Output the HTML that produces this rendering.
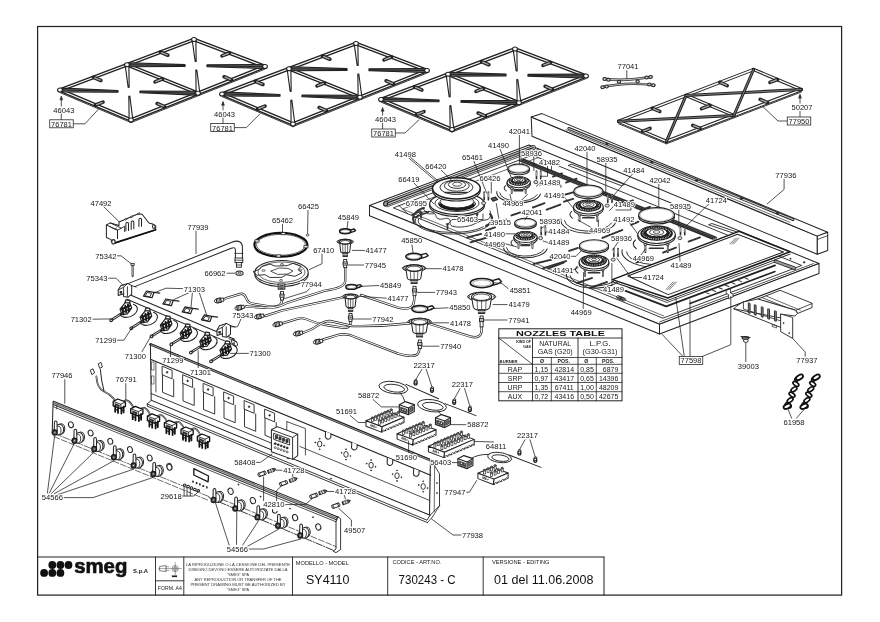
<!DOCTYPE html>
<html><head><meta charset="utf-8"><title>SY4110 exploded view</title>
<style>
html,body{margin:0;padding:0;background:#fff;}
body{width:880px;height:622px;overflow:hidden;}
svg{display:block;font-family:"Liberation Sans",sans-serif;will-change:transform;}
svg polyline,svg polygon,svg path,svg line{stroke-linejoin:round;stroke-linecap:round;}
</style></head><body>
<svg width="880" height="622" viewBox="0 0 880 622">
<rect x="0" y="0" width="880" height="622" fill="#fff"/>
<line x1="60" y1="90" x2="194" y2="39.5" stroke="#222" stroke-width="3.9"/>
<line x1="60" y1="90" x2="194" y2="39.5" stroke="#fff" stroke-width="1.12"/>
<line x1="194" y1="39.5" x2="265" y2="66.5" stroke="#222" stroke-width="3.9"/>
<line x1="194" y1="39.5" x2="265" y2="66.5" stroke="#fff" stroke-width="1.12"/>
<line x1="265" y1="66.5" x2="131" y2="120" stroke="#222" stroke-width="3.9"/>
<line x1="265" y1="66.5" x2="131" y2="120" stroke="#fff" stroke-width="1.12"/>
<line x1="131" y1="120" x2="60" y2="90" stroke="#222" stroke-width="3.9"/>
<line x1="131" y1="120" x2="60" y2="90" stroke="#fff" stroke-width="1.12"/>
<line x1="127" y1="64.75" x2="198" y2="93.25" stroke="#222" stroke-width="3.9"/>
<line x1="127" y1="64.75" x2="198" y2="93.25" stroke="#fff" stroke-width="1.12"/>
<polygon points="62.71,92.06 117.94,92.26 117.98,90.47 62.81,88.07" fill="#666" stroke="#222" stroke-width="1.12"/>
<line x1="62.76" y1="90.06" x2="117.96" y2="91.36" stroke="#222" stroke-width="1.01"/>
<polygon points="125.28,65.96 128.18,87.36 129.18,87.29 128.88,65.69" fill="#fff" stroke="#222" stroke-width="1.12"/>
<polygon points="195.29,91.19 140.06,90.99 140.02,92.78 195.19,95.18" fill="#666" stroke="#222" stroke-width="1.12"/>
<line x1="195.24" y1="93.19" x2="140.04" y2="91.89" stroke="#222" stroke-width="1.01"/>
<polygon points="132.72,118.74 129.82,96.13 128.82,96.2 129.12,118.99" fill="#fff" stroke="#222" stroke-width="1.12"/>
<polygon points="129.73,66.78 184.95,66.38 184.97,64.59 129.79,62.79" fill="#666" stroke="#222" stroke-width="1.12"/>
<line x1="129.76" y1="64.78" x2="184.96" y2="65.48" stroke="#222" stroke-width="1.01"/>
<polygon points="192.29,40.68 195.18,61.48 196.18,61.41 195.87,40.41" fill="#fff" stroke="#222" stroke-width="1.12"/>
<polygon points="262.27,64.47 207.05,64.87 207.03,66.66 262.21,68.46" fill="#666" stroke="#222" stroke-width="1.12"/>
<line x1="262.24" y1="66.47" x2="207.04" y2="65.77" stroke="#222" stroke-width="1.01"/>
<polygon points="199.72,92.02 196.82,70.01 195.82,70.08 196.12,92.27" fill="#fff" stroke="#222" stroke-width="1.12"/>
<line x1="60" y1="92.6" x2="131" y2="122.6" stroke="#222" stroke-width="0.9"/>
<line x1="131" y1="122.6" x2="265" y2="69.1" stroke="#222" stroke-width="0.9"/>
<line x1="93.5" y1="77.38" x2="100.87" y2="80.49" stroke="#222" stroke-width="3.6"/>
<line x1="94.61" y1="77.84" x2="100.13" y2="80.18" stroke="#aaa" stroke-width="1.34"/>
<line x1="164.5" y1="106.62" x2="157.13" y2="103.51" stroke="#222" stroke-width="3.6"/>
<line x1="163.39" y1="106.16" x2="157.87" y2="103.82" stroke="#aaa" stroke-width="1.34"/>
<line x1="160.5" y1="52.12" x2="167.87" y2="55.24" stroke="#222" stroke-width="3.6"/>
<line x1="161.61" y1="52.59" x2="167.13" y2="54.93" stroke="#aaa" stroke-width="1.34"/>
<line x1="231.5" y1="79.88" x2="224.13" y2="76.76" stroke="#222" stroke-width="3.6"/>
<line x1="230.39" y1="79.41" x2="224.87" y2="77.07" stroke="#aaa" stroke-width="1.34"/>
<line x1="95.5" y1="105" x2="102.99" y2="102.18" stroke="#222" stroke-width="3.6"/>
<line x1="96.62" y1="104.58" x2="102.24" y2="102.46" stroke="#aaa" stroke-width="1.34"/>
<line x1="229.5" y1="53" x2="222.01" y2="55.82" stroke="#222" stroke-width="3.6"/>
<line x1="228.38" y1="53.42" x2="222.76" y2="55.54" stroke="#aaa" stroke-width="1.34"/>
<line x1="162.5" y1="79" x2="155.01" y2="81.82" stroke="#222" stroke-width="3.6"/>
<line x1="161.38" y1="79.42" x2="155.76" y2="81.54" stroke="#aaa" stroke-width="1.34"/>
<ellipse cx="60" cy="90" rx="2.4" ry="2" fill="#fff" stroke="#222" stroke-width="1.12"/>
<ellipse cx="194" cy="39.5" rx="2.4" ry="2" fill="#fff" stroke="#222" stroke-width="1.12"/>
<ellipse cx="265" cy="66.5" rx="2.4" ry="2" fill="#fff" stroke="#222" stroke-width="1.12"/>
<ellipse cx="131" cy="120" rx="2.4" ry="2" fill="#fff" stroke="#222" stroke-width="1.12"/>
<ellipse cx="127" cy="64.75" rx="2.4" ry="2" fill="#fff" stroke="#222" stroke-width="1.12"/>
<ellipse cx="198" cy="93.25" rx="2.4" ry="2" fill="#fff" stroke="#222" stroke-width="1.12"/>
<line x1="222" y1="94" x2="356" y2="43.5" stroke="#222" stroke-width="3.9"/>
<line x1="222" y1="94" x2="356" y2="43.5" stroke="#fff" stroke-width="1.12"/>
<line x1="356" y1="43.5" x2="427" y2="70.5" stroke="#222" stroke-width="3.9"/>
<line x1="356" y1="43.5" x2="427" y2="70.5" stroke="#fff" stroke-width="1.12"/>
<line x1="427" y1="70.5" x2="293" y2="124" stroke="#222" stroke-width="3.9"/>
<line x1="427" y1="70.5" x2="293" y2="124" stroke="#fff" stroke-width="1.12"/>
<line x1="293" y1="124" x2="222" y2="94" stroke="#222" stroke-width="3.9"/>
<line x1="293" y1="124" x2="222" y2="94" stroke="#fff" stroke-width="1.12"/>
<line x1="289" y1="68.75" x2="360" y2="97.25" stroke="#222" stroke-width="3.9"/>
<line x1="289" y1="68.75" x2="360" y2="97.25" stroke="#fff" stroke-width="1.12"/>
<polygon points="224.71,96.06 279.94,96.26 279.98,94.47 224.81,92.07" fill="#666" stroke="#222" stroke-width="1.12"/>
<line x1="224.76" y1="94.06" x2="279.96" y2="95.36" stroke="#222" stroke-width="1.01"/>
<polygon points="287.28,69.96 290.18,91.36 291.18,91.29 290.88,69.69" fill="#fff" stroke="#222" stroke-width="1.12"/>
<polygon points="357.29,95.19 302.06,94.99 302.02,96.78 357.19,99.18" fill="#666" stroke="#222" stroke-width="1.12"/>
<line x1="357.24" y1="97.19" x2="302.04" y2="95.89" stroke="#222" stroke-width="1.01"/>
<polygon points="294.72,122.74 291.82,100.13 290.82,100.2 291.12,122.99" fill="#fff" stroke="#222" stroke-width="1.12"/>
<polygon points="291.73,70.78 346.95,70.38 346.97,68.59 291.79,66.79" fill="#666" stroke="#222" stroke-width="1.12"/>
<line x1="291.76" y1="68.78" x2="346.96" y2="69.48" stroke="#222" stroke-width="1.01"/>
<polygon points="354.29,44.68 357.18,65.48 358.18,65.41 357.87,44.41" fill="#fff" stroke="#222" stroke-width="1.12"/>
<polygon points="424.27,68.47 369.05,68.87 369.03,70.66 424.21,72.46" fill="#666" stroke="#222" stroke-width="1.12"/>
<line x1="424.24" y1="70.47" x2="369.04" y2="69.77" stroke="#222" stroke-width="1.01"/>
<polygon points="361.72,96.02 358.82,74.01 357.82,74.08 358.12,96.27" fill="#fff" stroke="#222" stroke-width="1.12"/>
<line x1="222" y1="96.6" x2="293" y2="126.6" stroke="#222" stroke-width="0.9"/>
<line x1="293" y1="126.6" x2="427" y2="73.1" stroke="#222" stroke-width="0.9"/>
<line x1="255.5" y1="81.38" x2="262.87" y2="84.49" stroke="#222" stroke-width="3.6"/>
<line x1="256.61" y1="81.84" x2="262.13" y2="84.18" stroke="#aaa" stroke-width="1.34"/>
<line x1="326.5" y1="110.62" x2="319.13" y2="107.51" stroke="#222" stroke-width="3.6"/>
<line x1="325.39" y1="110.16" x2="319.87" y2="107.82" stroke="#aaa" stroke-width="1.34"/>
<line x1="322.5" y1="56.12" x2="329.87" y2="59.24" stroke="#222" stroke-width="3.6"/>
<line x1="323.61" y1="56.59" x2="329.13" y2="58.93" stroke="#aaa" stroke-width="1.34"/>
<line x1="393.5" y1="83.88" x2="386.13" y2="80.76" stroke="#222" stroke-width="3.6"/>
<line x1="392.39" y1="83.41" x2="386.87" y2="81.07" stroke="#aaa" stroke-width="1.34"/>
<line x1="257.5" y1="109" x2="264.99" y2="106.18" stroke="#222" stroke-width="3.6"/>
<line x1="258.62" y1="108.58" x2="264.24" y2="106.46" stroke="#aaa" stroke-width="1.34"/>
<line x1="391.5" y1="57" x2="384.01" y2="59.82" stroke="#222" stroke-width="3.6"/>
<line x1="390.38" y1="57.42" x2="384.76" y2="59.54" stroke="#aaa" stroke-width="1.34"/>
<line x1="324.5" y1="83" x2="317.01" y2="85.82" stroke="#222" stroke-width="3.6"/>
<line x1="323.38" y1="83.42" x2="317.76" y2="85.54" stroke="#aaa" stroke-width="1.34"/>
<ellipse cx="222" cy="94" rx="2.4" ry="2" fill="#fff" stroke="#222" stroke-width="1.12"/>
<ellipse cx="356" cy="43.5" rx="2.4" ry="2" fill="#fff" stroke="#222" stroke-width="1.12"/>
<ellipse cx="427" cy="70.5" rx="2.4" ry="2" fill="#fff" stroke="#222" stroke-width="1.12"/>
<ellipse cx="293" cy="124" rx="2.4" ry="2" fill="#fff" stroke="#222" stroke-width="1.12"/>
<ellipse cx="289" cy="68.75" rx="2.4" ry="2" fill="#fff" stroke="#222" stroke-width="1.12"/>
<ellipse cx="360" cy="97.25" rx="2.4" ry="2" fill="#fff" stroke="#222" stroke-width="1.12"/>
<line x1="381" y1="99.5" x2="515" y2="49" stroke="#222" stroke-width="3.9"/>
<line x1="381" y1="99.5" x2="515" y2="49" stroke="#fff" stroke-width="1.12"/>
<line x1="515" y1="49" x2="586" y2="76" stroke="#222" stroke-width="3.9"/>
<line x1="515" y1="49" x2="586" y2="76" stroke="#fff" stroke-width="1.12"/>
<line x1="586" y1="76" x2="452" y2="129.5" stroke="#222" stroke-width="3.9"/>
<line x1="586" y1="76" x2="452" y2="129.5" stroke="#fff" stroke-width="1.12"/>
<line x1="452" y1="129.5" x2="381" y2="99.5" stroke="#222" stroke-width="3.9"/>
<line x1="452" y1="129.5" x2="381" y2="99.5" stroke="#fff" stroke-width="1.12"/>
<line x1="448" y1="74.25" x2="519" y2="102.75" stroke="#222" stroke-width="3.9"/>
<line x1="448" y1="74.25" x2="519" y2="102.75" stroke="#fff" stroke-width="1.12"/>
<polygon points="383.71,101.56 438.94,101.76 438.98,99.97 383.81,97.57" fill="#666" stroke="#222" stroke-width="1.12"/>
<line x1="383.76" y1="99.56" x2="438.96" y2="100.86" stroke="#222" stroke-width="1.01"/>
<polygon points="446.28,75.46 449.18,96.86 450.18,96.79 449.88,75.19" fill="#fff" stroke="#222" stroke-width="1.12"/>
<polygon points="516.29,100.69 461.06,100.49 461.02,102.28 516.19,104.68" fill="#666" stroke="#222" stroke-width="1.12"/>
<line x1="516.24" y1="102.69" x2="461.04" y2="101.39" stroke="#222" stroke-width="1.01"/>
<polygon points="453.72,128.24 450.82,105.63 449.82,105.7 450.12,128.49" fill="#fff" stroke="#222" stroke-width="1.12"/>
<polygon points="450.73,76.28 505.95,75.88 505.97,74.09 450.79,72.29" fill="#666" stroke="#222" stroke-width="1.12"/>
<line x1="450.76" y1="74.28" x2="505.96" y2="74.98" stroke="#222" stroke-width="1.01"/>
<polygon points="513.29,50.18 516.18,70.98 517.18,70.91 516.87,49.91" fill="#fff" stroke="#222" stroke-width="1.12"/>
<polygon points="583.27,73.97 528.05,74.37 528.03,76.16 583.21,77.96" fill="#666" stroke="#222" stroke-width="1.12"/>
<line x1="583.24" y1="75.97" x2="528.04" y2="75.27" stroke="#222" stroke-width="1.01"/>
<polygon points="520.72,101.52 517.82,79.51 516.82,79.58 517.12,101.77" fill="#fff" stroke="#222" stroke-width="1.12"/>
<line x1="381" y1="102.1" x2="452" y2="132.1" stroke="#222" stroke-width="0.9"/>
<line x1="452" y1="132.1" x2="586" y2="78.6" stroke="#222" stroke-width="0.9"/>
<line x1="414.5" y1="86.88" x2="421.87" y2="89.99" stroke="#222" stroke-width="3.6"/>
<line x1="415.61" y1="87.34" x2="421.13" y2="89.68" stroke="#aaa" stroke-width="1.34"/>
<line x1="485.5" y1="116.12" x2="478.13" y2="113.01" stroke="#222" stroke-width="3.6"/>
<line x1="484.39" y1="115.66" x2="478.87" y2="113.32" stroke="#aaa" stroke-width="1.34"/>
<line x1="481.5" y1="61.62" x2="488.87" y2="64.74" stroke="#222" stroke-width="3.6"/>
<line x1="482.61" y1="62.09" x2="488.13" y2="64.43" stroke="#aaa" stroke-width="1.34"/>
<line x1="552.5" y1="89.38" x2="545.13" y2="86.26" stroke="#222" stroke-width="3.6"/>
<line x1="551.39" y1="88.91" x2="545.87" y2="86.57" stroke="#aaa" stroke-width="1.34"/>
<line x1="416.5" y1="114.5" x2="423.99" y2="111.68" stroke="#222" stroke-width="3.6"/>
<line x1="417.62" y1="114.08" x2="423.24" y2="111.96" stroke="#aaa" stroke-width="1.34"/>
<line x1="550.5" y1="62.5" x2="543.01" y2="65.32" stroke="#222" stroke-width="3.6"/>
<line x1="549.38" y1="62.92" x2="543.76" y2="65.04" stroke="#aaa" stroke-width="1.34"/>
<line x1="483.5" y1="88.5" x2="476.01" y2="91.32" stroke="#222" stroke-width="3.6"/>
<line x1="482.38" y1="88.92" x2="476.76" y2="91.04" stroke="#aaa" stroke-width="1.34"/>
<ellipse cx="381" cy="99.5" rx="2.4" ry="2" fill="#fff" stroke="#222" stroke-width="1.12"/>
<ellipse cx="515" cy="49" rx="2.4" ry="2" fill="#fff" stroke="#222" stroke-width="1.12"/>
<ellipse cx="586" cy="76" rx="2.4" ry="2" fill="#fff" stroke="#222" stroke-width="1.12"/>
<ellipse cx="452" cy="129.5" rx="2.4" ry="2" fill="#fff" stroke="#222" stroke-width="1.12"/>
<ellipse cx="448" cy="74.25" rx="2.4" ry="2" fill="#fff" stroke="#222" stroke-width="1.12"/>
<ellipse cx="519" cy="102.75" rx="2.4" ry="2" fill="#fff" stroke="#222" stroke-width="1.12"/>
<line x1="618.6" y1="121.3" x2="753.6" y2="69.5" stroke="#222" stroke-width="3.4"/>
<line x1="618.6" y1="121.3" x2="753.6" y2="69.5" stroke="#fff" stroke-width="1.34"/>
<line x1="753.6" y1="69.5" x2="801.3" y2="89.6" stroke="#222" stroke-width="3.4"/>
<line x1="753.6" y1="69.5" x2="801.3" y2="89.6" stroke="#fff" stroke-width="1.34"/>
<line x1="801.3" y1="89.6" x2="666.4" y2="141.4" stroke="#222" stroke-width="3.4"/>
<line x1="801.3" y1="89.6" x2="666.4" y2="141.4" stroke="#fff" stroke-width="1.34"/>
<line x1="666.4" y1="141.4" x2="618.6" y2="121.3" stroke="#222" stroke-width="3.4"/>
<line x1="666.4" y1="141.4" x2="618.6" y2="121.3" stroke="#fff" stroke-width="1.34"/>
<line x1="686.1" y1="95.4" x2="733.85" y2="115.5" stroke="#222" stroke-width="3.4"/>
<line x1="686.1" y1="95.4" x2="733.85" y2="115.5" stroke="#fff" stroke-width="1.34"/>
<line x1="618.6" y1="123.7" x2="666.4" y2="143.8" stroke="#222" stroke-width="0.9"/>
<line x1="666.4" y1="143.8" x2="801.3" y2="92" stroke="#222" stroke-width="0.9"/>
<line x1="618.6" y1="121.3" x2="733.85" y2="115.5" stroke="#222" stroke-width="3"/>
<line x1="618.6" y1="121.3" x2="733.85" y2="115.5" stroke="#999" stroke-width="0.78"/>
<line x1="686.1" y1="95.4" x2="666.4" y2="141.4" stroke="#222" stroke-width="3"/>
<line x1="686.1" y1="95.4" x2="666.4" y2="141.4" stroke="#999" stroke-width="0.78"/>
<line x1="686.1" y1="95.4" x2="801.3" y2="89.6" stroke="#222" stroke-width="3"/>
<line x1="686.1" y1="95.4" x2="801.3" y2="89.6" stroke="#999" stroke-width="0.78"/>
<line x1="753.6" y1="69.5" x2="733.85" y2="115.5" stroke="#222" stroke-width="3"/>
<line x1="753.6" y1="69.5" x2="733.85" y2="115.5" stroke="#999" stroke-width="0.78"/>
<line x1="652.35" y1="108.35" x2="659.72" y2="111.45" stroke="#222" stroke-width="3.6"/>
<line x1="653.46" y1="108.82" x2="658.99" y2="111.14" stroke="#aaa" stroke-width="1.34"/>
<line x1="700.12" y1="128.45" x2="692.75" y2="125.35" stroke="#222" stroke-width="3.6"/>
<line x1="699.02" y1="127.98" x2="693.49" y2="125.66" stroke="#aaa" stroke-width="1.34"/>
<line x1="719.85" y1="82.45" x2="727.22" y2="85.55" stroke="#222" stroke-width="3.6"/>
<line x1="720.96" y1="82.92" x2="726.49" y2="85.24" stroke="#aaa" stroke-width="1.34"/>
<line x1="767.57" y1="102.55" x2="760.2" y2="99.45" stroke="#222" stroke-width="3.6"/>
<line x1="766.47" y1="102.08" x2="760.94" y2="99.76" stroke="#aaa" stroke-width="1.34"/>
<line x1="709.97" y1="105.45" x2="701.57" y2="108.67" stroke="#222" stroke-width="3.6"/>
<line x1="708.85" y1="105.88" x2="702.32" y2="108.39" stroke="#aaa" stroke-width="1.34"/>
<line x1="642.5" y1="131.35" x2="649.97" y2="128.48" stroke="#222" stroke-width="3.6"/>
<line x1="643.62" y1="130.92" x2="649.22" y2="128.77" stroke="#aaa" stroke-width="1.34"/>
<line x1="777.45" y1="79.55" x2="769.98" y2="82.42" stroke="#222" stroke-width="3.6"/>
<line x1="776.33" y1="79.98" x2="770.73" y2="82.13" stroke="#aaa" stroke-width="1.34"/>
<path d="M604,78.9 Q626,81.6 651.4,76.8" fill="none" stroke="#333" stroke-width="2.6"/>
<path d="M604,78.9 Q626,81.6 651.4,76.8" fill="none" stroke="#bbb" stroke-width="1.12"/>
<path d="M601.8,87.3 Q626,81.4 654.2,85.2" fill="none" stroke="#333" stroke-width="2.6"/>
<path d="M601.8,87.3 Q626,81.4 654.2,85.2" fill="none" stroke="#bbb" stroke-width="1.12"/>
<ellipse cx="604.6" cy="79" rx="1.7" ry="1.5" fill="#ccc" stroke="#222" stroke-width="1.01"/>
<ellipse cx="608.4" cy="79.8" rx="1.7" ry="1.5" fill="#ccc" stroke="#222" stroke-width="1.01"/>
<ellipse cx="650.6" cy="76.9" rx="1.7" ry="1.5" fill="#ccc" stroke="#222" stroke-width="1.01"/>
<ellipse cx="646.6" cy="77.6" rx="1.7" ry="1.5" fill="#ccc" stroke="#222" stroke-width="1.01"/>
<ellipse cx="602.6" cy="87.2" rx="1.7" ry="1.5" fill="#ccc" stroke="#222" stroke-width="1.01"/>
<ellipse cx="606.6" cy="86.4" rx="1.7" ry="1.5" fill="#ccc" stroke="#222" stroke-width="1.01"/>
<ellipse cx="653.4" cy="85.2" rx="1.7" ry="1.5" fill="#ccc" stroke="#222" stroke-width="1.01"/>
<ellipse cx="649.4" cy="84.6" rx="1.7" ry="1.5" fill="#ccc" stroke="#222" stroke-width="1.01"/>
<ellipse cx="619" cy="81.8" rx="1.7" ry="1.5" fill="#ccc" stroke="#222" stroke-width="1.01"/>
<ellipse cx="637.6" cy="81.6" rx="1.7" ry="1.5" fill="#ccc" stroke="#222" stroke-width="1.01"/>
<polygon points="369.5,205.5 659.5,324.2 819,263.5 529,145" fill="#fff" stroke="#222" stroke-width="1.01"/>
<polygon points="369.5,205.5 369.5,215.8 659.5,334 659.5,324.2" fill="#fff" stroke="#222" stroke-width="1.01"/>
<polygon points="659.5,324.2 659.5,334 819,273.5 819,263.5" fill="#fff" stroke="#222" stroke-width="1.01"/>
<polygon points="393.66,208.01 662.83,318.19 801.76,265.49 532.59,155.32" fill="none" stroke="#222" stroke-width="0.9"/>
<polyline points="663.79,316 402.48,209.05 538.14,157.59" fill="none" stroke="#222" stroke-width="0.67"/>
<line x1="398.6" y1="205.2" x2="407.7" y2="213.7" stroke="#222" stroke-width="0.78"/>
<line x1="412" y1="214.6" x2="421" y2="211.2" stroke="#333" stroke-width="1.46"/>
<line x1="414.6" y1="217.4" x2="428.6" y2="212" stroke="#333" stroke-width="1.46"/>
<line x1="385.71" y1="203.58" x2="533.43" y2="147.55" stroke="#222" stroke-width="5"/>
<line x1="385.71" y1="203.58" x2="533.43" y2="147.55" stroke="#bbb" stroke-width="3.4"/>
<line x1="385.71" y1="203.58" x2="533.43" y2="147.55" stroke="#222" stroke-width="1.01"/>
<ellipse cx="385.71" cy="203.58" rx="1.9" ry="2.6" fill="#999" stroke="#222" stroke-width="1.01" transform="rotate(20 385.71 203.58)"/>
<line x1="387.16" y1="206.83" x2="538.25" y2="149.52" stroke="#222" stroke-width="0.78"/>
<line x1="659.53" y1="322" x2="813.42" y2="263.63" stroke="#222" stroke-width="0.78"/>
<line x1="521" y1="159.8" x2="714.5" y2="238.2" stroke="#999" stroke-width="4.8" stroke-dasharray="0.8 0.8" stroke-linecap="butt"/>
<line x1="519.13" y1="160.51" x2="712.63" y2="238.91" stroke="#222" stroke-width="1.23"/>
<line x1="521" y1="159.8" x2="714.5" y2="238.2" stroke="#222" stroke-width="1.23"/>
<line x1="522.87" y1="159.09" x2="716.37" y2="237.49" stroke="#222" stroke-width="1.23"/>
<polygon points="568.5,165.3 571.4,164.2 624.5,184.4 621.6,185.5" fill="#fff" stroke="#222" stroke-width="0.9"/>
<polygon points="709,224.6 711.8,223.5 740.6,233.2 737.7,234.3" fill="#fff" stroke="#222" stroke-width="0.9"/>
<line x1="532.9" y1="207.5" x2="544.5" y2="203.2" stroke="#333" stroke-width="1.9" stroke-dasharray="1.1 0.6" stroke-linecap="butt"/>
<line x1="546.6" y1="209.7" x2="560.4" y2="204.6" stroke="#333" stroke-width="1.9" stroke-dasharray="1.1 0.6" stroke-linecap="butt"/>
<line x1="565.5" y1="194.5" x2="573.4" y2="192.3" stroke="#333" stroke-width="1.9" stroke-dasharray="1.1 0.6" stroke-linecap="butt"/>
<line x1="564" y1="201.7" x2="573.4" y2="198.8" stroke="#333" stroke-width="1.9" stroke-dasharray="1.1 0.6" stroke-linecap="butt"/>
<line x1="602.4" y1="237.9" x2="622.6" y2="229.9" stroke="#333" stroke-width="1.9" stroke-dasharray="1.1 0.6" stroke-linecap="butt"/>
<line x1="631.3" y1="224.9" x2="638.6" y2="221.6" stroke="#333" stroke-width="1.9" stroke-dasharray="1.1 0.6" stroke-linecap="butt"/>
<line x1="569.1" y1="250.9" x2="577.8" y2="248" stroke="#333" stroke-width="1.9" stroke-dasharray="1.1 0.6" stroke-linecap="butt"/>
<line x1="533.6" y1="264" x2="551.7" y2="259.6" stroke="#333" stroke-width="1.9" stroke-dasharray="1.1 0.6" stroke-linecap="butt"/>
<line x1="543" y1="268.3" x2="566.2" y2="261.1" stroke="#333" stroke-width="1.9" stroke-dasharray="1.1 0.6" stroke-linecap="butt"/>
<line x1="467" y1="237.6" x2="481.5" y2="233.8" stroke="#333" stroke-width="1.9" stroke-dasharray="1.1 0.6" stroke-linecap="butt"/>
<line x1="511.4" y1="215.4" x2="520.1" y2="212.5" stroke="#333" stroke-width="1.9" stroke-dasharray="1.1 0.6" stroke-linecap="butt"/>
<line x1="548.1" y1="268.5" x2="563.6" y2="262.7" stroke="#333" stroke-width="1.9" stroke-dasharray="1.1 0.6" stroke-linecap="butt"/>
<line x1="470.5" y1="242.4" x2="487" y2="237.6" stroke="#333" stroke-width="1.9" stroke-dasharray="1.1 0.6" stroke-linecap="butt"/>
<line x1="497" y1="222.6" x2="506" y2="219.6" stroke="#333" stroke-width="1.9" stroke-dasharray="1.1 0.6" stroke-linecap="butt"/>
<line x1="486" y1="230.4" x2="495.6" y2="227.2" stroke="#333" stroke-width="1.9" stroke-dasharray="1.1 0.6" stroke-linecap="butt"/>
<line x1="577" y1="283" x2="592" y2="278" stroke="#333" stroke-width="1.9" stroke-dasharray="1.1 0.6" stroke-linecap="butt"/>
<line x1="590" y1="288" x2="607" y2="282" stroke="#333" stroke-width="1.9" stroke-dasharray="1.1 0.6" stroke-linecap="butt"/>
<line x1="600.6" y1="247.4" x2="607.4" y2="245" stroke="#333" stroke-width="1.9" stroke-dasharray="1.1 0.6" stroke-linecap="butt"/>
<line x1="663" y1="252.6" x2="676" y2="247.6" stroke="#333" stroke-width="1.9" stroke-dasharray="1.1 0.6" stroke-linecap="butt"/>
<line x1="636.5" y1="262.4" x2="650" y2="257.4" stroke="#333" stroke-width="1.9" stroke-dasharray="1.1 0.6" stroke-linecap="butt"/>
<line x1="688.6" y1="241.6" x2="700" y2="237.4" stroke="#333" stroke-width="1.9" stroke-dasharray="1.1 0.6" stroke-linecap="butt"/>
<line x1="553" y1="176.6" x2="562" y2="173.4" stroke="#333" stroke-width="1.9" stroke-dasharray="1.1 0.6" stroke-linecap="butt"/>
<line x1="566" y1="182.6" x2="577" y2="178.6" stroke="#333" stroke-width="1.9" stroke-dasharray="1.1 0.6" stroke-linecap="butt"/>
<line x1="624" y1="203.6" x2="633" y2="200.4" stroke="#333" stroke-width="1.9" stroke-dasharray="1.1 0.6" stroke-linecap="butt"/>
<line x1="642" y1="209.8" x2="650" y2="206.8" stroke="#333" stroke-width="1.9" stroke-dasharray="1.1 0.6" stroke-linecap="butt"/>
<path d="M417,216 c4,-5 12,-6 17,-3 c3,2 1,5 5,6 c4,1 7,-2 10,0 c3,2 -1,5 3,7 c5,2 14,1 20,-1 c5,-2 9,-5 13,-5 c5,0 7,-5 5,-9" fill="none" stroke="#222" stroke-width="0.9"/>
<path d="M488.71,225.45 A38,13 0 0 1 417.29,216.55" fill="none" stroke="#222" stroke-width="0.9"/>
<path d="M483.31,226.75 A35,11.5 0 0 1 418.53,219" fill="none" stroke="#222" stroke-width="0.9"/>
<path d="M414,222 c-3,-6 2,-12 10,-14" fill="none" stroke="#333" stroke-width="2.02"/>
<path d="M486,226 c6,-3 8,-8 4,-12" fill="none" stroke="#333" stroke-width="2.02"/>
<ellipse cx="457" cy="205.7" rx="27.4" ry="10.7" fill="#fff" stroke="#222" stroke-width="1.12"/>
<ellipse cx="457" cy="203.7" rx="27.4" ry="10.7" fill="#fff" stroke="#222" stroke-width="1.23"/>
<ellipse cx="457" cy="203.2" rx="22" ry="8.3" fill="#fff" stroke="#222" stroke-width="0.9"/>
<path d="M474.33,203.65 A17.5,6.8 0 0 1 439.67,203.65" fill="none" stroke="#1a1a1a" stroke-width="3.2"/>
<path d="M474.3,203.7 A17.5,6.8 0 0 0 439.7,203.7" fill="none" stroke="#ddd" stroke-width="1.34" stroke-dasharray="0.8 1.1"/>
<ellipse cx="457" cy="201.7" rx="17" ry="6.2" fill="none" stroke="#222" stroke-width="0.9"/>
<ellipse cx="456.4" cy="190.4" rx="23.9" ry="10.6" fill="#fff" stroke="#222" stroke-width="1.12"/>
<ellipse cx="456.4" cy="188.3" rx="23.9" ry="10.6" fill="#fff" stroke="#1a1a1a" stroke-width="1.46"/>
<ellipse cx="456.4" cy="187.3" rx="16.5" ry="7.2" fill="#fff" stroke="#222" stroke-width="0.9"/>
<ellipse cx="456.8" cy="185.8" rx="12.5" ry="5.4" fill="#fff" stroke="#222" stroke-width="0.9"/>
<ellipse cx="457" cy="184.6" rx="8.6" ry="3.8" fill="#fff" stroke="#222" stroke-width="0.9"/>
<ellipse cx="457.2" cy="184.2" rx="4.6" ry="2" fill="#fff" stroke="#222" stroke-width="0.78"/>
<line x1="445" y1="192.5" x2="467" y2="192.5" stroke="#333" stroke-width="1.34" stroke-dasharray="1.5 0.8"/>
<line x1="421" y1="213" x2="421" y2="218" stroke="#333" stroke-width="1.68"/>
<line x1="419.7" y1="213" x2="422.3" y2="213" stroke="#222" stroke-width="1.01"/>
<line x1="447.5" y1="224" x2="447.5" y2="229" stroke="#333" stroke-width="1.68"/>
<line x1="446.2" y1="224" x2="448.8" y2="224" stroke="#222" stroke-width="1.01"/>
<line x1="477" y1="214" x2="477" y2="219" stroke="#333" stroke-width="1.68"/>
<line x1="475.7" y1="214" x2="478.3" y2="214" stroke="#222" stroke-width="1.01"/>
<path d="M540.37,194.07 A21.88,10.28 0 0 1 496.94,191.57" fill="none" stroke="#222" stroke-width="1.01"/>
<path d="M537.12,194.73 A18.98,8.66 0 0 1 499.73,192.94" fill="none" stroke="#222" stroke-width="0.9"/>
<path d="M506.14,190.9 A14.5,5.8 0 0 1 505.56,185.55" fill="none" stroke="#222" stroke-width="1.01"/>
<ellipse cx="518.7" cy="184.2" rx="11.6" ry="5.45" fill="#fff" stroke="#222" stroke-width="1.01"/>
<rect x="507.1" y="182.2" width="23.2" height="2" fill="#fff" stroke="none" stroke-width="0"/>
<line x1="507.1" y1="182.2" x2="507.1" y2="184.2" stroke="#222" stroke-width="1.01"/>
<line x1="530.3" y1="182.2" x2="530.3" y2="184.2" stroke="#222" stroke-width="1.01"/>
<ellipse cx="518.7" cy="182.2" rx="11.6" ry="5.45" fill="#fff" stroke="#222" stroke-width="1.01"/>
<ellipse cx="518.7" cy="181" rx="9.74" ry="4.25" fill="#222" stroke="#111" stroke-width="1.01"/>
<ellipse cx="518.7" cy="180.8" rx="8.58" ry="3.6" fill="#222" stroke="#ddd" stroke-width="1.34" stroke-dasharray="0.7 1.0"/>
<ellipse cx="518.7" cy="180" rx="6.5" ry="2.73" fill="#fff" stroke="#111" stroke-width="0.9"/>
<ellipse cx="518.7" cy="179.8" rx="4.41" ry="1.85" fill="#fff" stroke="#222" stroke-width="0.9"/>
<ellipse cx="518.7" cy="179.6" rx="2.09" ry="0.87" fill="#fff" stroke="#222" stroke-width="0.78"/>
<line x1="511.74" y1="189.27" x2="511.74" y2="193.1" stroke="#222" stroke-width="1.79"/>
<line x1="511.74" y1="189.67" x2="511.74" y2="192.83" stroke="#fff" stroke-width="0.56"/>
<ellipse cx="511.74" cy="188.47" rx="1.4" ry="0.9" fill="#fff" stroke="#222" stroke-width="0.9"/>
<line x1="525.66" y1="189.27" x2="525.66" y2="193.1" stroke="#222" stroke-width="1.79"/>
<line x1="525.66" y1="189.67" x2="525.66" y2="192.83" stroke="#fff" stroke-width="0.56"/>
<ellipse cx="525.66" cy="188.47" rx="1.4" ry="0.9" fill="#fff" stroke="#222" stroke-width="0.9"/>
<line x1="514.29" y1="190.65" x2="523.11" y2="190.65" stroke="#333" stroke-width="1.68" stroke-dasharray="1.2 0.6"/>
<ellipse cx="518.7" cy="170.3" rx="10.8" ry="4.43" fill="#fff" stroke="#222" stroke-width="1.12"/>
<rect x="508.3" y="168.6" width="20.8" height="1.7" fill="#fff" stroke="none" stroke-width="0"/>
<ellipse cx="518.7" cy="168.6" rx="10.8" ry="4.43" fill="#fff" stroke="#222" stroke-width="1.12"/>
<ellipse cx="518.7" cy="168.6" rx="9.5" ry="3.63" fill="none" stroke="#888" stroke-width="0.56"/>
<path d="M547.17,248.87 A21.88,10.28 0 0 1 503.74,246.37" fill="none" stroke="#222" stroke-width="1.01"/>
<path d="M543.92,249.53 A18.98,8.66 0 0 1 506.53,247.74" fill="none" stroke="#222" stroke-width="0.9"/>
<path d="M512.94,245.7 A14.5,5.8 0 0 1 512.36,240.35" fill="none" stroke="#222" stroke-width="1.01"/>
<ellipse cx="525.5" cy="239" rx="11.6" ry="5.45" fill="#fff" stroke="#222" stroke-width="1.01"/>
<rect x="513.9" y="237" width="23.2" height="2" fill="#fff" stroke="none" stroke-width="0"/>
<line x1="513.9" y1="237" x2="513.9" y2="239" stroke="#222" stroke-width="1.01"/>
<line x1="537.1" y1="237" x2="537.1" y2="239" stroke="#222" stroke-width="1.01"/>
<ellipse cx="525.5" cy="237" rx="11.6" ry="5.45" fill="#fff" stroke="#222" stroke-width="1.01"/>
<ellipse cx="525.5" cy="235.8" rx="9.74" ry="4.25" fill="#222" stroke="#111" stroke-width="1.01"/>
<ellipse cx="525.5" cy="235.6" rx="8.58" ry="3.6" fill="#222" stroke="#ddd" stroke-width="1.34" stroke-dasharray="0.7 1.0"/>
<ellipse cx="525.5" cy="234.8" rx="6.5" ry="2.73" fill="#fff" stroke="#111" stroke-width="0.9"/>
<ellipse cx="525.5" cy="234.6" rx="4.41" ry="1.85" fill="#fff" stroke="#222" stroke-width="0.9"/>
<ellipse cx="525.5" cy="234.4" rx="2.09" ry="0.87" fill="#fff" stroke="#222" stroke-width="0.78"/>
<line x1="518.54" y1="244.07" x2="518.54" y2="247.9" stroke="#222" stroke-width="1.79"/>
<line x1="518.54" y1="244.47" x2="518.54" y2="247.63" stroke="#fff" stroke-width="0.56"/>
<ellipse cx="518.54" cy="243.27" rx="1.4" ry="0.9" fill="#fff" stroke="#222" stroke-width="0.9"/>
<line x1="532.46" y1="244.07" x2="532.46" y2="247.9" stroke="#222" stroke-width="1.79"/>
<line x1="532.46" y1="244.47" x2="532.46" y2="247.63" stroke="#fff" stroke-width="0.56"/>
<ellipse cx="532.46" cy="243.27" rx="1.4" ry="0.9" fill="#fff" stroke="#222" stroke-width="0.9"/>
<line x1="521.09" y1="245.45" x2="529.91" y2="245.45" stroke="#333" stroke-width="1.68" stroke-dasharray="1.2 0.6"/>
<ellipse cx="525.5" cy="224.5" rx="10.8" ry="4.43" fill="#fff" stroke="#222" stroke-width="1.12"/>
<rect x="515.1" y="222.8" width="20.8" height="1.7" fill="#fff" stroke="none" stroke-width="0"/>
<ellipse cx="525.5" cy="222.8" rx="10.8" ry="4.43" fill="#fff" stroke="#222" stroke-width="1.12"/>
<ellipse cx="525.5" cy="222.8" rx="9.5" ry="3.63" fill="none" stroke="#888" stroke-width="0.56"/>
<path d="M615.77,222.11 A27.64,12.84 0 0 1 560.91,218.98" fill="none" stroke="#222" stroke-width="1.01"/>
<path d="M611.63,222.93 A23.94,10.77 0 0 1 564.47,220.7" fill="none" stroke="#222" stroke-width="0.9"/>
<path d="M572.38,218.1 A18.5,7.4 0 0 1 571.63,211.27" fill="none" stroke="#222" stroke-width="1.01"/>
<ellipse cx="588.4" cy="209" rx="14.8" ry="6.96" fill="#fff" stroke="#222" stroke-width="1.01"/>
<rect x="573.6" y="207" width="29.6" height="2" fill="#fff" stroke="none" stroke-width="0"/>
<line x1="573.6" y1="207" x2="573.6" y2="209" stroke="#222" stroke-width="1.01"/>
<line x1="603.2" y1="207" x2="603.2" y2="209" stroke="#222" stroke-width="1.01"/>
<ellipse cx="588.4" cy="207" rx="14.8" ry="6.96" fill="#fff" stroke="#222" stroke-width="1.01"/>
<ellipse cx="588.4" cy="205.8" rx="12.43" ry="5.43" fill="#222" stroke="#111" stroke-width="1.01"/>
<ellipse cx="588.4" cy="205.6" rx="10.95" ry="4.59" fill="#222" stroke="#ddd" stroke-width="1.34" stroke-dasharray="0.7 1.0"/>
<ellipse cx="588.4" cy="204.8" rx="8.29" ry="3.48" fill="#fff" stroke="#111" stroke-width="0.9"/>
<ellipse cx="588.4" cy="204.6" rx="5.62" ry="2.37" fill="#fff" stroke="#222" stroke-width="0.9"/>
<ellipse cx="588.4" cy="204.4" rx="2.66" ry="1.11" fill="#fff" stroke="#222" stroke-width="0.78"/>
<line x1="579.52" y1="215.8" x2="579.52" y2="220.91" stroke="#222" stroke-width="1.79"/>
<line x1="579.52" y1="216.2" x2="579.52" y2="220.56" stroke="#fff" stroke-width="0.56"/>
<ellipse cx="579.52" cy="215" rx="1.4" ry="0.9" fill="#fff" stroke="#222" stroke-width="0.9"/>
<line x1="597.28" y1="215.8" x2="597.28" y2="220.91" stroke="#222" stroke-width="1.79"/>
<line x1="597.28" y1="216.2" x2="597.28" y2="220.56" stroke="#fff" stroke-width="0.56"/>
<ellipse cx="597.28" cy="215" rx="1.4" ry="0.9" fill="#fff" stroke="#222" stroke-width="0.9"/>
<line x1="582.78" y1="217.78" x2="594.02" y2="217.78" stroke="#333" stroke-width="1.68" stroke-dasharray="1.2 0.6"/>
<ellipse cx="588.4" cy="192.8" rx="14.6" ry="5.99" fill="#fff" stroke="#222" stroke-width="1.12"/>
<rect x="574.2" y="191.1" width="28.4" height="1.7" fill="#fff" stroke="none" stroke-width="0"/>
<ellipse cx="588.4" cy="191.1" rx="14.6" ry="5.99" fill="#fff" stroke="#222" stroke-width="1.12"/>
<ellipse cx="588.4" cy="191.1" rx="13.3" ry="5.19" fill="none" stroke="#888" stroke-width="0.56"/>
<path d="M621.37,277.11 A27.64,12.84 0 0 1 566.51,273.98" fill="none" stroke="#222" stroke-width="1.01"/>
<path d="M617.23,277.93 A23.94,10.77 0 0 1 570.07,275.7" fill="none" stroke="#222" stroke-width="0.9"/>
<path d="M577.98,273.1 A18.5,7.4 0 0 1 577.23,266.27" fill="none" stroke="#222" stroke-width="1.01"/>
<ellipse cx="594" cy="264" rx="14.8" ry="6.96" fill="#fff" stroke="#222" stroke-width="1.01"/>
<rect x="579.2" y="262" width="29.6" height="2" fill="#fff" stroke="none" stroke-width="0"/>
<line x1="579.2" y1="262" x2="579.2" y2="264" stroke="#222" stroke-width="1.01"/>
<line x1="608.8" y1="262" x2="608.8" y2="264" stroke="#222" stroke-width="1.01"/>
<ellipse cx="594" cy="262" rx="14.8" ry="6.96" fill="#fff" stroke="#222" stroke-width="1.01"/>
<ellipse cx="594" cy="260.8" rx="12.43" ry="5.43" fill="#222" stroke="#111" stroke-width="1.01"/>
<ellipse cx="594" cy="260.6" rx="10.95" ry="4.59" fill="#222" stroke="#ddd" stroke-width="1.34" stroke-dasharray="0.7 1.0"/>
<ellipse cx="594" cy="259.8" rx="8.29" ry="3.48" fill="#fff" stroke="#111" stroke-width="0.9"/>
<ellipse cx="594" cy="259.6" rx="5.62" ry="2.37" fill="#fff" stroke="#222" stroke-width="0.9"/>
<ellipse cx="594" cy="259.4" rx="2.66" ry="1.11" fill="#fff" stroke="#222" stroke-width="0.78"/>
<line x1="585.12" y1="270.8" x2="585.12" y2="275.91" stroke="#222" stroke-width="1.79"/>
<line x1="585.12" y1="271.2" x2="585.12" y2="275.56" stroke="#fff" stroke-width="0.56"/>
<ellipse cx="585.12" cy="270" rx="1.4" ry="0.9" fill="#fff" stroke="#222" stroke-width="0.9"/>
<line x1="602.88" y1="270.8" x2="602.88" y2="275.91" stroke="#222" stroke-width="1.79"/>
<line x1="602.88" y1="271.2" x2="602.88" y2="275.56" stroke="#fff" stroke-width="0.56"/>
<ellipse cx="602.88" cy="270" rx="1.4" ry="0.9" fill="#fff" stroke="#222" stroke-width="0.9"/>
<line x1="588.38" y1="272.78" x2="599.62" y2="272.78" stroke="#333" stroke-width="1.68" stroke-dasharray="1.2 0.6"/>
<ellipse cx="594" cy="247.4" rx="14.6" ry="5.99" fill="#fff" stroke="#222" stroke-width="1.12"/>
<rect x="579.8" y="245.7" width="28.4" height="1.7" fill="#fff" stroke="none" stroke-width="0"/>
<ellipse cx="594" cy="245.7" rx="14.6" ry="5.99" fill="#fff" stroke="#222" stroke-width="1.12"/>
<ellipse cx="594" cy="245.7" rx="13.3" ry="5.19" fill="none" stroke="#888" stroke-width="0.56"/>
<path d="M690.92,253.65 A34.66,15.96 0 0 1 622.13,249.76" fill="none" stroke="#222" stroke-width="1.01"/>
<path d="M685.69,254.66 A29.98,13.34 0 0 1 626.63,251.9" fill="none" stroke="#222" stroke-width="0.9"/>
<path d="M636.36,248.62 A23.38,9.35 0 0 1 635.42,240" fill="none" stroke="#222" stroke-width="1.01"/>
<ellipse cx="656.6" cy="236.6" rx="18.7" ry="8.79" fill="#fff" stroke="#222" stroke-width="1.01"/>
<rect x="637.9" y="234.6" width="37.4" height="2" fill="#fff" stroke="none" stroke-width="0"/>
<line x1="637.9" y1="234.6" x2="637.9" y2="236.6" stroke="#222" stroke-width="1.01"/>
<line x1="675.3" y1="234.6" x2="675.3" y2="236.6" stroke="#222" stroke-width="1.01"/>
<ellipse cx="656.6" cy="234.6" rx="18.7" ry="8.79" fill="#fff" stroke="#222" stroke-width="1.01"/>
<ellipse cx="656.6" cy="233.4" rx="15.71" ry="6.86" fill="#222" stroke="#111" stroke-width="1.01"/>
<ellipse cx="656.6" cy="233.2" rx="13.84" ry="5.8" fill="#222" stroke="#ddd" stroke-width="1.34" stroke-dasharray="0.7 1.0"/>
<ellipse cx="656.6" cy="232.4" rx="10.47" ry="4.39" fill="#fff" stroke="#111" stroke-width="0.9"/>
<ellipse cx="656.6" cy="232.2" rx="7.11" ry="2.99" fill="#fff" stroke="#222" stroke-width="0.9"/>
<ellipse cx="656.6" cy="232" rx="3.37" ry="1.41" fill="#fff" stroke="#222" stroke-width="0.78"/>
<line x1="645.38" y1="245.51" x2="645.38" y2="252.18" stroke="#222" stroke-width="1.79"/>
<line x1="645.38" y1="245.91" x2="645.38" y2="251.74" stroke="#fff" stroke-width="0.56"/>
<ellipse cx="645.38" cy="244.71" rx="1.4" ry="0.9" fill="#fff" stroke="#222" stroke-width="0.9"/>
<line x1="667.82" y1="245.51" x2="667.82" y2="252.18" stroke="#222" stroke-width="1.79"/>
<line x1="667.82" y1="245.91" x2="667.82" y2="251.74" stroke="#fff" stroke-width="0.56"/>
<ellipse cx="667.82" cy="244.71" rx="1.4" ry="0.9" fill="#fff" stroke="#222" stroke-width="0.9"/>
<line x1="649.49" y1="248.22" x2="663.71" y2="248.22" stroke="#333" stroke-width="1.68" stroke-dasharray="1.2 0.6"/>
<ellipse cx="656.6" cy="216.7" rx="17.9" ry="7.34" fill="#fff" stroke="#222" stroke-width="1.12"/>
<rect x="639.1" y="215" width="35" height="1.7" fill="#fff" stroke="none" stroke-width="0"/>
<ellipse cx="656.6" cy="215" rx="17.9" ry="7.34" fill="#fff" stroke="#222" stroke-width="1.12"/>
<ellipse cx="656.6" cy="215" rx="16.6" ry="6.54" fill="none" stroke="#888" stroke-width="0.56"/>
<line x1="484.2" y1="192" x2="484.2" y2="199.7" stroke="#333" stroke-width="1.68"/>
<line x1="484.2" y1="193" x2="484.2" y2="196.5" stroke="#fff" stroke-width="0.56"/>
<line x1="488.4" y1="192" x2="488.4" y2="199.7" stroke="#333" stroke-width="1.68"/>
<line x1="488.4" y1="193" x2="488.4" y2="196.5" stroke="#fff" stroke-width="0.56"/>
<ellipse cx="483.6" cy="203.1" rx="2" ry="1.6" fill="#ddd" stroke="#222" stroke-width="0.78"/>
<line x1="536.5" y1="171" x2="536.5" y2="178.7" stroke="#333" stroke-width="1.68"/>
<line x1="536.5" y1="172" x2="536.5" y2="175.5" stroke="#fff" stroke-width="0.56"/>
<line x1="540.7" y1="171" x2="540.7" y2="178.7" stroke="#333" stroke-width="1.68"/>
<line x1="540.7" y1="172" x2="540.7" y2="175.5" stroke="#fff" stroke-width="0.56"/>
<ellipse cx="535.9" cy="182.1" rx="2" ry="1.6" fill="#ddd" stroke="#222" stroke-width="0.78"/>
<line x1="541.2" y1="227" x2="541.2" y2="234.7" stroke="#333" stroke-width="1.68"/>
<line x1="541.2" y1="228" x2="541.2" y2="231.5" stroke="#fff" stroke-width="0.56"/>
<line x1="545.4" y1="227" x2="545.4" y2="234.7" stroke="#333" stroke-width="1.68"/>
<line x1="545.4" y1="228" x2="545.4" y2="231.5" stroke="#fff" stroke-width="0.56"/>
<ellipse cx="540.6" cy="238.1" rx="2" ry="1.6" fill="#ddd" stroke="#222" stroke-width="0.78"/>
<line x1="607.8" y1="194.5" x2="607.8" y2="202.2" stroke="#333" stroke-width="1.68"/>
<line x1="607.8" y1="195.5" x2="607.8" y2="199" stroke="#fff" stroke-width="0.56"/>
<line x1="612" y1="194.5" x2="612" y2="202.2" stroke="#333" stroke-width="1.68"/>
<line x1="612" y1="195.5" x2="612" y2="199" stroke="#fff" stroke-width="0.56"/>
<ellipse cx="607.2" cy="205.6" rx="2" ry="1.6" fill="#ddd" stroke="#222" stroke-width="0.78"/>
<line x1="613.8" y1="248.5" x2="613.8" y2="256.2" stroke="#333" stroke-width="1.68"/>
<line x1="613.8" y1="249.5" x2="613.8" y2="253" stroke="#fff" stroke-width="0.56"/>
<line x1="618" y1="248.5" x2="618" y2="256.2" stroke="#333" stroke-width="1.68"/>
<line x1="618" y1="249.5" x2="618" y2="253" stroke="#fff" stroke-width="0.56"/>
<ellipse cx="613.2" cy="259.6" rx="2" ry="1.6" fill="#ddd" stroke="#222" stroke-width="0.78"/>
<line x1="680.5" y1="227" x2="680.5" y2="234.7" stroke="#333" stroke-width="1.68"/>
<line x1="680.5" y1="228" x2="680.5" y2="231.5" stroke="#fff" stroke-width="0.56"/>
<line x1="684.7" y1="227" x2="684.7" y2="234.7" stroke="#333" stroke-width="1.68"/>
<line x1="684.7" y1="228" x2="684.7" y2="231.5" stroke="#fff" stroke-width="0.56"/>
<ellipse cx="679.9" cy="238.1" rx="2" ry="1.6" fill="#ddd" stroke="#222" stroke-width="0.78"/>
<polygon points="491,198.5 495.5,197 497.8,199.5 493,201.2" fill="#555" stroke="#222" stroke-width="1.01"/>
<polyline points="625.6,290.8 666.2,306.3 775,265.4" fill="none" stroke="#222" stroke-width="1.79"/>
<polyline points="628,287.5 667,302.5 776,261.6" fill="none" stroke="#222" stroke-width="0.78"/>
<ellipse cx="618.5" cy="297.3" rx="2.2" ry="1.5" fill="none" stroke="#222" stroke-width="0.67" transform="rotate(20 618.5 297.3)"/>
<ellipse cx="619.8" cy="297.8" rx="2.2" ry="1.5" fill="none" stroke="#222" stroke-width="0.67" transform="rotate(20 619.8 297.8)"/>
<ellipse cx="621.1" cy="298.3" rx="2.2" ry="1.5" fill="none" stroke="#222" stroke-width="0.67" transform="rotate(20 621.1 298.3)"/>
<ellipse cx="622.4" cy="298.8" rx="2.2" ry="1.5" fill="none" stroke="#222" stroke-width="0.67" transform="rotate(20 622.4 298.8)"/>
<ellipse cx="623.7" cy="299.3" rx="2.2" ry="1.5" fill="none" stroke="#222" stroke-width="0.67" transform="rotate(20 623.7 299.3)"/>
<line x1="775.5" y1="261.4" x2="794.5" y2="268.2" stroke="#222" stroke-width="3.6"/>
<line x1="775.5" y1="261.4" x2="794.5" y2="268.2" stroke="#999" stroke-width="2" stroke-dasharray="0.7 0.7"/>
<line x1="706" y1="292.6" x2="709.2" y2="293.9" stroke="#333" stroke-width="1.01"/>
<line x1="712.5" y1="290.15" x2="715.7" y2="291.45" stroke="#333" stroke-width="1.01"/>
<line x1="719" y1="287.7" x2="722.2" y2="289" stroke="#333" stroke-width="1.01"/>
<line x1="725.5" y1="285.25" x2="728.7" y2="286.55" stroke="#333" stroke-width="1.01"/>
<line x1="732" y1="282.8" x2="735.2" y2="284.1" stroke="#333" stroke-width="1.01"/>
<line x1="738.5" y1="280.35" x2="741.7" y2="281.65" stroke="#333" stroke-width="1.01"/>
<line x1="745" y1="277.9" x2="748.2" y2="279.2" stroke="#333" stroke-width="1.01"/>
<polygon points="726.5,290 730.5,288.5 730.5,293 733,294 733,297 728.5,298.7 728.5,294.5 726.5,293.5" fill="#fff" stroke="#222" stroke-width="0.78"/>
<line x1="690" y1="303.5" x2="775" y2="271.5" stroke="#222" stroke-width="1.46"/>
<line x1="790.5" y1="258.7" x2="790.5" y2="258.7" stroke="#222" stroke-width="1.79"/>
<ellipse cx="804.2" cy="262.3" rx="0.8" ry="0.8" fill="#222" stroke="#222" stroke-width="0.67"/>
<polyline points="612.3,281.8 667.8,300.4 790,254.1" fill="none" stroke="#222" stroke-width="1.01"/>
<polygon points="612.3,279.6 739,231.4 790,251.8 667.8,298" fill="#fff" stroke="#1a1a1a" stroke-width="1.46"/>
<polygon points="627.8,276 737.6,234.3 783.5,252 668.2,294.6" fill="none" stroke="#222" stroke-width="1.01"/>
<line x1="730" y1="244" x2="735.5" y2="238" stroke="#222" stroke-width="0.56"/>
<line x1="666" y1="289.5" x2="673" y2="282" stroke="#222" stroke-width="0.56"/>
<line x1="731.8" y1="244" x2="737.3" y2="238" stroke="#222" stroke-width="0.56"/>
<line x1="667.8" y1="289.5" x2="674.8" y2="282" stroke="#222" stroke-width="0.56"/>
<line x1="733.6" y1="244" x2="739.1" y2="238" stroke="#222" stroke-width="0.56"/>
<line x1="669.6" y1="289.5" x2="676.6" y2="282" stroke="#222" stroke-width="0.56"/>
<polygon points="106.4,224.9 110.4,222.9 119,225.6 119,222 138.3,213.8 142.1,214.3 148.9,223 152.7,224 155.8,226.2 155.6,229.9 113.6,243.6 111.2,241 111.2,239.6 106.4,237.5" fill="#fff" stroke="#222" stroke-width="1.01"/>
<polyline points="106.4,224.9 117.5,230.2 117.5,238.6" fill="none" stroke="#222" stroke-width="1.01"/>
<polyline points="117.5,230.2 121.4,228.2 110.4,222.9" fill="none" stroke="#222" stroke-width="0.9"/>
<polyline points="121.4,228.2 124.6,226.2 124.6,231.6" fill="none" stroke="#222" stroke-width="0.9"/>
<polyline points="109.6,226.6 114.6,229 116.6,228" fill="none" stroke="#222" stroke-width="0.67"/>
<line x1="113.4" y1="243.4" x2="155.6" y2="229.8" stroke="#111" stroke-width="1.68"/>
<path d="M125.9,230.8 l0,-6.6 a1.3,1.3 0 0 1 2.6,-0.6 l0,6.8" fill="none" stroke="#222" stroke-width="1.01"/>
<path d="M131.2,229.2 l0,-6.6 a1.3,1.3 0 0 1 2.6,-0.6 l0,6.8" fill="none" stroke="#222" stroke-width="1.01"/>
<path d="M138.9,226.6 l0,-6.6 a1.3,1.3 0 0 1 2.6,-0.6 l0,6.8" fill="none" stroke="#222" stroke-width="1.01"/>
<ellipse cx="125.8" cy="219.2" rx="1.3" ry="0.7" fill="#fff" stroke="#222" stroke-width="0.78" transform="rotate(-22 125.8 219.2)"/>
<ellipse cx="131.6" cy="216.8" rx="1.3" ry="0.7" fill="#fff" stroke="#222" stroke-width="0.78" transform="rotate(-22 131.6 216.8)"/>
<ellipse cx="138.8" cy="213.8" rx="1.3" ry="0.7" fill="#fff" stroke="#222" stroke-width="0.78" transform="rotate(-22 138.8 213.8)"/>
<ellipse cx="153.8" cy="226.6" rx="1.3" ry="1.9" fill="#fff" stroke="#222" stroke-width="1.01"/>
<ellipse cx="113.4" cy="241.8" rx="1.7" ry="2.2" fill="#fff" stroke="#222" stroke-width="1.12"/>
<path d="M125.5,284.6 L231.8,242.3 C238.5,239.6 242.4,241.8 242.4,247 L242.4,258" fill="none" stroke="#222" stroke-width="1.01"/>
<path d="M134.6,286.6 L231.2,248.3 C234.4,247 235.4,247.8 235.4,250 L235.4,258" fill="none" stroke="#222" stroke-width="1.01"/>
<line x1="234.8" y1="253.4" x2="243" y2="253.4" stroke="#222" stroke-width="0.78"/>
<rect x="235" y="258" width="7.8" height="4.6" fill="#fff" stroke="#222" stroke-width="0.9"/>
<line x1="235" y1="260.2" x2="242.8" y2="260.2" stroke="#222" stroke-width="0.78"/>
<rect x="236.4" y="262.6" width="5" height="4.6" fill="#fff" stroke="#222" stroke-width="0.9"/>
<line x1="236.4" y1="265" x2="241.4" y2="265" stroke="#222" stroke-width="0.78"/>
<ellipse cx="239.5" cy="273.2" rx="3.6" ry="2.1" fill="#fff" stroke="#222" stroke-width="1.01"/>
<ellipse cx="239.5" cy="273.2" rx="1.6" ry="0.9" fill="none" stroke="#222" stroke-width="0.78"/>
<line x1="132.6" y1="265" x2="132.6" y2="276" stroke="#222" stroke-width="2"/>
<line x1="132.6" y1="266.5" x2="132.6" y2="275.4" stroke="#ccc" stroke-width="0.78"/>
<rect x="131" y="263.6" width="3.2" height="1.6" fill="#fff" stroke="#222" stroke-width="0.78"/>
<polyline points="131,295.3 234.5,339.2" fill="none" stroke="#222" stroke-width="1.01"/>
<polyline points="127,299.3 231,343.6" fill="none" stroke="#222" stroke-width="1.01"/>
<ellipse cx="233.4" cy="341.6" rx="1.8" ry="2.5" fill="#fff" stroke="#222" stroke-width="0.9" transform="rotate(-20 233.4 341.6)"/>
<line x1="225" y1="336.6" x2="235.4" y2="343.6" stroke="#222" stroke-width="0"/>
<polygon points="118.2,290.1 120.7,285.8 127.7,283.4 131.7,285.6 131.7,294.2 128.2,297.2 123.6,296.6 123.6,293.8 118.2,295.4" fill="#fff" stroke="#222" stroke-width="1.01"/>
<polyline points="123.6,293.8 123.6,287.2 127.7,283.4" fill="none" stroke="#222" stroke-width="0.9"/>
<polyline points="123.6,287.2 118.2,290.1" fill="none" stroke="#222" stroke-width="0.9"/>
<line x1="127.4" y1="286.8" x2="127.4" y2="296.4" stroke="#222" stroke-width="0.9"/>
<rect x="120" y="291.4" width="1.8" height="1.8" fill="#333" stroke="#222" stroke-width="0.67"/>
<line x1="131.7" y1="285.6" x2="136.2" y2="287" stroke="#222" stroke-width="0.9"/>
<polygon points="217,330.1 219.5,325.8 226.5,323.4 230.5,325.6 230.5,334.2 227,337.2 222.4,336.6 222.4,333.8 217,335.4" fill="#fff" stroke="#222" stroke-width="1.01"/>
<polyline points="222.4,333.8 222.4,327.2 226.5,323.4" fill="none" stroke="#222" stroke-width="0.9"/>
<polyline points="222.4,327.2 217,330.1" fill="none" stroke="#222" stroke-width="0.9"/>
<line x1="226.2" y1="326.8" x2="226.2" y2="336.4" stroke="#222" stroke-width="0.9"/>
<rect x="218.8" y="331.4" width="1.8" height="1.8" fill="#333" stroke="#222" stroke-width="0.67"/>
<line x1="230.5" y1="325.6" x2="235" y2="327" stroke="#222" stroke-width="0.9"/>
<polyline points="229,338.6 236.5,341.8" fill="none" stroke="#222" stroke-width="0.9"/>
<polyline points="227.5,342.4 234.8,345.6" fill="none" stroke="#222" stroke-width="0.9"/>
<ellipse cx="235.8" cy="343.8" rx="1.6" ry="2.4" fill="#fff" stroke="#222" stroke-width="0.9" transform="rotate(-20 235.8 343.8)"/>
<g transform="translate(148.9 293.9) scale(1.2)">
<polygon points="-4.5,1.8 -2,-2.4 4.2,-1.2 2.6,3.2" fill="#fff" stroke="#222" stroke-width="1.01"/>
<polygon points="-3,1.4 -1.4,-1.2 2.2,-0.5 1,2.2" fill="none" stroke="#222" stroke-width="0.78"/>
<line x1="4.2" y1="-1.2" x2="9" y2="-0.6" stroke="#222" stroke-width="1.01"/>
</g>
<g transform="translate(168.2 301.85) scale(1.2)">
<polygon points="-4.5,1.8 -2,-2.4 4.2,-1.2 2.6,3.2" fill="#fff" stroke="#222" stroke-width="1.01"/>
<polygon points="-3,1.4 -1.4,-1.2 2.2,-0.5 1,2.2" fill="none" stroke="#222" stroke-width="0.78"/>
<line x1="4.2" y1="-1.2" x2="9" y2="-0.6" stroke="#222" stroke-width="1.01"/>
</g>
<g transform="translate(187.5 309.8) scale(1.2)">
<polygon points="-4.5,1.8 -2,-2.4 4.2,-1.2 2.6,3.2" fill="#fff" stroke="#222" stroke-width="1.01"/>
<polygon points="-3,1.4 -1.4,-1.2 2.2,-0.5 1,2.2" fill="none" stroke="#222" stroke-width="0.78"/>
<line x1="4.2" y1="-1.2" x2="9" y2="-0.6" stroke="#222" stroke-width="1.01"/>
</g>
<g transform="translate(206.8 317.75) scale(1.2)">
<polygon points="-4.5,1.8 -2,-2.4 4.2,-1.2 2.6,3.2" fill="#fff" stroke="#222" stroke-width="1.01"/>
<polygon points="-3,1.4 -1.4,-1.2 2.2,-0.5 1,2.2" fill="none" stroke="#222" stroke-width="0.78"/>
<line x1="4.2" y1="-1.2" x2="9" y2="-0.6" stroke="#222" stroke-width="1.01"/>
</g>
<g transform="translate(124.3 310.3) scale(1.22)">
<path d="M-3.5,3.5 c2,3.5 9,3 13,-1.5 c2.5,-3 1,-6 -2,-7" fill="#fff" stroke="#222" stroke-width="0.9"/>
<line x1="-3" y1="3.2" x2="-10" y2="7.6" stroke="#222" stroke-width="2.13"/>
<line x1="-4" y1="3.8" x2="-9" y2="7" stroke="#fff" stroke-width="0.67"/>
<ellipse cx="-10.8" cy="8.2" rx="1.1" ry="1.1" fill="#fff" stroke="#222" stroke-width="0.9"/>
<polygon points="-3.5,-1 1,-6.5 4.5,-6 6,-2 2.5,3 -2,3.5" fill="#fff" stroke="#222" stroke-width="1.01"/>
<line x1="-1.5" y1="-2" x2="-0.7" y2="3.2" stroke="#1a1a1a" stroke-width="1.68"/>
<line x1="0.8" y1="-3.6" x2="1.6" y2="1.6" stroke="#1a1a1a" stroke-width="1.68"/>
<line x1="3" y1="-4.6" x2="3.8" y2="0.6" stroke="#1a1a1a" stroke-width="1.68"/>
<line x1="-2.5" y1="-0.8" x2="5" y2="-4" stroke="#1a1a1a" stroke-width="1.46"/>
<line x1="-1.8" y1="1.8" x2="5.4" y2="-1.4" stroke="#1a1a1a" stroke-width="1.12"/>
<polygon points="0.6,-6.4 1.4,-8.6 4.4,-8.2 4.6,-6" fill="#fff" stroke="#222" stroke-width="1.01"/>
</g>
<g transform="translate(144.4 318.3) scale(1.22)">
<path d="M-3.5,3.5 c2,3.5 9,3 13,-1.5 c2.5,-3 1,-6 -2,-7" fill="#fff" stroke="#222" stroke-width="0.9"/>
<line x1="-3" y1="3.2" x2="-10" y2="7.6" stroke="#222" stroke-width="2.13"/>
<line x1="-4" y1="3.8" x2="-9" y2="7" stroke="#fff" stroke-width="0.67"/>
<ellipse cx="-10.8" cy="8.2" rx="1.1" ry="1.1" fill="#fff" stroke="#222" stroke-width="0.9"/>
<polygon points="-3.5,-1 1,-6.5 4.5,-6 6,-2 2.5,3 -2,3.5" fill="#fff" stroke="#222" stroke-width="1.01"/>
<line x1="-1.5" y1="-2" x2="-0.7" y2="3.2" stroke="#1a1a1a" stroke-width="1.68"/>
<line x1="0.8" y1="-3.6" x2="1.6" y2="1.6" stroke="#1a1a1a" stroke-width="1.68"/>
<line x1="3" y1="-4.6" x2="3.8" y2="0.6" stroke="#1a1a1a" stroke-width="1.68"/>
<line x1="-2.5" y1="-0.8" x2="5" y2="-4" stroke="#1a1a1a" stroke-width="1.46"/>
<line x1="-1.8" y1="1.8" x2="5.4" y2="-1.4" stroke="#1a1a1a" stroke-width="1.12"/>
<polygon points="0.6,-6.4 1.4,-8.6 4.4,-8.2 4.6,-6" fill="#fff" stroke="#222" stroke-width="1.01"/>
</g>
<g transform="translate(164.6 326.4) scale(1.22)">
<path d="M-3.5,3.5 c2,3.5 9,3 13,-1.5 c2.5,-3 1,-6 -2,-7" fill="#fff" stroke="#222" stroke-width="0.9"/>
<line x1="-3" y1="3.2" x2="-10" y2="7.6" stroke="#222" stroke-width="2.13"/>
<line x1="-4" y1="3.8" x2="-9" y2="7" stroke="#fff" stroke-width="0.67"/>
<ellipse cx="-10.8" cy="8.2" rx="1.1" ry="1.1" fill="#fff" stroke="#222" stroke-width="0.9"/>
<polygon points="-3.5,-1 1,-6.5 4.5,-6 6,-2 2.5,3 -2,3.5" fill="#fff" stroke="#222" stroke-width="1.01"/>
<line x1="-1.5" y1="-2" x2="-0.7" y2="3.2" stroke="#1a1a1a" stroke-width="1.68"/>
<line x1="0.8" y1="-3.6" x2="1.6" y2="1.6" stroke="#1a1a1a" stroke-width="1.68"/>
<line x1="3" y1="-4.6" x2="3.8" y2="0.6" stroke="#1a1a1a" stroke-width="1.68"/>
<line x1="-2.5" y1="-0.8" x2="5" y2="-4" stroke="#1a1a1a" stroke-width="1.46"/>
<line x1="-1.8" y1="1.8" x2="5.4" y2="-1.4" stroke="#1a1a1a" stroke-width="1.12"/>
<polygon points="0.6,-6.4 1.4,-8.6 4.4,-8.2 4.6,-6" fill="#fff" stroke="#222" stroke-width="1.01"/>
</g>
<g transform="translate(184.4 334.4) scale(1.22)">
<path d="M-3.5,3.5 c2,3.5 9,3 13,-1.5 c2.5,-3 1,-6 -2,-7" fill="#fff" stroke="#222" stroke-width="0.9"/>
<line x1="-3" y1="3.2" x2="-10" y2="7.6" stroke="#222" stroke-width="2.13"/>
<line x1="-4" y1="3.8" x2="-9" y2="7" stroke="#fff" stroke-width="0.67"/>
<ellipse cx="-10.8" cy="8.2" rx="1.1" ry="1.1" fill="#fff" stroke="#222" stroke-width="0.9"/>
<polygon points="-3.5,-1 1,-6.5 4.5,-6 6,-2 2.5,3 -2,3.5" fill="#fff" stroke="#222" stroke-width="1.01"/>
<line x1="-1.5" y1="-2" x2="-0.7" y2="3.2" stroke="#1a1a1a" stroke-width="1.68"/>
<line x1="0.8" y1="-3.6" x2="1.6" y2="1.6" stroke="#1a1a1a" stroke-width="1.68"/>
<line x1="3" y1="-4.6" x2="3.8" y2="0.6" stroke="#1a1a1a" stroke-width="1.68"/>
<line x1="-2.5" y1="-0.8" x2="5" y2="-4" stroke="#1a1a1a" stroke-width="1.46"/>
<line x1="-1.8" y1="1.8" x2="5.4" y2="-1.4" stroke="#1a1a1a" stroke-width="1.12"/>
<polygon points="0.6,-6.4 1.4,-8.6 4.4,-8.2 4.6,-6" fill="#fff" stroke="#222" stroke-width="1.01"/>
</g>
<g transform="translate(204 342.6) scale(1.22)">
<path d="M-3.5,3.5 c2,3.5 9,3 13,-1.5 c2.5,-3 1,-6 -2,-7" fill="#fff" stroke="#222" stroke-width="0.9"/>
<line x1="-3" y1="3.2" x2="-10" y2="7.6" stroke="#222" stroke-width="2.13"/>
<line x1="-4" y1="3.8" x2="-9" y2="7" stroke="#fff" stroke-width="0.67"/>
<ellipse cx="-10.8" cy="8.2" rx="1.1" ry="1.1" fill="#fff" stroke="#222" stroke-width="0.9"/>
<polygon points="-3.5,-1 1,-6.5 4.5,-6 6,-2 2.5,3 -2,3.5" fill="#fff" stroke="#222" stroke-width="1.01"/>
<line x1="-1.5" y1="-2" x2="-0.7" y2="3.2" stroke="#1a1a1a" stroke-width="1.68"/>
<line x1="0.8" y1="-3.6" x2="1.6" y2="1.6" stroke="#1a1a1a" stroke-width="1.68"/>
<line x1="3" y1="-4.6" x2="3.8" y2="0.6" stroke="#1a1a1a" stroke-width="1.68"/>
<line x1="-2.5" y1="-0.8" x2="5" y2="-4" stroke="#1a1a1a" stroke-width="1.46"/>
<line x1="-1.8" y1="1.8" x2="5.4" y2="-1.4" stroke="#1a1a1a" stroke-width="1.12"/>
<polygon points="0.6,-6.4 1.4,-8.6 4.4,-8.2 4.6,-6" fill="#fff" stroke="#222" stroke-width="1.01"/>
</g>
<g transform="translate(224.2 351.4) scale(1.22)">
<path d="M-3.5,3.5 c2,3.5 9,3 13,-1.5 c2.5,-3 1,-6 -2,-7" fill="#fff" stroke="#222" stroke-width="0.9"/>
<line x1="-3" y1="3.2" x2="-10" y2="7.6" stroke="#222" stroke-width="2.13"/>
<line x1="-4" y1="3.8" x2="-9" y2="7" stroke="#fff" stroke-width="0.67"/>
<ellipse cx="-10.8" cy="8.2" rx="1.1" ry="1.1" fill="#fff" stroke="#222" stroke-width="0.9"/>
<polygon points="-3.5,-1 1,-6.5 4.5,-6 6,-2 2.5,3 -2,3.5" fill="#fff" stroke="#222" stroke-width="1.01"/>
<line x1="-1.5" y1="-2" x2="-0.7" y2="3.2" stroke="#1a1a1a" stroke-width="1.68"/>
<line x1="0.8" y1="-3.6" x2="1.6" y2="1.6" stroke="#1a1a1a" stroke-width="1.68"/>
<line x1="3" y1="-4.6" x2="3.8" y2="0.6" stroke="#1a1a1a" stroke-width="1.68"/>
<line x1="-2.5" y1="-0.8" x2="5" y2="-4" stroke="#1a1a1a" stroke-width="1.46"/>
<line x1="-1.8" y1="1.8" x2="5.4" y2="-1.4" stroke="#1a1a1a" stroke-width="1.12"/>
<polygon points="0.6,-6.4 1.4,-8.6 4.4,-8.2 4.6,-6" fill="#fff" stroke="#222" stroke-width="1.01"/>
</g>
<path d="M225.5,298.4 L240,294 Q244,293 246,297.7 Q248,303 252,303.6 L270.5,306.6 Q281.5,307.6 282,300.5 L282,293" fill="none" stroke="#222" stroke-width="2.4"/>
<path d="M225.5,298.4 L240,294 Q244,293 246,297.7 Q248,303 252,303.6 L270.5,306.6 Q281.5,307.6 282,300.5 L282,293" fill="none" stroke="#fff" stroke-width="1.01"/>
<path d="M246,306.4 L262,307.6 Q276,309 286,303.2 L325,290.6 Q345,288 345.2,281 L345.2,266" fill="none" stroke="#222" stroke-width="2.4"/>
<path d="M246,306.4 L262,307.6 Q276,309 286,303.2 L325,290.6 Q345,288 345.2,281 L345.2,266" fill="none" stroke="#fff" stroke-width="1.01"/>
<path d="M265,316 L281.4,310.7 L344,297.2" fill="none" stroke="#222" stroke-width="2.4"/>
<path d="M265,316 L281.4,310.7 L344,297.2" fill="none" stroke="#fff" stroke-width="1.01"/>
<path d="M283.4,323 L298,318.6 Q302,317.4 306,319 Q318,324 326,325 L342,327.6 Q350.5,329 350.5,322 L350.5,314" fill="none" stroke="#222" stroke-width="2.4"/>
<path d="M283.4,323 L298,318.6 Q302,317.4 306,319 Q318,324 326,325 L342,327.6 Q350.5,329 350.5,322 L350.5,314" fill="none" stroke="#fff" stroke-width="1.01"/>
<path d="M303.5,332.6 Q312,330 318,325.4 Q324,321 330,321 L352,326 Q380,326.6 410,323.2" fill="none" stroke="#222" stroke-width="2.4"/>
<path d="M303.5,332.6 Q312,330 318,325.4 Q324,321 330,321 L352,326 Q380,326.6 410,323.2" fill="none" stroke="#fff" stroke-width="1.01"/>
<path d="M323.2,339.5 L338.2,334.9 Q347,333 354.5,336.8 L398,353.6 Q412,357.6 417,354.6 Q419.6,352 419.6,346 L419.6,343" fill="none" stroke="#222" stroke-width="2.4"/>
<path d="M323.2,339.5 L338.2,334.9 Q347,333 354.5,336.8 L398,353.6 Q412,357.6 417,354.6 Q419.6,352 419.6,346 L419.6,343" fill="none" stroke="#fff" stroke-width="1.01"/>
<path d="M361,295 L398,307.6 Q410,310.6 413,305 Q414.6,301 414.5,294" fill="none" stroke="#222" stroke-width="2.4"/>
<path d="M361,295 L398,307.6 Q410,310.6 413,305 Q414.6,301 414.5,294" fill="none" stroke="#fff" stroke-width="1.01"/>
<path d="M428.4,323.4 L470,336.4 Q481.4,339.6 481.6,330 L481.6,325" fill="none" stroke="#222" stroke-width="2.4"/>
<path d="M428.4,323.4 L470,336.4 Q481.4,339.6 481.6,330 L481.6,325" fill="none" stroke="#fff" stroke-width="1.01"/>
<g transform="translate(214.5 301.4) rotate(-12)">
<ellipse cx="1.3" cy="0" rx="1.3" ry="1.5" fill="#fff" stroke="#222" stroke-width="0.9"/>
<rect x="2.2" y="-2.2" width="4.4" height="4.4" fill="#fff" stroke="#222" stroke-width="1.01"/>
<line x1="3.6" y1="-2.2" x2="3.6" y2="2.2" stroke="#222" stroke-width="0.67"/>
<line x1="5.2" y1="-2.2" x2="5.2" y2="2.2" stroke="#222" stroke-width="0.67"/>
<rect x="6.6" y="-1.6" width="2.8" height="3.2" fill="#fff" stroke="#222" stroke-width="0.9"/>
</g>
<g transform="translate(235 308.6) rotate(-12)">
<ellipse cx="1.3" cy="0" rx="1.3" ry="1.5" fill="#fff" stroke="#222" stroke-width="0.9"/>
<rect x="2.2" y="-2.2" width="4.4" height="4.4" fill="#fff" stroke="#222" stroke-width="1.01"/>
<line x1="3.6" y1="-2.2" x2="3.6" y2="2.2" stroke="#222" stroke-width="0.67"/>
<line x1="5.2" y1="-2.2" x2="5.2" y2="2.2" stroke="#222" stroke-width="0.67"/>
<rect x="6.6" y="-1.6" width="2.8" height="3.2" fill="#fff" stroke="#222" stroke-width="0.9"/>
</g>
<g transform="translate(254.6 317.4) rotate(-12)">
<ellipse cx="1.3" cy="0" rx="1.3" ry="1.5" fill="#fff" stroke="#222" stroke-width="0.9"/>
<rect x="2.2" y="-2.2" width="4.4" height="4.4" fill="#fff" stroke="#222" stroke-width="1.01"/>
<line x1="3.6" y1="-2.2" x2="3.6" y2="2.2" stroke="#222" stroke-width="0.67"/>
<line x1="5.2" y1="-2.2" x2="5.2" y2="2.2" stroke="#222" stroke-width="0.67"/>
<rect x="6.6" y="-1.6" width="2.8" height="3.2" fill="#fff" stroke="#222" stroke-width="0.9"/>
</g>
<g transform="translate(273 325.2) rotate(-12)">
<ellipse cx="1.3" cy="0" rx="1.3" ry="1.5" fill="#fff" stroke="#222" stroke-width="0.9"/>
<rect x="2.2" y="-2.2" width="4.4" height="4.4" fill="#fff" stroke="#222" stroke-width="1.01"/>
<line x1="3.6" y1="-2.2" x2="3.6" y2="2.2" stroke="#222" stroke-width="0.67"/>
<line x1="5.2" y1="-2.2" x2="5.2" y2="2.2" stroke="#222" stroke-width="0.67"/>
<rect x="6.6" y="-1.6" width="2.8" height="3.2" fill="#fff" stroke="#222" stroke-width="0.9"/>
</g>
<g transform="translate(293.4 334.4) rotate(-12)">
<ellipse cx="1.3" cy="0" rx="1.3" ry="1.5" fill="#fff" stroke="#222" stroke-width="0.9"/>
<rect x="2.2" y="-2.2" width="4.4" height="4.4" fill="#fff" stroke="#222" stroke-width="1.01"/>
<line x1="3.6" y1="-2.2" x2="3.6" y2="2.2" stroke="#222" stroke-width="0.67"/>
<line x1="5.2" y1="-2.2" x2="5.2" y2="2.2" stroke="#222" stroke-width="0.67"/>
<rect x="6.6" y="-1.6" width="2.8" height="3.2" fill="#fff" stroke="#222" stroke-width="0.9"/>
</g>
<g transform="translate(313.4 342.6) rotate(-12)">
<ellipse cx="1.3" cy="0" rx="1.3" ry="1.5" fill="#fff" stroke="#222" stroke-width="0.9"/>
<rect x="2.2" y="-2.2" width="4.4" height="4.4" fill="#fff" stroke="#222" stroke-width="1.01"/>
<line x1="3.6" y1="-2.2" x2="3.6" y2="2.2" stroke="#222" stroke-width="0.67"/>
<line x1="5.2" y1="-2.2" x2="5.2" y2="2.2" stroke="#222" stroke-width="0.67"/>
<rect x="6.6" y="-1.6" width="2.8" height="3.2" fill="#fff" stroke="#222" stroke-width="0.9"/>
</g>
<ellipse cx="280.9" cy="244.8" rx="26.5" ry="11.9" fill="#fff" stroke="#111" stroke-width="2.2"/>
<ellipse cx="280.9" cy="244.8" rx="24.4" ry="10.4" fill="none" stroke="#222" stroke-width="0.67"/>
<rect x="276.69" y="254.86" width="4" height="2.2" fill="#fff" stroke="#222" stroke-width="0.78"/>
<rect x="255.03" y="239.87" width="4" height="2.2" fill="#fff" stroke="#222" stroke-width="0.78"/>
<rect x="281.11" y="232.54" width="4" height="2.2" fill="#fff" stroke="#222" stroke-width="0.78"/>
<rect x="303.91" y="245.64" width="4" height="2.2" fill="#fff" stroke="#222" stroke-width="0.78"/>
<ellipse cx="307.6" cy="235.1" rx="1.4" ry="1" fill="#fff" stroke="#222" stroke-width="0.78"/>
<ellipse cx="281.5" cy="274.6" rx="26.7" ry="12" fill="#fff" stroke="#222" stroke-width="1.01"/>
<ellipse cx="281.5" cy="272.4" rx="26.7" ry="12" fill="#fff" stroke="#222" stroke-width="1.01"/>
<ellipse cx="281.5" cy="272.2" rx="23.5" ry="10.2" fill="none" stroke="#222" stroke-width="0.67"/>
<path d="M262,266.5 l8,-2.4 l5,2 l12,-0.4 l6,-2.4 l8,3 l-3,3.4 l4,3 l-7,3.6 l-9,-1.6 l-4,2.6 l-12,0.2 l-5,-2.8 l-8,0.6 l-4,-3.6 l6,-2.2 z" fill="none" stroke="#222" stroke-width="0.9"/>
<path d="M271,271 l8,-3 l9,0.4 l5,2.6 l-5,3 l-10,0.4 z" fill="none" stroke="#222" stroke-width="0.78"/>
<ellipse cx="263.5" cy="270.5" rx="1.5" ry="0.9" fill="none" stroke="#222" stroke-width="0.67"/>
<ellipse cx="300.5" cy="270" rx="1.5" ry="0.9" fill="none" stroke="#222" stroke-width="0.67"/>
<ellipse cx="282" cy="264.4" rx="1.5" ry="0.9" fill="none" stroke="#222" stroke-width="0.67"/>
<ellipse cx="281" cy="280.4" rx="1.5" ry="0.9" fill="none" stroke="#222" stroke-width="0.67"/>
<rect x="278.2" y="284" width="6.6" height="5.2" fill="#fff" stroke="#222" stroke-width="1.01"/>
<rect x="279.8" y="285.4" width="3.4" height="3" fill="#777" stroke="#222" stroke-width="0.67"/>
<rect x="280.5" y="291.6" width="3" height="8.4" fill="#fff" stroke="#222" stroke-width="0.9"/>
<rect x="279.9" y="294.2" width="4.2" height="3" fill="#fff" stroke="#222" stroke-width="0.9"/>
<line x1="279.9" y1="295.7" x2="284.1" y2="295.7" stroke="#222" stroke-width="0.56"/>
<polygon points="349.68,230.1 354.1,229.02 355.6,230.58 353.5,231.66 350.24,232.5" fill="#fff" stroke="#1a1a1a" stroke-width="1.34"/>
<ellipse cx="345.2" cy="231.3" rx="5.6" ry="2.4" fill="#fff" stroke="#1a1a1a" stroke-width="1.57"/>
<ellipse cx="345.2" cy="231.3" rx="4.37" ry="1.58" fill="none" stroke="#666" stroke-width="0.56"/>
<ellipse cx="345.2" cy="241.8" rx="7.39" ry="2.52" fill="#fff" stroke="#222" stroke-width="1.01"/>
<ellipse cx="337.92" cy="241.8" rx="1" ry="0.8" fill="#fff" stroke="#222" stroke-width="0.9"/>
<ellipse cx="352.48" cy="241.8" rx="1" ry="0.8" fill="#fff" stroke="#222" stroke-width="0.9"/>
<path d="M339.6,241.8 L340.61,251.3 A4.59,1.92 0 0 0 349.79,251.3 L350.8,241.8" fill="#fff" stroke="#222" stroke-width="1.01"/>
<ellipse cx="345.2" cy="241.8" rx="5.6" ry="2.4" fill="#fff" stroke="#222" stroke-width="1.12"/>
<ellipse cx="345.2" cy="242.3" rx="4.59" ry="1.8" fill="none" stroke="#222" stroke-width="0.78"/>
<line x1="342.68" y1="243.72" x2="342.93" y2="252.5" stroke="#222" stroke-width="0.67"/>
<line x1="345.2" y1="243.72" x2="345.2" y2="252.5" stroke="#222" stroke-width="0.67"/>
<line x1="347.72" y1="243.72" x2="347.47" y2="252.5" stroke="#222" stroke-width="0.67"/>
<rect x="343" y="252.74" width="4.4" height="3.8" fill="#555" stroke="#222" stroke-width="0.9"/>
<line x1="343" y1="254.64" x2="347.4" y2="254.64" stroke="#fff" stroke-width="0.67"/>
<rect x="343.7" y="259.4" width="3" height="8.2" fill="#fff" stroke="#222" stroke-width="0.9"/>
<rect x="343.1" y="262" width="4.2" height="3" fill="#fff" stroke="#222" stroke-width="0.9"/>
<line x1="343.1" y1="263.5" x2="347.3" y2="263.5" stroke="#222" stroke-width="0.56"/>
<polygon points="355.88,285.7 360.3,284.62 361.8,286.18 359.7,287.26 356.44,288.1" fill="#fff" stroke="#1a1a1a" stroke-width="1.34"/>
<ellipse cx="351.4" cy="286.9" rx="5.6" ry="2.4" fill="#fff" stroke="#1a1a1a" stroke-width="1.57"/>
<ellipse cx="351.4" cy="286.9" rx="4.37" ry="1.58" fill="none" stroke="#666" stroke-width="0.56"/>
<ellipse cx="350.6" cy="296.6" rx="7.39" ry="2.52" fill="#fff" stroke="#222" stroke-width="1.01"/>
<ellipse cx="343.32" cy="296.6" rx="1" ry="0.8" fill="#fff" stroke="#222" stroke-width="0.9"/>
<ellipse cx="357.88" cy="296.6" rx="1" ry="0.8" fill="#fff" stroke="#222" stroke-width="0.9"/>
<path d="M345,296.6 L346.01,306.1 A4.59,1.92 0 0 0 355.19,306.1 L356.2,296.6" fill="#fff" stroke="#222" stroke-width="1.01"/>
<ellipse cx="350.6" cy="296.6" rx="5.6" ry="2.4" fill="#fff" stroke="#222" stroke-width="1.12"/>
<ellipse cx="350.6" cy="297.1" rx="4.59" ry="1.8" fill="none" stroke="#222" stroke-width="0.78"/>
<line x1="348.08" y1="298.52" x2="348.33" y2="307.3" stroke="#222" stroke-width="0.67"/>
<line x1="350.6" y1="298.52" x2="350.6" y2="307.3" stroke="#222" stroke-width="0.67"/>
<line x1="353.12" y1="298.52" x2="352.87" y2="307.3" stroke="#222" stroke-width="0.67"/>
<rect x="348.4" y="307.54" width="4.4" height="3.8" fill="#555" stroke="#222" stroke-width="0.9"/>
<line x1="348.4" y1="309.44" x2="352.8" y2="309.44" stroke="#fff" stroke-width="0.67"/>
<rect x="349" y="313.4" width="3" height="8.1" fill="#fff" stroke="#222" stroke-width="0.9"/>
<rect x="348.4" y="316" width="4.2" height="3" fill="#fff" stroke="#222" stroke-width="0.9"/>
<line x1="348.4" y1="317.5" x2="352.6" y2="317.5" stroke="#222" stroke-width="0.56"/>
<polygon points="420.2,254.9 426.2,253.37 428.2,255.58 425.4,257.11 421,258.3" fill="#fff" stroke="#1a1a1a" stroke-width="1.34"/>
<ellipse cx="413.8" cy="256.6" rx="8" ry="3.4" fill="#fff" stroke="#1a1a1a" stroke-width="1.57"/>
<ellipse cx="413.8" cy="256.6" rx="6.24" ry="2.24" fill="none" stroke="#666" stroke-width="0.56"/>
<ellipse cx="414.1" cy="268.2" rx="10.96" ry="3.46" fill="#fff" stroke="#222" stroke-width="1.01"/>
<ellipse cx="403.31" cy="268.2" rx="1" ry="0.8" fill="#fff" stroke="#222" stroke-width="0.9"/>
<ellipse cx="424.89" cy="268.2" rx="1" ry="0.8" fill="#fff" stroke="#222" stroke-width="0.9"/>
<path d="M405.8,268.2 L407.29,277.8 A6.81,2.64 0 0 0 420.91,277.8 L422.4,268.2" fill="#fff" stroke="#222" stroke-width="1.01"/>
<ellipse cx="414.1" cy="268.2" rx="8.3" ry="3.3" fill="#fff" stroke="#222" stroke-width="1.12"/>
<ellipse cx="414.1" cy="268.7" rx="6.81" ry="2.47" fill="none" stroke="#222" stroke-width="0.78"/>
<line x1="410.37" y1="270.84" x2="410.74" y2="279.45" stroke="#222" stroke-width="0.67"/>
<line x1="414.1" y1="270.84" x2="414.1" y2="279.45" stroke="#222" stroke-width="0.67"/>
<line x1="417.84" y1="270.84" x2="417.46" y2="279.45" stroke="#222" stroke-width="0.67"/>
<rect x="411.1" y="279.78" width="6" height="3.8" fill="#555" stroke="#222" stroke-width="0.9"/>
<line x1="411.1" y1="281.68" x2="417.1" y2="281.68" stroke="#fff" stroke-width="0.67"/>
<rect x="413" y="286.3" width="3" height="9.4" fill="#fff" stroke="#222" stroke-width="0.9"/>
<rect x="412.4" y="288.9" width="4.2" height="3" fill="#fff" stroke="#222" stroke-width="0.9"/>
<line x1="412.4" y1="290.4" x2="416.6" y2="290.4" stroke="#222" stroke-width="0.56"/>
<polygon points="426.2,307.3 432.2,305.77 434.2,307.98 431.4,309.51 427,310.7" fill="#fff" stroke="#1a1a1a" stroke-width="1.34"/>
<ellipse cx="419.8" cy="309" rx="8" ry="3.4" fill="#fff" stroke="#1a1a1a" stroke-width="1.57"/>
<ellipse cx="419.8" cy="309" rx="6.24" ry="2.24" fill="none" stroke="#666" stroke-width="0.56"/>
<ellipse cx="419.6" cy="321.6" rx="10.96" ry="3.46" fill="#fff" stroke="#222" stroke-width="1.01"/>
<ellipse cx="408.81" cy="321.6" rx="1" ry="0.8" fill="#fff" stroke="#222" stroke-width="0.9"/>
<ellipse cx="430.39" cy="321.6" rx="1" ry="0.8" fill="#fff" stroke="#222" stroke-width="0.9"/>
<path d="M411.3,321.6 L412.79,331.2 A6.81,2.64 0 0 0 426.41,331.2 L427.9,321.6" fill="#fff" stroke="#222" stroke-width="1.01"/>
<ellipse cx="419.6" cy="321.6" rx="8.3" ry="3.3" fill="#fff" stroke="#222" stroke-width="1.12"/>
<ellipse cx="419.6" cy="322.1" rx="6.81" ry="2.47" fill="none" stroke="#222" stroke-width="0.78"/>
<line x1="415.87" y1="324.24" x2="416.24" y2="332.85" stroke="#222" stroke-width="0.67"/>
<line x1="419.6" y1="324.24" x2="419.6" y2="332.85" stroke="#222" stroke-width="0.67"/>
<line x1="423.34" y1="324.24" x2="422.96" y2="332.85" stroke="#222" stroke-width="0.67"/>
<rect x="416.6" y="333.18" width="6" height="3.8" fill="#555" stroke="#222" stroke-width="0.9"/>
<line x1="416.6" y1="335.08" x2="422.6" y2="335.08" stroke="#fff" stroke-width="0.67"/>
<rect x="418.3" y="340" width="3" height="8.6" fill="#fff" stroke="#222" stroke-width="0.9"/>
<rect x="417.7" y="342.6" width="4.2" height="3" fill="#fff" stroke="#222" stroke-width="0.9"/>
<line x1="417.7" y1="344.1" x2="421.9" y2="344.1" stroke="#222" stroke-width="0.56"/>
<polygon points="491.18,280.8 499,278.73 501.5,281.72 498,283.79 492.34,285.4" fill="#fff" stroke="#1a1a1a" stroke-width="1.34"/>
<ellipse cx="481.9" cy="283.1" rx="11.6" ry="4.6" fill="#fff" stroke="#1a1a1a" stroke-width="1.57"/>
<ellipse cx="481.9" cy="283.1" rx="9.05" ry="3.04" fill="none" stroke="#666" stroke-width="0.56"/>
<ellipse cx="481.6" cy="296.7" rx="13.33" ry="4.51" fill="#fff" stroke="#222" stroke-width="1.01"/>
<ellipse cx="468.47" cy="296.7" rx="1" ry="0.8" fill="#fff" stroke="#222" stroke-width="0.9"/>
<ellipse cx="494.73" cy="296.7" rx="1" ry="0.8" fill="#fff" stroke="#222" stroke-width="0.9"/>
<path d="M471.5,296.7 L473.32,307.1 A8.28,3.44 0 0 0 489.88,307.1 L491.7,296.7" fill="#fff" stroke="#222" stroke-width="1.01"/>
<ellipse cx="481.6" cy="296.7" rx="10.1" ry="4.3" fill="#fff" stroke="#222" stroke-width="1.12"/>
<ellipse cx="481.6" cy="297.2" rx="8.28" ry="3.22" fill="none" stroke="#222" stroke-width="0.78"/>
<line x1="477.06" y1="300.14" x2="477.51" y2="309.25" stroke="#222" stroke-width="0.67"/>
<line x1="481.6" y1="300.14" x2="481.6" y2="309.25" stroke="#222" stroke-width="0.67"/>
<line x1="486.15" y1="300.14" x2="485.69" y2="309.25" stroke="#222" stroke-width="0.67"/>
<rect x="478.4" y="309.68" width="6.4" height="3.8" fill="#555" stroke="#222" stroke-width="0.9"/>
<line x1="478.4" y1="311.58" x2="484.8" y2="311.58" stroke="#fff" stroke-width="0.67"/>
<rect x="480.1" y="316" width="3" height="10.9" fill="#fff" stroke="#222" stroke-width="0.9"/>
<rect x="479.5" y="318.6" width="4.2" height="3" fill="#fff" stroke="#222" stroke-width="0.9"/>
<line x1="479.5" y1="320.1" x2="483.7" y2="320.1" stroke="#222" stroke-width="0.56"/>
<ellipse cx="393.4" cy="387.6" rx="14.5" ry="6" fill="none" stroke="#222" stroke-width="0.9" transform="rotate(8 393.4 387.6)"/>
<ellipse cx="394.2" cy="388.2" rx="10.44" ry="3.72" fill="none" stroke="#222" stroke-width="0.9" transform="rotate(8 394.2 388.2)"/>
<ellipse cx="432" cy="405.7" rx="14.5" ry="6" fill="none" stroke="#222" stroke-width="0.9" transform="rotate(8 432 405.7)"/>
<ellipse cx="432.8" cy="406.3" rx="10.44" ry="3.72" fill="none" stroke="#222" stroke-width="0.9" transform="rotate(8 432.8 406.3)"/>
<ellipse cx="499.6" cy="457.5" rx="12" ry="5" fill="none" stroke="#222" stroke-width="0.9" transform="rotate(8 499.6 457.5)"/>
<ellipse cx="500.4" cy="458.1" rx="8.64" ry="3.1" fill="none" stroke="#222" stroke-width="0.9" transform="rotate(8 500.4 458.1)"/>
<line x1="406" y1="384.4" x2="438.6" y2="398.8" stroke="#222" stroke-width="1.01"/>
<line x1="445" y1="403.6" x2="476" y2="415.6" stroke="#222" stroke-width="1.01"/>
<line x1="509" y1="455" x2="541" y2="467.4" stroke="#222" stroke-width="1.01"/>
<path d="M400,392.6 Q404,397 405,402" fill="none" stroke="#222" stroke-width="0.9"/>
<path d="M438,411 Q441,414 441.5,416" fill="none" stroke="#222" stroke-width="0.9"/>
<path d="M489,454.4 Q478,454 471,458.6" fill="none" stroke="#222" stroke-width="0.9"/>
<polygon points="399.3,404.8 405.3,401.6 414.3,404.6 414.3,411.4 408.5,414.6 399.3,411.4" fill="#fff" stroke="#222" stroke-width="1.12"/>
<polyline points="399.3,404.8 408.5,408 414.3,404.6" fill="none" stroke="#222" stroke-width="1.01"/>
<line x1="408.5" y1="408" x2="408.5" y2="414.6" stroke="#222" stroke-width="1.01"/>
<polygon points="400.7,407.2 407.1,409.4 407.1,412.8 400.7,410.6" fill="#444" stroke="#222" stroke-width="0.67"/>
<rect x="402.1" y="408.4" width="1.4" height="1.8" fill="#fff" stroke="#222" stroke-width="0.3"/>
<rect x="404.5" y="409.3" width="1.4" height="1.8" fill="#fff" stroke="#222" stroke-width="0.3"/>
<polygon points="409.7,408.6 413.1,406.8 413.1,410.4 409.7,412.2" fill="#666" stroke="#222" stroke-width="0.67"/>
<polygon points="435.5,417.8 441.5,414.6 450.5,417.6 450.5,424.4 444.7,427.6 435.5,424.4" fill="#fff" stroke="#222" stroke-width="1.12"/>
<polyline points="435.5,417.8 444.7,421 450.5,417.6" fill="none" stroke="#222" stroke-width="1.01"/>
<line x1="444.7" y1="421" x2="444.7" y2="427.6" stroke="#222" stroke-width="1.01"/>
<polygon points="436.9,420.2 443.3,422.4 443.3,425.8 436.9,423.6" fill="#444" stroke="#222" stroke-width="0.67"/>
<rect x="438.3" y="421.4" width="1.4" height="1.8" fill="#fff" stroke="#222" stroke-width="0.3"/>
<rect x="440.7" y="422.3" width="1.4" height="1.8" fill="#fff" stroke="#222" stroke-width="0.3"/>
<polygon points="445.9,421.6 449.3,419.8 449.3,423.4 445.9,425.2" fill="#666" stroke="#222" stroke-width="0.67"/>
<polygon points="457.9,458.8 463.9,455.6 472.9,458.6 472.9,465.4 467.1,468.6 457.9,465.4" fill="#fff" stroke="#222" stroke-width="1.12"/>
<polyline points="457.9,458.8 467.1,462 472.9,458.6" fill="none" stroke="#222" stroke-width="1.01"/>
<line x1="467.1" y1="462" x2="467.1" y2="468.6" stroke="#222" stroke-width="1.01"/>
<polygon points="459.3,461.2 465.7,463.4 465.7,466.8 459.3,464.6" fill="#444" stroke="#222" stroke-width="0.67"/>
<rect x="460.7" y="462.4" width="1.4" height="1.8" fill="#fff" stroke="#222" stroke-width="0.3"/>
<rect x="463.1" y="463.3" width="1.4" height="1.8" fill="#fff" stroke="#222" stroke-width="0.3"/>
<polygon points="468.3,462.6 471.7,460.8 471.7,464.4 468.3,466.2" fill="#666" stroke="#222" stroke-width="0.67"/>
<ellipse cx="415.6" cy="382.7" rx="1.5" ry="2.3" fill="#fff" stroke="#1a1a1a" stroke-width="1.23"/>
<line x1="414.2" y1="383.3" x2="417" y2="383.3" stroke="#222" stroke-width="0.9"/>
<ellipse cx="415.9" cy="380.3" rx="1.2" ry="0.8" fill="#fff" stroke="#222" stroke-width="0.9"/>
<ellipse cx="432" cy="390" rx="1.5" ry="2.3" fill="#fff" stroke="#1a1a1a" stroke-width="1.23"/>
<line x1="430.6" y1="390.6" x2="433.4" y2="390.6" stroke="#222" stroke-width="0.9"/>
<ellipse cx="432.3" cy="387.6" rx="1.2" ry="0.8" fill="#fff" stroke="#222" stroke-width="0.9"/>
<ellipse cx="454.2" cy="402" rx="1.5" ry="2.3" fill="#fff" stroke="#1a1a1a" stroke-width="1.23"/>
<line x1="452.8" y1="402.6" x2="455.6" y2="402.6" stroke="#222" stroke-width="0.9"/>
<ellipse cx="454.5" cy="399.6" rx="1.2" ry="0.8" fill="#fff" stroke="#222" stroke-width="0.9"/>
<ellipse cx="469.9" cy="409.3" rx="1.5" ry="2.3" fill="#fff" stroke="#1a1a1a" stroke-width="1.23"/>
<line x1="468.5" y1="409.9" x2="471.3" y2="409.9" stroke="#222" stroke-width="0.9"/>
<ellipse cx="470.2" cy="406.9" rx="1.2" ry="0.8" fill="#fff" stroke="#222" stroke-width="0.9"/>
<ellipse cx="519.4" cy="452.7" rx="1.5" ry="2.3" fill="#fff" stroke="#1a1a1a" stroke-width="1.23"/>
<line x1="518" y1="453.3" x2="520.8" y2="453.3" stroke="#222" stroke-width="0.9"/>
<ellipse cx="519.7" cy="450.3" rx="1.2" ry="0.8" fill="#fff" stroke="#222" stroke-width="0.9"/>
<ellipse cx="535.3" cy="460" rx="1.5" ry="2.3" fill="#fff" stroke="#1a1a1a" stroke-width="1.23"/>
<line x1="533.9" y1="460.6" x2="536.7" y2="460.6" stroke="#222" stroke-width="0.9"/>
<ellipse cx="535.6" cy="457.6" rx="1.2" ry="0.8" fill="#fff" stroke="#222" stroke-width="0.9"/>
<polygon points="366,420.8 382,426.7 404.01,417.22 388.01,411.32" fill="#fff" stroke="#222" stroke-width="1.01"/>
<polygon points="382,426.7 404.01,417.22 404.01,422.62 381.4,432.1" fill="#fff" stroke="#222" stroke-width="1.01"/>
<path d="M382.27,431.97 a1.4,1.6 0 0 1 2.6,-1.1" fill="#fff" stroke="#222" stroke-width="0.78"/>
<path d="M385.42,430.62 a1.4,1.6 0 0 1 2.6,-1.1" fill="#fff" stroke="#222" stroke-width="0.78"/>
<path d="M388.56,429.26 a1.4,1.6 0 0 1 2.6,-1.1" fill="#fff" stroke="#222" stroke-width="0.78"/>
<path d="M391.7,427.91 a1.4,1.6 0 0 1 2.6,-1.1" fill="#fff" stroke="#222" stroke-width="0.78"/>
<path d="M394.85,426.56 a1.4,1.6 0 0 1 2.6,-1.1" fill="#fff" stroke="#222" stroke-width="0.78"/>
<path d="M397.99,425.2 a1.4,1.6 0 0 1 2.6,-1.1" fill="#fff" stroke="#222" stroke-width="0.78"/>
<path d="M401.14,423.85 a1.4,1.6 0 0 1 2.6,-1.1" fill="#fff" stroke="#222" stroke-width="0.78"/>
<polygon points="366,420.8 382,426.7 381.4,432.1 366,426.2" fill="#fff" stroke="#222" stroke-width="1.01"/>
<text x="373.6" y="427.5" font-size="3.6" text-anchor="middle" font-weight="bold" fill="#222" transform="rotate(20 373.6 426.2)">M6+</text>
<rect x="371.37" y="418.04" width="2" height="3.6" fill="#fff" stroke="#222" stroke-width="0.67"/>
<ellipse cx="372.37" cy="417.84" rx="1.15" ry="0.85" fill="#fff" stroke="#222" stroke-width="0.9"/>
<ellipse cx="372.37" cy="417.84" rx="0.4" ry="0.3" fill="#333" stroke="#222" stroke-width="0.4"/>
<rect x="374.51" y="416.69" width="2" height="3.6" fill="#fff" stroke="#222" stroke-width="0.67"/>
<ellipse cx="375.51" cy="416.49" rx="1.15" ry="0.85" fill="#fff" stroke="#222" stroke-width="0.9"/>
<ellipse cx="375.51" cy="416.49" rx="0.4" ry="0.3" fill="#333" stroke="#222" stroke-width="0.4"/>
<rect x="377.65" y="415.33" width="2" height="3.6" fill="#fff" stroke="#222" stroke-width="0.67"/>
<ellipse cx="378.65" cy="415.13" rx="1.15" ry="0.85" fill="#fff" stroke="#222" stroke-width="0.9"/>
<ellipse cx="378.65" cy="415.13" rx="0.4" ry="0.3" fill="#333" stroke="#222" stroke-width="0.4"/>
<rect x="380.8" y="413.98" width="2" height="3.6" fill="#fff" stroke="#222" stroke-width="0.67"/>
<ellipse cx="381.8" cy="413.78" rx="1.15" ry="0.85" fill="#fff" stroke="#222" stroke-width="0.9"/>
<ellipse cx="381.8" cy="413.78" rx="0.4" ry="0.3" fill="#333" stroke="#222" stroke-width="0.4"/>
<rect x="383.94" y="412.62" width="2" height="3.6" fill="#fff" stroke="#222" stroke-width="0.67"/>
<ellipse cx="384.94" cy="412.42" rx="1.15" ry="0.85" fill="#fff" stroke="#222" stroke-width="0.9"/>
<ellipse cx="384.94" cy="412.42" rx="0.4" ry="0.3" fill="#333" stroke="#222" stroke-width="0.4"/>
<rect x="387.09" y="411.27" width="2" height="3.6" fill="#fff" stroke="#222" stroke-width="0.67"/>
<ellipse cx="388.09" cy="411.07" rx="1.15" ry="0.85" fill="#fff" stroke="#222" stroke-width="0.9"/>
<ellipse cx="388.09" cy="411.07" rx="0.4" ry="0.3" fill="#333" stroke="#222" stroke-width="0.4"/>
<rect x="390.23" y="409.91" width="2" height="3.6" fill="#fff" stroke="#222" stroke-width="0.67"/>
<ellipse cx="391.23" cy="409.71" rx="1.15" ry="0.85" fill="#fff" stroke="#222" stroke-width="0.9"/>
<ellipse cx="391.23" cy="409.71" rx="0.4" ry="0.3" fill="#333" stroke="#222" stroke-width="0.4"/>
<rect x="378.41" y="420.64" width="2" height="3.6" fill="#fff" stroke="#222" stroke-width="0.67"/>
<ellipse cx="379.41" cy="420.44" rx="1.15" ry="0.85" fill="#fff" stroke="#222" stroke-width="0.9"/>
<ellipse cx="379.41" cy="420.44" rx="0.4" ry="0.3" fill="#333" stroke="#222" stroke-width="0.4"/>
<rect x="381.55" y="419.28" width="2" height="3.6" fill="#fff" stroke="#222" stroke-width="0.67"/>
<ellipse cx="382.55" cy="419.08" rx="1.15" ry="0.85" fill="#fff" stroke="#222" stroke-width="0.9"/>
<ellipse cx="382.55" cy="419.08" rx="0.4" ry="0.3" fill="#333" stroke="#222" stroke-width="0.4"/>
<rect x="384.69" y="417.93" width="2" height="3.6" fill="#fff" stroke="#222" stroke-width="0.67"/>
<ellipse cx="385.69" cy="417.73" rx="1.15" ry="0.85" fill="#fff" stroke="#222" stroke-width="0.9"/>
<ellipse cx="385.69" cy="417.73" rx="0.4" ry="0.3" fill="#333" stroke="#222" stroke-width="0.4"/>
<rect x="387.84" y="416.57" width="2" height="3.6" fill="#fff" stroke="#222" stroke-width="0.67"/>
<ellipse cx="388.84" cy="416.37" rx="1.15" ry="0.85" fill="#fff" stroke="#222" stroke-width="0.9"/>
<ellipse cx="388.84" cy="416.37" rx="0.4" ry="0.3" fill="#333" stroke="#222" stroke-width="0.4"/>
<rect x="390.98" y="415.22" width="2" height="3.6" fill="#fff" stroke="#222" stroke-width="0.67"/>
<ellipse cx="391.98" cy="415.02" rx="1.15" ry="0.85" fill="#fff" stroke="#222" stroke-width="0.9"/>
<ellipse cx="391.98" cy="415.02" rx="0.4" ry="0.3" fill="#333" stroke="#222" stroke-width="0.4"/>
<rect x="394.13" y="413.86" width="2" height="3.6" fill="#fff" stroke="#222" stroke-width="0.67"/>
<ellipse cx="395.13" cy="413.66" rx="1.15" ry="0.85" fill="#fff" stroke="#222" stroke-width="0.9"/>
<ellipse cx="395.13" cy="413.66" rx="0.4" ry="0.3" fill="#333" stroke="#222" stroke-width="0.4"/>
<rect x="397.27" y="412.51" width="2" height="3.6" fill="#fff" stroke="#222" stroke-width="0.67"/>
<ellipse cx="398.27" cy="412.31" rx="1.15" ry="0.85" fill="#fff" stroke="#222" stroke-width="0.9"/>
<ellipse cx="398.27" cy="412.31" rx="0.4" ry="0.3" fill="#333" stroke="#222" stroke-width="0.4"/>
<polygon points="397.1,433.7 413.1,439.6 436.03,429.72 420.03,423.82" fill="#fff" stroke="#222" stroke-width="1.01"/>
<polygon points="413.1,439.6 436.03,429.72 436.03,435.12 412.5,445" fill="#fff" stroke="#222" stroke-width="1.01"/>
<path d="M413.44,444.84 a1.4,1.6 0 0 1 2.6,-1.1" fill="#fff" stroke="#222" stroke-width="0.78"/>
<path d="M416.71,443.43 a1.4,1.6 0 0 1 2.6,-1.1" fill="#fff" stroke="#222" stroke-width="0.78"/>
<path d="M419.99,442.02 a1.4,1.6 0 0 1 2.6,-1.1" fill="#fff" stroke="#222" stroke-width="0.78"/>
<path d="M423.26,440.61 a1.4,1.6 0 0 1 2.6,-1.1" fill="#fff" stroke="#222" stroke-width="0.78"/>
<path d="M426.54,439.2 a1.4,1.6 0 0 1 2.6,-1.1" fill="#fff" stroke="#222" stroke-width="0.78"/>
<path d="M429.81,437.79 a1.4,1.6 0 0 1 2.6,-1.1" fill="#fff" stroke="#222" stroke-width="0.78"/>
<path d="M433.09,436.38 a1.4,1.6 0 0 1 2.6,-1.1" fill="#fff" stroke="#222" stroke-width="0.78"/>
<polygon points="397.1,433.7 413.1,439.6 412.5,445 397.1,439.1" fill="#fff" stroke="#222" stroke-width="1.01"/>
<text x="404.7" y="440.4" font-size="3.6" text-anchor="middle" font-weight="bold" fill="#222" transform="rotate(20 404.7 439.1)">M6+</text>
<rect x="402.55" y="430.91" width="2" height="3.6" fill="#fff" stroke="#222" stroke-width="0.67"/>
<ellipse cx="403.55" cy="430.71" rx="1.15" ry="0.85" fill="#fff" stroke="#222" stroke-width="0.9"/>
<ellipse cx="403.55" cy="430.71" rx="0.4" ry="0.3" fill="#333" stroke="#222" stroke-width="0.4"/>
<rect x="405.82" y="429.49" width="2" height="3.6" fill="#fff" stroke="#222" stroke-width="0.67"/>
<ellipse cx="406.82" cy="429.29" rx="1.15" ry="0.85" fill="#fff" stroke="#222" stroke-width="0.9"/>
<ellipse cx="406.82" cy="429.29" rx="0.4" ry="0.3" fill="#333" stroke="#222" stroke-width="0.4"/>
<rect x="409.1" y="428.08" width="2" height="3.6" fill="#fff" stroke="#222" stroke-width="0.67"/>
<ellipse cx="410.1" cy="427.88" rx="1.15" ry="0.85" fill="#fff" stroke="#222" stroke-width="0.9"/>
<ellipse cx="410.1" cy="427.88" rx="0.4" ry="0.3" fill="#333" stroke="#222" stroke-width="0.4"/>
<rect x="412.37" y="426.67" width="2" height="3.6" fill="#fff" stroke="#222" stroke-width="0.67"/>
<ellipse cx="413.37" cy="426.47" rx="1.15" ry="0.85" fill="#fff" stroke="#222" stroke-width="0.9"/>
<ellipse cx="413.37" cy="426.47" rx="0.4" ry="0.3" fill="#333" stroke="#222" stroke-width="0.4"/>
<rect x="415.65" y="425.26" width="2" height="3.6" fill="#fff" stroke="#222" stroke-width="0.67"/>
<ellipse cx="416.65" cy="425.06" rx="1.15" ry="0.85" fill="#fff" stroke="#222" stroke-width="0.9"/>
<ellipse cx="416.65" cy="425.06" rx="0.4" ry="0.3" fill="#333" stroke="#222" stroke-width="0.4"/>
<rect x="418.92" y="423.85" width="2" height="3.6" fill="#fff" stroke="#222" stroke-width="0.67"/>
<ellipse cx="419.92" cy="423.65" rx="1.15" ry="0.85" fill="#fff" stroke="#222" stroke-width="0.9"/>
<ellipse cx="419.92" cy="423.65" rx="0.4" ry="0.3" fill="#333" stroke="#222" stroke-width="0.4"/>
<rect x="422.2" y="422.44" width="2" height="3.6" fill="#fff" stroke="#222" stroke-width="0.67"/>
<ellipse cx="423.2" cy="422.24" rx="1.15" ry="0.85" fill="#fff" stroke="#222" stroke-width="0.9"/>
<ellipse cx="423.2" cy="422.24" rx="0.4" ry="0.3" fill="#333" stroke="#222" stroke-width="0.4"/>
<rect x="409.58" y="433.5" width="2" height="3.6" fill="#fff" stroke="#222" stroke-width="0.67"/>
<ellipse cx="410.58" cy="433.3" rx="1.15" ry="0.85" fill="#fff" stroke="#222" stroke-width="0.9"/>
<ellipse cx="410.58" cy="433.3" rx="0.4" ry="0.3" fill="#333" stroke="#222" stroke-width="0.4"/>
<rect x="412.86" y="432.09" width="2" height="3.6" fill="#fff" stroke="#222" stroke-width="0.67"/>
<ellipse cx="413.86" cy="431.89" rx="1.15" ry="0.85" fill="#fff" stroke="#222" stroke-width="0.9"/>
<ellipse cx="413.86" cy="431.89" rx="0.4" ry="0.3" fill="#333" stroke="#222" stroke-width="0.4"/>
<rect x="416.13" y="430.68" width="2" height="3.6" fill="#fff" stroke="#222" stroke-width="0.67"/>
<ellipse cx="417.13" cy="430.48" rx="1.15" ry="0.85" fill="#fff" stroke="#222" stroke-width="0.9"/>
<ellipse cx="417.13" cy="430.48" rx="0.4" ry="0.3" fill="#333" stroke="#222" stroke-width="0.4"/>
<rect x="419.41" y="429.27" width="2" height="3.6" fill="#fff" stroke="#222" stroke-width="0.67"/>
<ellipse cx="420.41" cy="429.07" rx="1.15" ry="0.85" fill="#fff" stroke="#222" stroke-width="0.9"/>
<ellipse cx="420.41" cy="429.07" rx="0.4" ry="0.3" fill="#333" stroke="#222" stroke-width="0.4"/>
<rect x="422.69" y="427.86" width="2" height="3.6" fill="#fff" stroke="#222" stroke-width="0.67"/>
<ellipse cx="423.69" cy="427.66" rx="1.15" ry="0.85" fill="#fff" stroke="#222" stroke-width="0.9"/>
<ellipse cx="423.69" cy="427.66" rx="0.4" ry="0.3" fill="#333" stroke="#222" stroke-width="0.4"/>
<rect x="425.96" y="426.45" width="2" height="3.6" fill="#fff" stroke="#222" stroke-width="0.67"/>
<ellipse cx="426.96" cy="426.25" rx="1.15" ry="0.85" fill="#fff" stroke="#222" stroke-width="0.9"/>
<ellipse cx="426.96" cy="426.25" rx="0.4" ry="0.3" fill="#333" stroke="#222" stroke-width="0.4"/>
<rect x="429.24" y="425.04" width="2" height="3.6" fill="#fff" stroke="#222" stroke-width="0.67"/>
<ellipse cx="430.24" cy="424.84" rx="1.15" ry="0.85" fill="#fff" stroke="#222" stroke-width="0.9"/>
<ellipse cx="430.24" cy="424.84" rx="0.4" ry="0.3" fill="#333" stroke="#222" stroke-width="0.4"/>
<polygon points="428.4,446.3 444.4,452.2 474.2,439.36 458.2,433.46" fill="#fff" stroke="#222" stroke-width="1.01"/>
<polygon points="444.4,452.2 474.2,439.36 474.2,444.76 443.8,457.6" fill="#fff" stroke="#222" stroke-width="1.01"/>
<path d="M444.76,457.44 a1.4,1.6 0 0 1 2.6,-1.1" fill="#fff" stroke="#222" stroke-width="0.78"/>
<path d="M448.07,456.01 a1.4,1.6 0 0 1 2.6,-1.1" fill="#fff" stroke="#222" stroke-width="0.78"/>
<path d="M451.38,454.58 a1.4,1.6 0 0 1 2.6,-1.1" fill="#fff" stroke="#222" stroke-width="0.78"/>
<path d="M454.69,453.16 a1.4,1.6 0 0 1 2.6,-1.1" fill="#fff" stroke="#222" stroke-width="0.78"/>
<path d="M458,451.73 a1.4,1.6 0 0 1 2.6,-1.1" fill="#fff" stroke="#222" stroke-width="0.78"/>
<path d="M461.31,450.3 a1.4,1.6 0 0 1 2.6,-1.1" fill="#fff" stroke="#222" stroke-width="0.78"/>
<path d="M464.62,448.88 a1.4,1.6 0 0 1 2.6,-1.1" fill="#fff" stroke="#222" stroke-width="0.78"/>
<path d="M467.94,447.45 a1.4,1.6 0 0 1 2.6,-1.1" fill="#fff" stroke="#222" stroke-width="0.78"/>
<path d="M471.25,446.03 a1.4,1.6 0 0 1 2.6,-1.1" fill="#fff" stroke="#222" stroke-width="0.78"/>
<polygon points="428.4,446.3 444.4,452.2 443.8,457.6 428.4,451.7" fill="#fff" stroke="#222" stroke-width="1.01"/>
<text x="436" y="453" font-size="3.6" text-anchor="middle" font-weight="bold" fill="#222" transform="rotate(20 436 451.7)">M6+</text>
<rect x="433.87" y="443.5" width="2" height="3.6" fill="#fff" stroke="#222" stroke-width="0.67"/>
<ellipse cx="434.87" cy="443.3" rx="1.15" ry="0.85" fill="#fff" stroke="#222" stroke-width="0.9"/>
<ellipse cx="434.87" cy="443.3" rx="0.4" ry="0.3" fill="#333" stroke="#222" stroke-width="0.4"/>
<rect x="437.18" y="442.07" width="2" height="3.6" fill="#fff" stroke="#222" stroke-width="0.67"/>
<ellipse cx="438.18" cy="441.87" rx="1.15" ry="0.85" fill="#fff" stroke="#222" stroke-width="0.9"/>
<ellipse cx="438.18" cy="441.87" rx="0.4" ry="0.3" fill="#333" stroke="#222" stroke-width="0.4"/>
<rect x="440.49" y="440.64" width="2" height="3.6" fill="#fff" stroke="#222" stroke-width="0.67"/>
<ellipse cx="441.49" cy="440.44" rx="1.15" ry="0.85" fill="#fff" stroke="#222" stroke-width="0.9"/>
<ellipse cx="441.49" cy="440.44" rx="0.4" ry="0.3" fill="#333" stroke="#222" stroke-width="0.4"/>
<rect x="443.8" y="439.22" width="2" height="3.6" fill="#fff" stroke="#222" stroke-width="0.67"/>
<ellipse cx="444.8" cy="439.02" rx="1.15" ry="0.85" fill="#fff" stroke="#222" stroke-width="0.9"/>
<ellipse cx="444.8" cy="439.02" rx="0.4" ry="0.3" fill="#333" stroke="#222" stroke-width="0.4"/>
<rect x="447.11" y="437.79" width="2" height="3.6" fill="#fff" stroke="#222" stroke-width="0.67"/>
<ellipse cx="448.11" cy="437.59" rx="1.15" ry="0.85" fill="#fff" stroke="#222" stroke-width="0.9"/>
<ellipse cx="448.11" cy="437.59" rx="0.4" ry="0.3" fill="#333" stroke="#222" stroke-width="0.4"/>
<rect x="450.42" y="436.36" width="2" height="3.6" fill="#fff" stroke="#222" stroke-width="0.67"/>
<ellipse cx="451.42" cy="436.16" rx="1.15" ry="0.85" fill="#fff" stroke="#222" stroke-width="0.9"/>
<ellipse cx="451.42" cy="436.16" rx="0.4" ry="0.3" fill="#333" stroke="#222" stroke-width="0.4"/>
<rect x="453.74" y="434.94" width="2" height="3.6" fill="#fff" stroke="#222" stroke-width="0.67"/>
<ellipse cx="454.74" cy="434.74" rx="1.15" ry="0.85" fill="#fff" stroke="#222" stroke-width="0.9"/>
<ellipse cx="454.74" cy="434.74" rx="0.4" ry="0.3" fill="#333" stroke="#222" stroke-width="0.4"/>
<rect x="457.05" y="433.51" width="2" height="3.6" fill="#fff" stroke="#222" stroke-width="0.67"/>
<ellipse cx="458.05" cy="433.31" rx="1.15" ry="0.85" fill="#fff" stroke="#222" stroke-width="0.9"/>
<ellipse cx="458.05" cy="433.31" rx="0.4" ry="0.3" fill="#333" stroke="#222" stroke-width="0.4"/>
<rect x="460.36" y="432.09" width="2" height="3.6" fill="#fff" stroke="#222" stroke-width="0.67"/>
<ellipse cx="461.36" cy="431.89" rx="1.15" ry="0.85" fill="#fff" stroke="#222" stroke-width="0.9"/>
<ellipse cx="461.36" cy="431.89" rx="0.4" ry="0.3" fill="#333" stroke="#222" stroke-width="0.4"/>
<rect x="440.91" y="446.09" width="2" height="3.6" fill="#fff" stroke="#222" stroke-width="0.67"/>
<ellipse cx="441.91" cy="445.89" rx="1.15" ry="0.85" fill="#fff" stroke="#222" stroke-width="0.9"/>
<ellipse cx="441.91" cy="445.89" rx="0.4" ry="0.3" fill="#333" stroke="#222" stroke-width="0.4"/>
<rect x="444.22" y="444.67" width="2" height="3.6" fill="#fff" stroke="#222" stroke-width="0.67"/>
<ellipse cx="445.22" cy="444.47" rx="1.15" ry="0.85" fill="#fff" stroke="#222" stroke-width="0.9"/>
<ellipse cx="445.22" cy="444.47" rx="0.4" ry="0.3" fill="#333" stroke="#222" stroke-width="0.4"/>
<rect x="447.53" y="443.24" width="2" height="3.6" fill="#fff" stroke="#222" stroke-width="0.67"/>
<ellipse cx="448.53" cy="443.04" rx="1.15" ry="0.85" fill="#fff" stroke="#222" stroke-width="0.9"/>
<ellipse cx="448.53" cy="443.04" rx="0.4" ry="0.3" fill="#333" stroke="#222" stroke-width="0.4"/>
<rect x="450.84" y="441.81" width="2" height="3.6" fill="#fff" stroke="#222" stroke-width="0.67"/>
<ellipse cx="451.84" cy="441.61" rx="1.15" ry="0.85" fill="#fff" stroke="#222" stroke-width="0.9"/>
<ellipse cx="451.84" cy="441.61" rx="0.4" ry="0.3" fill="#333" stroke="#222" stroke-width="0.4"/>
<rect x="454.15" y="440.39" width="2" height="3.6" fill="#fff" stroke="#222" stroke-width="0.67"/>
<ellipse cx="455.15" cy="440.19" rx="1.15" ry="0.85" fill="#fff" stroke="#222" stroke-width="0.9"/>
<ellipse cx="455.15" cy="440.19" rx="0.4" ry="0.3" fill="#333" stroke="#222" stroke-width="0.4"/>
<rect x="457.46" y="438.96" width="2" height="3.6" fill="#fff" stroke="#222" stroke-width="0.67"/>
<ellipse cx="458.46" cy="438.76" rx="1.15" ry="0.85" fill="#fff" stroke="#222" stroke-width="0.9"/>
<ellipse cx="458.46" cy="438.76" rx="0.4" ry="0.3" fill="#333" stroke="#222" stroke-width="0.4"/>
<rect x="460.78" y="437.53" width="2" height="3.6" fill="#fff" stroke="#222" stroke-width="0.67"/>
<ellipse cx="461.78" cy="437.33" rx="1.15" ry="0.85" fill="#fff" stroke="#222" stroke-width="0.9"/>
<ellipse cx="461.78" cy="437.33" rx="0.4" ry="0.3" fill="#333" stroke="#222" stroke-width="0.4"/>
<rect x="464.09" y="436.11" width="2" height="3.6" fill="#fff" stroke="#222" stroke-width="0.67"/>
<ellipse cx="465.09" cy="435.91" rx="1.15" ry="0.85" fill="#fff" stroke="#222" stroke-width="0.9"/>
<ellipse cx="465.09" cy="435.91" rx="0.4" ry="0.3" fill="#333" stroke="#222" stroke-width="0.4"/>
<rect x="467.4" y="434.68" width="2" height="3.6" fill="#fff" stroke="#222" stroke-width="0.67"/>
<ellipse cx="468.4" cy="434.48" rx="1.15" ry="0.85" fill="#fff" stroke="#222" stroke-width="0.9"/>
<ellipse cx="468.4" cy="434.48" rx="0.4" ry="0.3" fill="#333" stroke="#222" stroke-width="0.4"/>
<polygon points="477.9,473.2 493.9,479.1 508.11,472.98 492.11,467.08" fill="#fff" stroke="#222" stroke-width="1.01"/>
<polygon points="493.9,479.1 508.11,472.98 508.11,478.38 493.3,484.5" fill="#fff" stroke="#222" stroke-width="1.01"/>
<path d="M494.38,484.28 a1.4,1.6 0 0 1 2.6,-1.1" fill="#fff" stroke="#222" stroke-width="0.78"/>
<path d="M497.93,482.75 a1.4,1.6 0 0 1 2.6,-1.1" fill="#fff" stroke="#222" stroke-width="0.78"/>
<path d="M501.48,481.22 a1.4,1.6 0 0 1 2.6,-1.1" fill="#fff" stroke="#222" stroke-width="0.78"/>
<path d="M505.04,479.69 a1.4,1.6 0 0 1 2.6,-1.1" fill="#fff" stroke="#222" stroke-width="0.78"/>
<polygon points="477.9,473.2 493.9,479.1 493.3,484.5 477.9,478.6" fill="#fff" stroke="#222" stroke-width="1.01"/>
<text x="485.5" y="479.9" font-size="3.6" text-anchor="middle" font-weight="bold" fill="#222" transform="rotate(20 485.5 478.6)">M6+</text>
<rect x="483.51" y="470.33" width="2" height="3.6" fill="#fff" stroke="#222" stroke-width="0.67"/>
<ellipse cx="484.51" cy="470.13" rx="1.15" ry="0.85" fill="#fff" stroke="#222" stroke-width="0.9"/>
<ellipse cx="484.51" cy="470.13" rx="0.4" ry="0.3" fill="#333" stroke="#222" stroke-width="0.4"/>
<rect x="487.07" y="468.8" width="2" height="3.6" fill="#fff" stroke="#222" stroke-width="0.67"/>
<ellipse cx="488.07" cy="468.6" rx="1.15" ry="0.85" fill="#fff" stroke="#222" stroke-width="0.9"/>
<ellipse cx="488.07" cy="468.6" rx="0.4" ry="0.3" fill="#333" stroke="#222" stroke-width="0.4"/>
<rect x="490.62" y="467.27" width="2" height="3.6" fill="#fff" stroke="#222" stroke-width="0.67"/>
<ellipse cx="491.62" cy="467.07" rx="1.15" ry="0.85" fill="#fff" stroke="#222" stroke-width="0.9"/>
<ellipse cx="491.62" cy="467.07" rx="0.4" ry="0.3" fill="#333" stroke="#222" stroke-width="0.4"/>
<rect x="494.17" y="465.74" width="2" height="3.6" fill="#fff" stroke="#222" stroke-width="0.67"/>
<ellipse cx="495.17" cy="465.54" rx="1.15" ry="0.85" fill="#fff" stroke="#222" stroke-width="0.9"/>
<ellipse cx="495.17" cy="465.54" rx="0.4" ry="0.3" fill="#333" stroke="#222" stroke-width="0.4"/>
<rect x="490.55" y="472.93" width="2" height="3.6" fill="#fff" stroke="#222" stroke-width="0.67"/>
<ellipse cx="491.55" cy="472.73" rx="1.15" ry="0.85" fill="#fff" stroke="#222" stroke-width="0.9"/>
<ellipse cx="491.55" cy="472.73" rx="0.4" ry="0.3" fill="#333" stroke="#222" stroke-width="0.4"/>
<rect x="494.11" y="471.4" width="2" height="3.6" fill="#fff" stroke="#222" stroke-width="0.67"/>
<ellipse cx="495.11" cy="471.2" rx="1.15" ry="0.85" fill="#fff" stroke="#222" stroke-width="0.9"/>
<ellipse cx="495.11" cy="471.2" rx="0.4" ry="0.3" fill="#333" stroke="#222" stroke-width="0.4"/>
<rect x="497.66" y="469.87" width="2" height="3.6" fill="#fff" stroke="#222" stroke-width="0.67"/>
<ellipse cx="498.66" cy="469.67" rx="1.15" ry="0.85" fill="#fff" stroke="#222" stroke-width="0.9"/>
<ellipse cx="498.66" cy="469.67" rx="0.4" ry="0.3" fill="#333" stroke="#222" stroke-width="0.4"/>
<rect x="501.21" y="468.34" width="2" height="3.6" fill="#fff" stroke="#222" stroke-width="0.67"/>
<ellipse cx="502.21" cy="468.14" rx="1.15" ry="0.85" fill="#fff" stroke="#222" stroke-width="0.9"/>
<ellipse cx="502.21" cy="468.14" rx="0.4" ry="0.3" fill="#333" stroke="#222" stroke-width="0.4"/>
<polygon points="150.4,343.5 430.6,459.5 429.8,515.5 151.2,400.6" fill="#fff" stroke="#222" stroke-width="1.01"/>
<line x1="150.4" y1="344.5" x2="430.6" y2="460.5" stroke="#222" stroke-width="2.4"/>
<line x1="151.4" y1="344.8" x2="429.6" y2="460.2" stroke="#bbb" stroke-width="0.78"/>
<polygon points="430.6,459.5 439.5,473.7 439.5,505.8 429.8,515.5" fill="#fff" stroke="#222" stroke-width="0.9"/>
<line x1="434.6" y1="466.5" x2="434.2" y2="511.4" stroke="#222" stroke-width="0.67"/>
<ellipse cx="437" cy="483" rx="0.6" ry="0.6" fill="#222" stroke="#222" stroke-width="0.56"/>
<ellipse cx="437" cy="493" rx="0.6" ry="0.6" fill="#222" stroke="#222" stroke-width="0.56"/>
<polygon points="151.2,400.6 147,404 427,520.2 429.8,515.5" fill="#fff" stroke="#222" stroke-width="0.9"/>
<line x1="147" y1="404" x2="147.6" y2="406.4" stroke="#222" stroke-width="0.78"/>
<line x1="147.6" y1="406.4" x2="427.4" y2="522.6" stroke="#222" stroke-width="0.9"/>
<line x1="427.4" y1="522.6" x2="432.4" y2="517" stroke="#222" stroke-width="0.78"/>
<line x1="432.4" y1="517" x2="439.5" y2="505.8" stroke="#222" stroke-width="0.78"/>
<line x1="155.9" y1="362.5" x2="155.9" y2="392" stroke="#222" stroke-width="0.78"/>
<rect x="151.6" y="362" width="2.4" height="8" fill="none" stroke="#222" stroke-width="0.56"/>
<rect x="151.6" y="376" width="2.4" height="8" fill="none" stroke="#222" stroke-width="0.56"/>
<line x1="150.4" y1="359.3" x2="430.6" y2="475.3" stroke="#222" stroke-width="1.12"/>
<line x1="151.2" y1="393.5" x2="272" y2="443.4" stroke="#222" stroke-width="0.9"/>
<line x1="152" y1="397.6" x2="300" y2="458.9" stroke="#222" stroke-width="0"/>
<polygon points="162.5,366.3 172.1,370.3 172.1,378.9 162.5,374.9" fill="#fff" stroke="#222" stroke-width="0.9"/>
<ellipse cx="167.1" cy="372.3" rx="0.8" ry="0.9" fill="#222" stroke="#222" stroke-width="0.56"/>
<polyline points="162.5,374.9 162.5,392.3 173.7,396.9 173.7,379.5" fill="none" stroke="#222" stroke-width="0.9"/>
<polygon points="183,374.9 192.6,378.9 192.6,387.5 183,383.5" fill="#fff" stroke="#222" stroke-width="0.9"/>
<ellipse cx="187.6" cy="380.9" rx="0.8" ry="0.9" fill="#222" stroke="#222" stroke-width="0.56"/>
<polyline points="183,383.5 183,400.9 194.2,405.5 194.2,388.1" fill="none" stroke="#222" stroke-width="0.9"/>
<polygon points="203.5,383.5 213.1,387.5 213.1,396.1 203.5,392.1" fill="#fff" stroke="#222" stroke-width="0.9"/>
<ellipse cx="208.1" cy="389.5" rx="0.8" ry="0.9" fill="#222" stroke="#222" stroke-width="0.56"/>
<polyline points="203.5,392.1 203.5,409.5 214.7,414.1 214.7,396.7" fill="none" stroke="#222" stroke-width="0.9"/>
<polygon points="224,392.1 233.6,396.1 233.6,404.7 224,400.7" fill="#fff" stroke="#222" stroke-width="0.9"/>
<ellipse cx="228.6" cy="398.1" rx="0.8" ry="0.9" fill="#222" stroke="#222" stroke-width="0.56"/>
<polyline points="224,400.7 224,418.1 235.2,422.7 235.2,405.3" fill="none" stroke="#222" stroke-width="0.9"/>
<polygon points="244.5,400.7 254.1,404.7 254.1,413.3 244.5,409.3" fill="#fff" stroke="#222" stroke-width="0.9"/>
<ellipse cx="249.1" cy="406.7" rx="0.8" ry="0.9" fill="#222" stroke="#222" stroke-width="0.56"/>
<polyline points="244.5,409.3 244.5,426.7 255.7,431.3 255.7,413.9" fill="none" stroke="#222" stroke-width="0.9"/>
<polygon points="265,409.3 274.6,413.3 274.6,421.9 265,417.9" fill="#fff" stroke="#222" stroke-width="0.9"/>
<ellipse cx="269.6" cy="415.3" rx="0.8" ry="0.9" fill="#222" stroke="#222" stroke-width="0.56"/>
<polyline points="265,417.9 265,435.3 276.2,439.9 276.2,422.5" fill="none" stroke="#222" stroke-width="0.9"/>
<polyline points="286.8,421.6 305.4,428.5 305.4,455" fill="none" stroke="#222" stroke-width="0.78"/>
<polyline points="286.8,421.6 286.8,432" fill="none" stroke="#222" stroke-width="0.78"/>
<path d="M325.5,431.5 l0,3.2 a2.7,3.2 0 0 0 5.4,2.2 l0,-3.2" fill="#fff" stroke="#222" stroke-width="1.01"/>
<path d="M351.7,442.3 l0,3.2 a2.7,3.2 0 0 0 5.4,2.2 l0,-3.2" fill="#fff" stroke="#222" stroke-width="1.01"/>
<path d="M387.3,457.8 l0,3.2 a2.7,3.2 0 0 0 5.4,2.2 l0,-3.2" fill="#fff" stroke="#222" stroke-width="1.01"/>
<path d="M413.6,468.6 l0,3.2 a2.7,3.2 0 0 0 5.4,2.2 l0,-3.2" fill="#fff" stroke="#222" stroke-width="1.01"/>
<ellipse cx="319.7" cy="444" rx="2.2" ry="2.9" fill="#fff" stroke="#222" stroke-width="0.9"/>
<ellipse cx="319.7" cy="438.8" rx="0.55" ry="0.55" fill="#222" stroke="#222" stroke-width="0.56"/>
<ellipse cx="319.7" cy="449.2" rx="0.55" ry="0.55" fill="#222" stroke="#222" stroke-width="0.56"/>
<ellipse cx="315.3" cy="442.4" rx="0.55" ry="0.55" fill="#222" stroke="#222" stroke-width="0.56"/>
<ellipse cx="324.1" cy="445.6" rx="0.55" ry="0.55" fill="#222" stroke="#222" stroke-width="0.56"/>
<ellipse cx="346" cy="454.4" rx="2.2" ry="2.9" fill="#fff" stroke="#222" stroke-width="0.9"/>
<ellipse cx="346" cy="449.2" rx="0.55" ry="0.55" fill="#222" stroke="#222" stroke-width="0.56"/>
<ellipse cx="346" cy="459.6" rx="0.55" ry="0.55" fill="#222" stroke="#222" stroke-width="0.56"/>
<ellipse cx="341.6" cy="452.8" rx="0.55" ry="0.55" fill="#222" stroke="#222" stroke-width="0.56"/>
<ellipse cx="350.4" cy="456" rx="0.55" ry="0.55" fill="#222" stroke="#222" stroke-width="0.56"/>
<ellipse cx="371.1" cy="465.2" rx="2.2" ry="2.9" fill="#fff" stroke="#222" stroke-width="0.9"/>
<ellipse cx="371.1" cy="460" rx="0.55" ry="0.55" fill="#222" stroke="#222" stroke-width="0.56"/>
<ellipse cx="371.1" cy="470.4" rx="0.55" ry="0.55" fill="#222" stroke="#222" stroke-width="0.56"/>
<ellipse cx="366.7" cy="463.6" rx="0.55" ry="0.55" fill="#222" stroke="#222" stroke-width="0.56"/>
<ellipse cx="375.5" cy="466.8" rx="0.55" ry="0.55" fill="#222" stroke="#222" stroke-width="0.56"/>
<ellipse cx="397" cy="475.7" rx="2.2" ry="2.9" fill="#fff" stroke="#222" stroke-width="0.9"/>
<ellipse cx="397" cy="470.5" rx="0.55" ry="0.55" fill="#222" stroke="#222" stroke-width="0.56"/>
<ellipse cx="397" cy="480.9" rx="0.55" ry="0.55" fill="#222" stroke="#222" stroke-width="0.56"/>
<ellipse cx="392.6" cy="474.1" rx="0.55" ry="0.55" fill="#222" stroke="#222" stroke-width="0.56"/>
<ellipse cx="401.4" cy="477.3" rx="0.55" ry="0.55" fill="#222" stroke="#222" stroke-width="0.56"/>
<ellipse cx="423.2" cy="486.5" rx="2.2" ry="2.9" fill="#fff" stroke="#222" stroke-width="0.9"/>
<ellipse cx="423.2" cy="481.3" rx="0.55" ry="0.55" fill="#222" stroke="#222" stroke-width="0.56"/>
<ellipse cx="423.2" cy="491.7" rx="0.55" ry="0.55" fill="#222" stroke="#222" stroke-width="0.56"/>
<ellipse cx="418.8" cy="484.9" rx="0.55" ry="0.55" fill="#222" stroke="#222" stroke-width="0.56"/>
<ellipse cx="427.6" cy="488.1" rx="0.55" ry="0.55" fill="#222" stroke="#222" stroke-width="0.56"/>
<ellipse cx="288" cy="458.5" rx="0.6" ry="0.6" fill="#222" stroke="#222" stroke-width="0.56"/>
<ellipse cx="331" cy="478.6" rx="0.6" ry="0.6" fill="#222" stroke="#222" stroke-width="0.56"/>
<line x1="300" y1="446.5" x2="429.5" y2="500.4" stroke="#222" stroke-width="0.78"/>
<line x1="300" y1="450" x2="429.5" y2="504" stroke="#222" stroke-width="0"/>
<polygon points="271.4,429.7 277.2,426.6 297.7,434.3 297.7,455.6 292.6,459.4 271.4,451.7" fill="#fff" stroke="#222" stroke-width="1.01"/>
<polyline points="271.4,429.7 292.6,437.4 297.7,434.3" fill="none" stroke="#222" stroke-width="0.9"/>
<line x1="292.6" y1="437.4" x2="292.6" y2="459.4" stroke="#222" stroke-width="0.9"/>
<polygon points="274,433.4 289.6,439 289.6,445 274,439.4" fill="#fff" stroke="#222" stroke-width="0.9"/>
<rect x="275.4" y="435.6" width="2.2" height="3.2" fill="#333" stroke="#222" stroke-width="0.56"/>
<rect x="278.9" y="436.86" width="2.2" height="3.2" fill="#333" stroke="#222" stroke-width="0.56"/>
<rect x="282.4" y="438.12" width="2.2" height="3.2" fill="#333" stroke="#222" stroke-width="0.56"/>
<rect x="285.9" y="439.38" width="2.2" height="3.2" fill="#333" stroke="#222" stroke-width="0.56"/>
<ellipse cx="275.2" cy="443.6" rx="1.1" ry="0.9" fill="#333" stroke="#222" stroke-width="0.67"/>
<ellipse cx="278.2" cy="444.7" rx="1.1" ry="0.9" fill="#333" stroke="#222" stroke-width="0.67"/>
<ellipse cx="281.2" cy="445.8" rx="1.1" ry="0.9" fill="#333" stroke="#222" stroke-width="0.67"/>
<ellipse cx="284.2" cy="446.9" rx="1.1" ry="0.9" fill="#333" stroke="#222" stroke-width="0.67"/>
<ellipse cx="287.2" cy="448" rx="1.1" ry="0.9" fill="#333" stroke="#222" stroke-width="0.67"/>
<ellipse cx="275.2" cy="447.6" rx="1.1" ry="0.9" fill="#fff" stroke="#222" stroke-width="0.67"/>
<ellipse cx="278.2" cy="448.7" rx="1.1" ry="0.9" fill="#fff" stroke="#222" stroke-width="0.67"/>
<ellipse cx="281.2" cy="449.8" rx="1.1" ry="0.9" fill="#fff" stroke="#222" stroke-width="0.67"/>
<ellipse cx="284.2" cy="450.9" rx="1.1" ry="0.9" fill="#fff" stroke="#222" stroke-width="0.67"/>
<ellipse cx="287.2" cy="452" rx="1.1" ry="0.9" fill="#fff" stroke="#222" stroke-width="0.67"/>
<path d="M96.4,376.5 Q97,388 104,391.5 Q110,394 114,399" fill="none" stroke="#222" stroke-width="1.79"/>
<path d="M96.4,376.5 Q97,388 104,391.5 Q110,394 114,399" fill="none" stroke="#fff" stroke-width="0.56"/>
<path d="M100.4,369.5 Q101,380 104,391" fill="none" stroke="#222" stroke-width="1.01"/>
<polygon points="90.6,370 93,368.8 94.6,373 92.2,374.4" fill="#fff" stroke="#222" stroke-width="0.9"/>
<polygon points="98.6,363.6 101,362.4 102.4,367 100,368.2" fill="#fff" stroke="#222" stroke-width="0.9"/>
<path d="M123.8,401.2 q5,-3.4 10.5,7.9" fill="none" stroke="#222" stroke-width="1.68"/>
<path d="M123.8,401.2 q5,-3.4 10.5,7.9" fill="none" stroke="#fff" stroke-width="0.56"/>
<path d="M141.3,408.6 q5,-3.4 9.7,7.9" fill="none" stroke="#222" stroke-width="1.68"/>
<path d="M141.3,408.6 q5,-3.4 9.7,7.9" fill="none" stroke="#fff" stroke-width="0.56"/>
<path d="M158,416 q5,-3.4 10,7.1" fill="none" stroke="#222" stroke-width="1.68"/>
<path d="M158,416 q5,-3.4 10,7.1" fill="none" stroke="#fff" stroke-width="0.56"/>
<path d="M175,422.6 q5,-3.4 9.6,7.1" fill="none" stroke="#222" stroke-width="1.68"/>
<path d="M175,422.6 q5,-3.4 9.6,7.1" fill="none" stroke="#fff" stroke-width="0.56"/>
<path d="M191.6,429.2 q5,-3.4 9.4,7.5" fill="none" stroke="#222" stroke-width="1.68"/>
<path d="M191.6,429.2 q5,-3.4 9.4,7.5" fill="none" stroke="#fff" stroke-width="0.56"/>
<polygon points="113.2,401.4 117.8,399 125.4,402 125.4,406.4 120.8,408.6 113.2,405.8" fill="#fff" stroke="#111" stroke-width="1.34"/>
<polyline points="113.8,401.6 120.8,404.2 124.8,402.2" fill="none" stroke="#222" stroke-width="0.9"/>
<line x1="120.8" y1="404.2" x2="120.8" y2="408.2" stroke="#222" stroke-width="0.9"/>
<polygon points="115.2,403.6 119.4,405.2 119.4,406.6 115.2,405" fill="#222" stroke="#222" stroke-width="0.56"/>
<line x1="115.2" y1="406" x2="115.2" y2="411.8" stroke="#111" stroke-width="1.79"/>
<line x1="118" y1="407.1" x2="118" y2="412.9" stroke="#111" stroke-width="1.79"/>
<line x1="121.4" y1="407.8" x2="121.4" y2="413.6" stroke="#111" stroke-width="1.79"/>
<line x1="123.6" y1="406.6" x2="123.6" y2="412.4" stroke="#111" stroke-width="1.79"/>
<line x1="115.2" y1="409.2" x2="118" y2="410.3" stroke="#1a1a1a" stroke-width="1.12"/>
<line x1="121.4" y1="411" x2="123.6" y2="409.8" stroke="#1a1a1a" stroke-width="1.12"/>
<polygon points="130.7,408.8 135.3,406.4 142.9,409.4 142.9,413.8 138.3,416 130.7,413.2" fill="#fff" stroke="#111" stroke-width="1.34"/>
<polyline points="131.3,409 138.3,411.6 142.3,409.6" fill="none" stroke="#222" stroke-width="0.9"/>
<line x1="138.3" y1="411.6" x2="138.3" y2="415.6" stroke="#222" stroke-width="0.9"/>
<polygon points="132.7,411 136.9,412.6 136.9,414 132.7,412.4" fill="#222" stroke="#222" stroke-width="0.56"/>
<line x1="132.7" y1="413.4" x2="132.7" y2="419.2" stroke="#111" stroke-width="1.79"/>
<line x1="135.5" y1="414.5" x2="135.5" y2="420.3" stroke="#111" stroke-width="1.79"/>
<line x1="138.9" y1="415.2" x2="138.9" y2="421" stroke="#111" stroke-width="1.79"/>
<line x1="141.1" y1="414" x2="141.1" y2="419.8" stroke="#111" stroke-width="1.79"/>
<line x1="132.7" y1="416.6" x2="135.5" y2="417.7" stroke="#1a1a1a" stroke-width="1.12"/>
<line x1="138.9" y1="418.4" x2="141.1" y2="417.2" stroke="#1a1a1a" stroke-width="1.12"/>
<polygon points="147.4,416.2 152,413.8 159.6,416.8 159.6,421.2 155,423.4 147.4,420.6" fill="#fff" stroke="#111" stroke-width="1.34"/>
<polyline points="148,416.4 155,419 159,417" fill="none" stroke="#222" stroke-width="0.9"/>
<line x1="155" y1="419" x2="155" y2="423" stroke="#222" stroke-width="0.9"/>
<polygon points="149.4,418.4 153.6,420 153.6,421.4 149.4,419.8" fill="#222" stroke="#222" stroke-width="0.56"/>
<line x1="149.4" y1="420.8" x2="149.4" y2="426.6" stroke="#111" stroke-width="1.79"/>
<line x1="152.2" y1="421.9" x2="152.2" y2="427.7" stroke="#111" stroke-width="1.79"/>
<line x1="155.6" y1="422.6" x2="155.6" y2="428.4" stroke="#111" stroke-width="1.79"/>
<line x1="157.8" y1="421.4" x2="157.8" y2="427.2" stroke="#111" stroke-width="1.79"/>
<line x1="149.4" y1="424" x2="152.2" y2="425.1" stroke="#1a1a1a" stroke-width="1.12"/>
<line x1="155.6" y1="425.8" x2="157.8" y2="424.6" stroke="#1a1a1a" stroke-width="1.12"/>
<polygon points="164.4,422.8 169,420.4 176.6,423.4 176.6,427.8 172,430 164.4,427.2" fill="#fff" stroke="#111" stroke-width="1.34"/>
<polyline points="165,423 172,425.6 176,423.6" fill="none" stroke="#222" stroke-width="0.9"/>
<line x1="172" y1="425.6" x2="172" y2="429.6" stroke="#222" stroke-width="0.9"/>
<polygon points="166.4,425 170.6,426.6 170.6,428 166.4,426.4" fill="#222" stroke="#222" stroke-width="0.56"/>
<line x1="166.4" y1="427.4" x2="166.4" y2="433.2" stroke="#111" stroke-width="1.79"/>
<line x1="169.2" y1="428.5" x2="169.2" y2="434.3" stroke="#111" stroke-width="1.79"/>
<line x1="172.6" y1="429.2" x2="172.6" y2="435" stroke="#111" stroke-width="1.79"/>
<line x1="174.8" y1="428" x2="174.8" y2="433.8" stroke="#111" stroke-width="1.79"/>
<line x1="166.4" y1="430.6" x2="169.2" y2="431.7" stroke="#1a1a1a" stroke-width="1.12"/>
<line x1="172.6" y1="432.4" x2="174.8" y2="431.2" stroke="#1a1a1a" stroke-width="1.12"/>
<polygon points="181,429.4 185.6,427 193.2,430 193.2,434.4 188.6,436.6 181,433.8" fill="#fff" stroke="#111" stroke-width="1.34"/>
<polyline points="181.6,429.6 188.6,432.2 192.6,430.2" fill="none" stroke="#222" stroke-width="0.9"/>
<line x1="188.6" y1="432.2" x2="188.6" y2="436.2" stroke="#222" stroke-width="0.9"/>
<polygon points="183,431.6 187.2,433.2 187.2,434.6 183,433" fill="#222" stroke="#222" stroke-width="0.56"/>
<line x1="183" y1="434" x2="183" y2="439.8" stroke="#111" stroke-width="1.79"/>
<line x1="185.8" y1="435.1" x2="185.8" y2="440.9" stroke="#111" stroke-width="1.79"/>
<line x1="189.2" y1="435.8" x2="189.2" y2="441.6" stroke="#111" stroke-width="1.79"/>
<line x1="191.4" y1="434.6" x2="191.4" y2="440.4" stroke="#111" stroke-width="1.79"/>
<line x1="183" y1="437.2" x2="185.8" y2="438.3" stroke="#1a1a1a" stroke-width="1.12"/>
<line x1="189.2" y1="439" x2="191.4" y2="437.8" stroke="#1a1a1a" stroke-width="1.12"/>
<polygon points="197.4,436.4 202,434 209.6,437 209.6,441.4 205,443.6 197.4,440.8" fill="#fff" stroke="#111" stroke-width="1.34"/>
<polyline points="198,436.6 205,439.2 209,437.2" fill="none" stroke="#222" stroke-width="0.9"/>
<line x1="205" y1="439.2" x2="205" y2="443.2" stroke="#222" stroke-width="0.9"/>
<polygon points="199.4,438.6 203.6,440.2 203.6,441.6 199.4,440" fill="#222" stroke="#222" stroke-width="0.56"/>
<line x1="199.4" y1="441" x2="199.4" y2="446.8" stroke="#111" stroke-width="1.79"/>
<line x1="202.2" y1="442.1" x2="202.2" y2="447.9" stroke="#111" stroke-width="1.79"/>
<line x1="205.6" y1="442.8" x2="205.6" y2="448.6" stroke="#111" stroke-width="1.79"/>
<line x1="207.8" y1="441.6" x2="207.8" y2="447.4" stroke="#111" stroke-width="1.79"/>
<line x1="199.4" y1="444.2" x2="202.2" y2="445.3" stroke="#1a1a1a" stroke-width="1.12"/>
<line x1="205.6" y1="446" x2="207.8" y2="444.8" stroke="#1a1a1a" stroke-width="1.12"/>
<polygon points="53.1,401.2 338,517 340.4,549 52.2,431.6" fill="#fff" stroke="#222" stroke-width="0"/>
<line x1="53.5" y1="403.7" x2="338" y2="519.5" stroke="#bbb" stroke-width="2"/>
<line x1="53.5" y1="401.2" x2="338" y2="517" stroke="#222" stroke-width="1.01"/>
<line x1="53.5" y1="402.7" x2="338" y2="518.5" stroke="#222" stroke-width="0.67"/>
<line x1="53.5" y1="404.7" x2="338" y2="520.5" stroke="#222" stroke-width="0.9"/>
<line x1="53.5" y1="406.8" x2="338" y2="522.6" stroke="#222" stroke-width="0.78"/>
<line x1="53.1" y1="401.2" x2="52.2" y2="433" stroke="#222" stroke-width="1.01"/>
<line x1="57" y1="404.6" x2="56.4" y2="409" stroke="#222" stroke-width="0.67"/>
<polygon points="338,517 340.6,518.6 340.6,549.6 336,552.6 333,551.2 336,549 336,521.6" fill="#fff" stroke="#222" stroke-width="0.9"/>
<line x1="336" y1="521.6" x2="338" y2="517" stroke="#222" stroke-width="0.78"/>
<line x1="209" y1="497.6" x2="333" y2="550.2" stroke="#222" stroke-width="0.9" stroke-dasharray="7 1.6 1.4 1.6"/>
<line x1="215" y1="496.4" x2="336" y2="546.6" stroke="#222" stroke-width="0.67" stroke-dasharray="6 2"/>
<line x1="52.2" y1="432.6" x2="210" y2="497" stroke="#222" stroke-width="0.67" stroke-dasharray="7 1.6 1.4 1.6"/>
<line x1="213" y1="499.8" x2="333" y2="550.6" stroke="#222" stroke-width="0"/>
<ellipse cx="70.9" cy="424.7" rx="2.4" ry="3" fill="#fff" stroke="#222" stroke-width="1.01" transform="rotate(-20 70.9 424.7)"/>
<ellipse cx="90.6" cy="433" rx="2.4" ry="3" fill="#fff" stroke="#222" stroke-width="1.01" transform="rotate(-20 90.6 433)"/>
<ellipse cx="110.3" cy="441.3" rx="2.4" ry="3" fill="#fff" stroke="#222" stroke-width="1.01" transform="rotate(-20 110.3 441.3)"/>
<ellipse cx="130" cy="449.6" rx="2.4" ry="3" fill="#fff" stroke="#222" stroke-width="1.01" transform="rotate(-20 130 449.6)"/>
<ellipse cx="149.7" cy="457.9" rx="2.4" ry="3" fill="#fff" stroke="#222" stroke-width="1.01" transform="rotate(-20 149.7 457.9)"/>
<ellipse cx="169.4" cy="466.2" rx="2.4" ry="3" fill="#fff" stroke="#222" stroke-width="1.01" transform="rotate(-20 169.4 466.2)"/>
<ellipse cx="169.4" cy="467.2" rx="2.4" ry="3" fill="#fff" stroke="#222" stroke-width="1.01" transform="rotate(-20 169.4 467.2)"/>
<ellipse cx="61.2" cy="428.8" rx="3.6" ry="5" fill="#fff" stroke="#222" stroke-width="1.01"/>
<ellipse cx="59.4" cy="429.6" rx="4.2" ry="5.4" fill="#fff" stroke="#222" stroke-width="1.01"/>
<ellipse cx="57.6" cy="430.4" rx="3.4" ry="4.4" fill="#fff" stroke="#222" stroke-width="0.9"/>
<path d="M54.2,431 L54.4,422.2 a1.3,1.3 0 0 1 2.6,0 L57.2,431.2 z" fill="#fff" stroke="#222" stroke-width="1.01"/>
<ellipse cx="54.8" cy="432.4" rx="2.3" ry="2.5" fill="#777" stroke="#1a1a1a" stroke-width="1.46"/>
<ellipse cx="54.8" cy="432.4" rx="0.9" ry="1" fill="#fff" stroke="#222" stroke-width="0.67"/>
<ellipse cx="80.9" cy="437.1" rx="3.6" ry="5" fill="#fff" stroke="#222" stroke-width="1.01"/>
<ellipse cx="79.1" cy="437.9" rx="4.2" ry="5.4" fill="#fff" stroke="#222" stroke-width="1.01"/>
<ellipse cx="77.3" cy="438.7" rx="3.4" ry="4.4" fill="#fff" stroke="#222" stroke-width="0.9"/>
<path d="M73.9,439.3 L74.1,430.5 a1.3,1.3 0 0 1 2.6,0 L76.9,439.5 z" fill="#fff" stroke="#222" stroke-width="1.01"/>
<ellipse cx="74.5" cy="440.7" rx="2.3" ry="2.5" fill="#777" stroke="#1a1a1a" stroke-width="1.46"/>
<ellipse cx="74.5" cy="440.7" rx="0.9" ry="1" fill="#fff" stroke="#222" stroke-width="0.67"/>
<ellipse cx="100.6" cy="445.4" rx="3.6" ry="5" fill="#fff" stroke="#222" stroke-width="1.01"/>
<ellipse cx="98.8" cy="446.2" rx="4.2" ry="5.4" fill="#fff" stroke="#222" stroke-width="1.01"/>
<ellipse cx="97" cy="447" rx="3.4" ry="4.4" fill="#fff" stroke="#222" stroke-width="0.9"/>
<path d="M93.6,447.6 L93.8,438.8 a1.3,1.3 0 0 1 2.6,0 L96.6,447.8 z" fill="#fff" stroke="#222" stroke-width="1.01"/>
<ellipse cx="94.2" cy="449" rx="2.3" ry="2.5" fill="#777" stroke="#1a1a1a" stroke-width="1.46"/>
<ellipse cx="94.2" cy="449" rx="0.9" ry="1" fill="#fff" stroke="#222" stroke-width="0.67"/>
<ellipse cx="120.3" cy="453.7" rx="3.6" ry="5" fill="#fff" stroke="#222" stroke-width="1.01"/>
<ellipse cx="118.5" cy="454.5" rx="4.2" ry="5.4" fill="#fff" stroke="#222" stroke-width="1.01"/>
<ellipse cx="116.7" cy="455.3" rx="3.4" ry="4.4" fill="#fff" stroke="#222" stroke-width="0.9"/>
<path d="M113.3,455.9 L113.5,447.1 a1.3,1.3 0 0 1 2.6,0 L116.3,456.1 z" fill="#fff" stroke="#222" stroke-width="1.01"/>
<ellipse cx="113.9" cy="457.3" rx="2.3" ry="2.5" fill="#777" stroke="#1a1a1a" stroke-width="1.46"/>
<ellipse cx="113.9" cy="457.3" rx="0.9" ry="1" fill="#fff" stroke="#222" stroke-width="0.67"/>
<ellipse cx="140" cy="462" rx="3.6" ry="5" fill="#fff" stroke="#222" stroke-width="1.01"/>
<ellipse cx="138.2" cy="462.8" rx="4.2" ry="5.4" fill="#fff" stroke="#222" stroke-width="1.01"/>
<ellipse cx="136.4" cy="463.6" rx="3.4" ry="4.4" fill="#fff" stroke="#222" stroke-width="0.9"/>
<path d="M133,464.2 L133.2,455.4 a1.3,1.3 0 0 1 2.6,0 L136,464.4 z" fill="#fff" stroke="#222" stroke-width="1.01"/>
<ellipse cx="133.6" cy="465.6" rx="2.3" ry="2.5" fill="#777" stroke="#1a1a1a" stroke-width="1.46"/>
<ellipse cx="133.6" cy="465.6" rx="0.9" ry="1" fill="#fff" stroke="#222" stroke-width="0.67"/>
<ellipse cx="159.7" cy="470.3" rx="3.6" ry="5" fill="#fff" stroke="#222" stroke-width="1.01"/>
<ellipse cx="157.9" cy="471.1" rx="4.2" ry="5.4" fill="#fff" stroke="#222" stroke-width="1.01"/>
<ellipse cx="156.1" cy="471.9" rx="3.4" ry="4.4" fill="#fff" stroke="#222" stroke-width="0.9"/>
<path d="M152.7,472.5 L152.9,463.7 a1.3,1.3 0 0 1 2.6,0 L155.7,472.7 z" fill="#fff" stroke="#222" stroke-width="1.01"/>
<ellipse cx="153.3" cy="473.9" rx="2.3" ry="2.5" fill="#777" stroke="#1a1a1a" stroke-width="1.46"/>
<ellipse cx="153.3" cy="473.9" rx="0.9" ry="1" fill="#fff" stroke="#222" stroke-width="0.67"/>
<polygon points="193.8,468.6 208.5,476 208.1,481.8 193.8,475" fill="#fff" stroke="#1a1a1a" stroke-width="1.34"/>
<ellipse cx="184.7" cy="485.1" rx="1.35" ry="1.2" fill="#fff" stroke="#222" stroke-width="1.01"/>
<rect x="192.6" y="480.9" width="1.2" height="1.7" fill="#222" stroke="#222" stroke-width="0.3"/>
<ellipse cx="188.1" cy="486.53" rx="1.35" ry="1.2" fill="#fff" stroke="#222" stroke-width="1.01"/>
<rect x="196" y="482.33" width="1.2" height="1.7" fill="#222" stroke="#222" stroke-width="0.3"/>
<ellipse cx="191.5" cy="487.96" rx="1.35" ry="1.2" fill="#fff" stroke="#222" stroke-width="1.01"/>
<rect x="199.4" y="483.76" width="1.2" height="1.7" fill="#222" stroke="#222" stroke-width="0.3"/>
<ellipse cx="194.9" cy="489.39" rx="1.35" ry="1.2" fill="#fff" stroke="#222" stroke-width="1.01"/>
<rect x="202.8" y="485.19" width="1.2" height="1.7" fill="#222" stroke="#222" stroke-width="0.3"/>
<ellipse cx="198.3" cy="490.82" rx="1.35" ry="1.2" fill="#fff" stroke="#222" stroke-width="1.01"/>
<rect x="206.2" y="486.62" width="1.2" height="1.7" fill="#222" stroke="#222" stroke-width="0.3"/>
<line x1="54" y1="436.6" x2="209" y2="500.6" stroke="#222" stroke-width="0.67" stroke-dasharray="6 2"/>
<path d="M272.6,509.6 a2.4,2.8 0 0 0 4.6,1.6" fill="none" stroke="#222" stroke-width="1.01"/>
<ellipse cx="230.6" cy="491.3" rx="2.5" ry="3.2" fill="#fff" stroke="#222" stroke-width="1.01" transform="rotate(-20 230.6 491.3)"/>
<ellipse cx="252.9" cy="500.6" rx="2.5" ry="3.2" fill="#fff" stroke="#222" stroke-width="1.01" transform="rotate(-20 252.9 500.6)"/>
<ellipse cx="295.1" cy="517.6" rx="2.5" ry="3.2" fill="#fff" stroke="#222" stroke-width="1.01" transform="rotate(-20 295.1 517.6)"/>
<ellipse cx="318.3" cy="527" rx="2.5" ry="3.2" fill="#fff" stroke="#222" stroke-width="1.01" transform="rotate(-20 318.3 527)"/>
<ellipse cx="238.5" cy="484.6" rx="0.6" ry="0.6" fill="#222" stroke="#222" stroke-width="0.56"/>
<ellipse cx="260.6" cy="496.6" rx="0.6" ry="0.6" fill="#222" stroke="#222" stroke-width="0.56"/>
<ellipse cx="290" cy="508.6" rx="0.6" ry="0.6" fill="#222" stroke="#222" stroke-width="0.56"/>
<ellipse cx="313" cy="517.2" rx="0.6" ry="0.6" fill="#222" stroke="#222" stroke-width="0.56"/>
<ellipse cx="220" cy="496.3" rx="3.6" ry="5" fill="#fff" stroke="#222" stroke-width="1.01"/>
<ellipse cx="218.2" cy="497.1" rx="4.2" ry="5.4" fill="#fff" stroke="#222" stroke-width="1.01"/>
<ellipse cx="216.4" cy="497.9" rx="3.4" ry="4.4" fill="#fff" stroke="#222" stroke-width="0.9"/>
<path d="M213,498.5 L213.2,489.7 a1.3,1.3 0 0 1 2.6,0 L216,498.7 z" fill="#fff" stroke="#222" stroke-width="1.01"/>
<ellipse cx="213.6" cy="499.9" rx="2.3" ry="2.5" fill="#777" stroke="#1a1a1a" stroke-width="1.46"/>
<ellipse cx="213.6" cy="499.9" rx="0.9" ry="1" fill="#fff" stroke="#222" stroke-width="0.67"/>
<ellipse cx="241.6" cy="504.8" rx="3.6" ry="5" fill="#fff" stroke="#222" stroke-width="1.01"/>
<ellipse cx="239.8" cy="505.6" rx="4.2" ry="5.4" fill="#fff" stroke="#222" stroke-width="1.01"/>
<ellipse cx="238" cy="506.4" rx="3.4" ry="4.4" fill="#fff" stroke="#222" stroke-width="0.9"/>
<path d="M234.6,507 L234.8,498.2 a1.3,1.3 0 0 1 2.6,0 L237.6,507.2 z" fill="#fff" stroke="#222" stroke-width="1.01"/>
<ellipse cx="235.2" cy="508.4" rx="2.3" ry="2.5" fill="#777" stroke="#1a1a1a" stroke-width="1.46"/>
<ellipse cx="235.2" cy="508.4" rx="0.9" ry="1" fill="#fff" stroke="#222" stroke-width="0.67"/>
<ellipse cx="263.8" cy="513.7" rx="3.6" ry="5" fill="#fff" stroke="#222" stroke-width="1.01"/>
<ellipse cx="262" cy="514.5" rx="4.2" ry="5.4" fill="#fff" stroke="#222" stroke-width="1.01"/>
<ellipse cx="260.2" cy="515.3" rx="3.4" ry="4.4" fill="#fff" stroke="#222" stroke-width="0.9"/>
<path d="M256.8,515.9 L257,507.1 a1.3,1.3 0 0 1 2.6,0 L259.8,516.1 z" fill="#fff" stroke="#222" stroke-width="1.01"/>
<ellipse cx="257.4" cy="517.3" rx="2.3" ry="2.5" fill="#777" stroke="#1a1a1a" stroke-width="1.46"/>
<ellipse cx="257.4" cy="517.3" rx="0.9" ry="1" fill="#fff" stroke="#222" stroke-width="0.67"/>
<ellipse cx="284.4" cy="522.1" rx="3.6" ry="5" fill="#fff" stroke="#222" stroke-width="1.01"/>
<ellipse cx="282.6" cy="522.9" rx="4.2" ry="5.4" fill="#fff" stroke="#222" stroke-width="1.01"/>
<ellipse cx="280.8" cy="523.7" rx="3.4" ry="4.4" fill="#fff" stroke="#222" stroke-width="0.9"/>
<path d="M277.4,524.3 L277.6,515.5 a1.3,1.3 0 0 1 2.6,0 L280.4,524.5 z" fill="#fff" stroke="#222" stroke-width="1.01"/>
<ellipse cx="278" cy="525.7" rx="2.3" ry="2.5" fill="#777" stroke="#1a1a1a" stroke-width="1.46"/>
<ellipse cx="278" cy="525.7" rx="0.9" ry="1" fill="#fff" stroke="#222" stroke-width="0.67"/>
<ellipse cx="306.6" cy="532" rx="3.6" ry="5" fill="#fff" stroke="#222" stroke-width="1.01"/>
<ellipse cx="304.8" cy="532.8" rx="4.2" ry="5.4" fill="#fff" stroke="#222" stroke-width="1.01"/>
<ellipse cx="303" cy="533.6" rx="3.4" ry="4.4" fill="#fff" stroke="#222" stroke-width="0.9"/>
<path d="M299.6,534.2 L299.8,525.4 a1.3,1.3 0 0 1 2.6,0 L302.6,534.4 z" fill="#fff" stroke="#222" stroke-width="1.01"/>
<ellipse cx="300.2" cy="535.6" rx="2.3" ry="2.5" fill="#777" stroke="#1a1a1a" stroke-width="1.46"/>
<ellipse cx="300.2" cy="535.6" rx="0.9" ry="1" fill="#fff" stroke="#222" stroke-width="0.67"/>
<g transform="translate(262 473.9) rotate(-20)">
<rect x="-3.2" y="-1.7" width="6.4" height="3.4" fill="#fff" stroke="#222" stroke-width="1.01"/>
<ellipse cx="-3.2" cy="0" rx="0.9" ry="1.7" fill="#fff" stroke="#222" stroke-width="0.9"/>
<ellipse cx="3.2" cy="0" rx="0.9" ry="1.7" fill="#fff" stroke="#222" stroke-width="0.9"/>
</g>
<g transform="translate(283.5 483.3) rotate(-20)">
<rect x="-3.2" y="-1.7" width="6.4" height="3.4" fill="#fff" stroke="#222" stroke-width="1.01"/>
<ellipse cx="-3.2" cy="0" rx="0.9" ry="1.7" fill="#fff" stroke="#222" stroke-width="0.9"/>
<ellipse cx="3.2" cy="0" rx="0.9" ry="1.7" fill="#fff" stroke="#222" stroke-width="0.9"/>
</g>
<g transform="translate(313.8 495.9) rotate(-20)">
<rect x="-3.2" y="-1.7" width="6.4" height="3.4" fill="#fff" stroke="#222" stroke-width="1.01"/>
<ellipse cx="-3.2" cy="0" rx="0.9" ry="1.7" fill="#fff" stroke="#222" stroke-width="0.9"/>
<ellipse cx="3.2" cy="0" rx="0.9" ry="1.7" fill="#fff" stroke="#222" stroke-width="0.9"/>
</g>
<g transform="translate(335.8 505.7) rotate(-20)">
<rect x="-3.2" y="-1.7" width="6.4" height="3.4" fill="#fff" stroke="#222" stroke-width="1.01"/>
<ellipse cx="-3.2" cy="0" rx="0.9" ry="1.7" fill="#fff" stroke="#222" stroke-width="0.9"/>
<ellipse cx="3.2" cy="0" rx="0.9" ry="1.7" fill="#fff" stroke="#222" stroke-width="0.9"/>
</g>
<g transform="translate(271.4 470.6) rotate(-20)">
<polygon points="-3.6,-1.5 2.2,-1.5 4.4,0 2.2,1.5 -3.6,1.5" fill="#777" stroke="#222" stroke-width="1.01"/>
<line x1="-1.6" y1="-1.5" x2="-1.6" y2="1.5" stroke="#fff" stroke-width="0.67"/>
<line x1="0.6" y1="-1.5" x2="0.6" y2="1.5" stroke="#fff" stroke-width="0.67"/>
</g>
<g transform="translate(293 479.8) rotate(-20)">
<polygon points="-3.6,-1.5 2.2,-1.5 4.4,0 2.2,1.5 -3.6,1.5" fill="#777" stroke="#222" stroke-width="1.01"/>
<line x1="-1.6" y1="-1.5" x2="-1.6" y2="1.5" stroke="#fff" stroke-width="0.67"/>
<line x1="0.6" y1="-1.5" x2="0.6" y2="1.5" stroke="#fff" stroke-width="0.67"/>
</g>
<g transform="translate(322.6 492.1) rotate(-20)">
<polygon points="-3.6,-1.5 2.2,-1.5 4.4,0 2.2,1.5 -3.6,1.5" fill="#777" stroke="#222" stroke-width="1.01"/>
<line x1="-1.6" y1="-1.5" x2="-1.6" y2="1.5" stroke="#fff" stroke-width="0.67"/>
<line x1="0.6" y1="-1.5" x2="0.6" y2="1.5" stroke="#fff" stroke-width="0.67"/>
</g>
<g transform="translate(346 502.1) rotate(-20)">
<polygon points="-3.6,-1.5 2.2,-1.5 4.4,0 2.2,1.5 -3.6,1.5" fill="#777" stroke="#222" stroke-width="1.01"/>
<line x1="-1.6" y1="-1.5" x2="-1.6" y2="1.5" stroke="#fff" stroke-width="0.67"/>
<line x1="0.6" y1="-1.5" x2="0.6" y2="1.5" stroke="#fff" stroke-width="0.67"/>
</g>
<polygon points="531.2,117 817.3,236.1 817.3,254.3 532,136.3" fill="#fff" stroke="#222" stroke-width="1.01"/>
<polygon points="531.2,117 542,113.6 827.7,232.3 817.3,236.1" fill="#fff" stroke="#222" stroke-width="1.01"/>
<polygon points="817.3,236.1 827.7,232.3 827.7,250.5 817.3,254.3" fill="#fff" stroke="#222" stroke-width="1.01"/>
<line x1="817.3" y1="239.5" x2="827.7" y2="235.7" stroke="#222" stroke-width="0.78"/>
<line x1="568.8" y1="128.4" x2="793" y2="219.6" stroke="#222" stroke-width="2.8"/>
<line x1="568.8" y1="128.4" x2="793" y2="219.6" stroke="#ccc" stroke-width="1.12"/>
<ellipse cx="606.91" cy="143.9" rx="1.3" ry="0.9" fill="#333" stroke="#222" stroke-width="0.67"/>
<ellipse cx="651.75" cy="162.14" rx="1.3" ry="0.9" fill="#333" stroke="#222" stroke-width="0.67"/>
<ellipse cx="696.59" cy="180.38" rx="1.3" ry="0.9" fill="#333" stroke="#222" stroke-width="0.67"/>
<ellipse cx="741.43" cy="198.62" rx="1.3" ry="0.9" fill="#333" stroke="#222" stroke-width="0.67"/>
<ellipse cx="777.31" cy="213.22" rx="1.3" ry="0.9" fill="#333" stroke="#222" stroke-width="0.67"/>
<line x1="566" y1="129.6" x2="790" y2="222.4" stroke="#222" stroke-width="0.67"/>
<polygon points="757.9,299 780.1,290.3 812,303.2 812,307.6 797.5,313.5 795.6,310.3" fill="#fff" stroke="#222" stroke-width="0.9"/>
<line x1="795.6" y1="310.3" x2="812" y2="303.6" stroke="#222" stroke-width="0.78"/>
<line x1="762" y1="297.6" x2="797" y2="311.8" stroke="#222" stroke-width="0.78"/>
<line x1="766" y1="296" x2="800.5" y2="310.2" stroke="#222" stroke-width="0.67"/>
<polygon points="743.4,301.9 757.9,299 795.6,310.3 797.5,313.5 795,316 781,314.2 781,318 733.8,308.8 736,306.6" fill="#fff" stroke="#222" stroke-width="0.9"/>
<polyline points="743.4,301.9 743.4,309 781,321" fill="none" stroke="#222" stroke-width="0.78"/>
<polyline points="733.8,308.8 781,327.5" fill="none" stroke="#222" stroke-width="0.9"/>
<polygon points="748.3,303.36 748.3,312.86 750.1,313.36 750.1,303.76" fill="#888" stroke="#222" stroke-width="0.9"/>
<polygon points="754.3,305.16 754.3,314.66 756.1,315.16 756.1,305.56" fill="#888" stroke="#222" stroke-width="0.9"/>
<polygon points="761.3,307.26 761.3,316.76 763.1,317.26 763.1,307.66" fill="#888" stroke="#222" stroke-width="0.9"/>
<polygon points="767.7,309.18 767.7,318.68 769.5,319.18 769.5,309.58" fill="#888" stroke="#222" stroke-width="0.9"/>
<polygon points="774.5,311.22 774.5,320.72 776.3,321.22 776.3,311.62" fill="#888" stroke="#222" stroke-width="0.9"/>
<polygon points="781,314 792.7,317.5 792.7,338.5 781,331.8" fill="#fff" stroke="#222" stroke-width="0.9"/>
<ellipse cx="783.6" cy="323" rx="0.6" ry="0.6" fill="#222" stroke="#222" stroke-width="0.56"/>
<ellipse cx="789.3" cy="333" rx="0.6" ry="0.6" fill="#222" stroke="#222" stroke-width="0.56"/>
<polygon points="772.5,324.6 776.5,326 776.5,328 772.5,326.6" fill="none" stroke="#222" stroke-width="0.67"/>
<ellipse cx="745.5" cy="338" rx="3.4" ry="1.4" fill="#888" stroke="#222" stroke-width="1.01"/>
<ellipse cx="745.8" cy="340.8" rx="2.4" ry="1.6" fill="#fff" stroke="#222" stroke-width="0.9"/>
<line x1="741" y1="336.5" x2="750" y2="337.5" stroke="#222" stroke-width="1.01"/>
<ellipse cx="797.8" cy="378.5" rx="3.3" ry="1.8" fill="#fff" stroke="#111" stroke-width="1.68" transform="rotate(-35 797.8 378.5)"/>
<ellipse cx="795.88" cy="383.9" rx="3.3" ry="1.8" fill="#fff" stroke="#111" stroke-width="1.68" transform="rotate(35 795.88 383.9)"/>
<ellipse cx="793.96" cy="389.3" rx="3.3" ry="1.8" fill="#fff" stroke="#111" stroke-width="1.68" transform="rotate(-35 793.96 389.3)"/>
<ellipse cx="792.04" cy="394.7" rx="3.3" ry="1.8" fill="#fff" stroke="#111" stroke-width="1.68" transform="rotate(35 792.04 394.7)"/>
<ellipse cx="790.12" cy="400.1" rx="3.3" ry="1.8" fill="#fff" stroke="#111" stroke-width="1.68" transform="rotate(-35 790.12 400.1)"/>
<ellipse cx="788.2" cy="405.5" rx="3.3" ry="1.8" fill="#fff" stroke="#111" stroke-width="1.68" transform="rotate(35 788.2 405.5)"/>
<ellipse cx="799.5" cy="377.3" rx="3.9" ry="2.1" fill="#fff" stroke="#111" stroke-width="1.79" transform="rotate(-30 799.5 377.3)"/>
<ellipse cx="787.2" cy="406.3" rx="3.9" ry="2.1" fill="#fff" stroke="#111" stroke-width="1.79" transform="rotate(-25 787.2 406.3)"/>
<ellipse cx="814.6" cy="378.5" rx="3.3" ry="1.8" fill="#fff" stroke="#111" stroke-width="1.68" transform="rotate(-35 814.6 378.5)"/>
<ellipse cx="812.68" cy="383.9" rx="3.3" ry="1.8" fill="#fff" stroke="#111" stroke-width="1.68" transform="rotate(35 812.68 383.9)"/>
<ellipse cx="810.76" cy="389.3" rx="3.3" ry="1.8" fill="#fff" stroke="#111" stroke-width="1.68" transform="rotate(-35 810.76 389.3)"/>
<ellipse cx="808.84" cy="394.7" rx="3.3" ry="1.8" fill="#fff" stroke="#111" stroke-width="1.68" transform="rotate(35 808.84 394.7)"/>
<ellipse cx="806.92" cy="400.1" rx="3.3" ry="1.8" fill="#fff" stroke="#111" stroke-width="1.68" transform="rotate(-35 806.92 400.1)"/>
<ellipse cx="805" cy="405.5" rx="3.3" ry="1.8" fill="#fff" stroke="#111" stroke-width="1.68" transform="rotate(35 805 405.5)"/>
<ellipse cx="816.3" cy="377.3" rx="3.9" ry="2.1" fill="#fff" stroke="#111" stroke-width="1.79" transform="rotate(-30 816.3 377.3)"/>
<ellipse cx="804" cy="406.3" rx="3.9" ry="2.1" fill="#fff" stroke="#111" stroke-width="1.79" transform="rotate(-25 804 406.3)"/>
<rect x="37.6" y="26.5" width="804" height="568.6" fill="none" stroke="#222" stroke-width="1.23"/>
<line x1="37.6" y1="557" x2="604" y2="557" stroke="#222" stroke-width="1.01"/>
<line x1="155.5" y1="557" x2="155.5" y2="595" stroke="#222" stroke-width="0.9"/>
<line x1="183.8" y1="557" x2="183.8" y2="595" stroke="#222" stroke-width="0.9"/>
<line x1="292.5" y1="557" x2="292.5" y2="595" stroke="#222" stroke-width="0.9"/>
<line x1="387.7" y1="557" x2="387.7" y2="595" stroke="#222" stroke-width="0.9"/>
<line x1="483.2" y1="557" x2="483.2" y2="595" stroke="#222" stroke-width="0.9"/>
<line x1="604" y1="557" x2="604" y2="595" stroke="#222" stroke-width="1.01"/>
<line x1="155.5" y1="580.8" x2="183.8" y2="580.8" stroke="#222" stroke-width="0.9"/>
<circle cx="44.1" cy="572.9" r="3.9" fill="#111"/>
<circle cx="52.3" cy="572.9" r="3.9" fill="#111"/>
<circle cx="60.4" cy="572.9" r="3.9" fill="#111"/>
<circle cx="52.3" cy="565" r="3.9" fill="#111"/>
<circle cx="60.4" cy="565" r="3.9" fill="#111"/>
<circle cx="68.5" cy="565" r="3.9" fill="#111"/>
<text x="74.2" y="572.7" font-size="20.7" font-weight="bold" fill="#111" stroke="#111" stroke-width="0.7" stroke-linejoin="round" textLength="53.2" lengthAdjust="spacingAndGlyphs">smeg</text>
<text x="133.1" y="573.4" font-size="6.1" font-weight="bold" fill="#222" textLength="15" lengthAdjust="spacingAndGlyphs">S.p.A</text>
<line x1="158.5" y1="568.6" x2="181.5" y2="568.6" stroke="#222" stroke-width="0.4"/>
<polygon points="160,566.4 166,565.6 166,571.6 160,570.8" fill="none" stroke="#222" stroke-width="0.56"/>
<line x1="166" y1="566.8" x2="169" y2="566.8" stroke="#222" stroke-width="0.4"/>
<line x1="166" y1="570.4" x2="169" y2="570.4" stroke="#222" stroke-width="0.4"/>
<circle cx="175.2" cy="568.6" r="3.1" fill="none" stroke="#333" stroke-width="0.5"/>
<circle cx="175.2" cy="568.6" r="1.6" fill="none" stroke="#333" stroke-width="0.5"/>
<line x1="175.2" y1="562.5" x2="175.2" y2="575" stroke="#222" stroke-width="0.4"/>
<rect x="172" y="575.6" width="5" height="1.4" fill="#222" stroke="#222" stroke-width="0.2"/>
<text x="157.8" y="589.87" font-size="5.2" text-anchor="start" textLength="24" lengthAdjust="spacingAndGlyphs" fill="#222">FORM. A4</text>
<text x="238" y="566.48" font-size="4.1" text-anchor="middle" textLength="104" lengthAdjust="spacingAndGlyphs" fill="#333">LA RIPRODUZIONE O LA CESSIONE DEL PRESENTE</text>
<text x="238" y="571.48" font-size="4.1" text-anchor="middle" textLength="99" lengthAdjust="spacingAndGlyphs" fill="#333">DISEGNO DEVONO ESSERE AUTORIZZATE DALLA</text>
<text x="238" y="575.98" font-size="4.1" text-anchor="middle" textLength="22" lengthAdjust="spacingAndGlyphs" fill="#333">"SMEG" SPA</text>
<text x="238" y="580.88" font-size="4.1" text-anchor="middle" textLength="87" lengthAdjust="spacingAndGlyphs" fill="#333">ANY REPRODUCTION OR TRANSFER OF THE</text>
<text x="238" y="585.88" font-size="4.1" text-anchor="middle" textLength="95" lengthAdjust="spacingAndGlyphs" fill="#333">PRESENT DRAWING MUST BE AUTHORIZED BY</text>
<text x="238" y="590.98" font-size="4.1" text-anchor="middle" textLength="22" lengthAdjust="spacingAndGlyphs" fill="#333">"SMEG" SPA</text>
<text x="295.8" y="564.52" font-size="5.6" text-anchor="start" textLength="53" lengthAdjust="spacingAndGlyphs" fill="#222">MODELLO - MODEL</text>
<text x="306" y="583.78" font-size="13" text-anchor="start" textLength="43.5" lengthAdjust="spacingAndGlyphs" fill="#111">SY4110</text>
<text x="392.4" y="564.14" font-size="5.4" text-anchor="start" textLength="49" lengthAdjust="spacingAndGlyphs" fill="#222">CODICE - ART.NO.</text>
<text x="398.6" y="583.78" font-size="13" text-anchor="start" textLength="57" lengthAdjust="spacingAndGlyphs" fill="#111">730243 - C</text>
<text x="492" y="564.14" font-size="5.4" text-anchor="start" textLength="57.5" lengthAdjust="spacingAndGlyphs" fill="#222">VERSIONE - EDITING</text>
<text x="494" y="583.78" font-size="13" text-anchor="start" textLength="99.5" lengthAdjust="spacingAndGlyphs" fill="#111">01 del 11.06.2008</text>
<rect x="498.8" y="328.8" width="123.2" height="72" fill="#fff" stroke="#222" stroke-width="1.01"/>
<line x1="498.8" y1="338" x2="622" y2="338" stroke="#222" stroke-width="0.9"/>
<line x1="498.8" y1="364.3" x2="622" y2="364.3" stroke="#222" stroke-width="0.78"/>
<line x1="498.8" y1="373.3" x2="622" y2="373.3" stroke="#222" stroke-width="0.78"/>
<line x1="498.8" y1="382.5" x2="622" y2="382.5" stroke="#222" stroke-width="0.78"/>
<line x1="498.8" y1="391.7" x2="622" y2="391.7" stroke="#222" stroke-width="0.78"/>
<line x1="532.5" y1="357.5" x2="622" y2="357.5" stroke="#222" stroke-width="0.78"/>
<line x1="532.5" y1="338" x2="532.5" y2="400.8" stroke="#222" stroke-width="0.9"/>
<line x1="578" y1="338" x2="578" y2="400.8" stroke="#222" stroke-width="0.9"/>
<line x1="551.3" y1="357.5" x2="551.3" y2="400.8" stroke="#222" stroke-width="0.78"/>
<line x1="596.3" y1="357.5" x2="596.3" y2="400.8" stroke="#222" stroke-width="0.78"/>
<line x1="498.8" y1="338" x2="532.5" y2="364.3" stroke="#222" stroke-width="0.78"/>
<text x="560.4" y="336.24" font-size="7.6" text-anchor="middle" font-weight="bold" textLength="89" lengthAdjust="spacingAndGlyphs" fill="#111">NOZZLES TABLE</text>
<text x="531" y="343.1" font-size="3.6" text-anchor="end" font-weight="bold" fill="#222">KIND OF</text>
<text x="531" y="347.9" font-size="3.6" text-anchor="end" font-weight="bold" fill="#222">GAS</text>
<text x="499.6" y="362.7" font-size="3.9" text-anchor="start" font-weight="bold" textLength="18" lengthAdjust="spacingAndGlyphs" fill="#222">BURNER</text>
<text x="555.2" y="345.72" font-size="7" text-anchor="middle" textLength="32" lengthAdjust="spacingAndGlyphs" fill="#222">NATURAL</text>
<text x="555.2" y="353.82" font-size="7" text-anchor="middle" textLength="35" lengthAdjust="spacingAndGlyphs" fill="#222">GAS (G20)</text>
<text x="600" y="345.72" font-size="7" text-anchor="middle" textLength="21" lengthAdjust="spacingAndGlyphs" fill="#222">L.P.G.</text>
<text x="600" y="353.82" font-size="7" text-anchor="middle" textLength="35" lengthAdjust="spacingAndGlyphs" fill="#222">(G30-G31)</text>
<text x="542" y="363.07" font-size="5.2" text-anchor="middle" font-weight="bold" fill="#222">Ø</text>
<text x="563.8" y="363.07" font-size="5.2" text-anchor="middle" font-weight="bold" fill="#222">POS.</text>
<text x="586.3" y="363.07" font-size="5.2" text-anchor="middle" font-weight="bold" fill="#222">Ø</text>
<text x="608.3" y="363.07" font-size="5.2" text-anchor="middle" font-weight="bold" fill="#222">POS.</text>
<text x="515" y="371.62" font-size="7" text-anchor="middle" fill="#222">RAP</text>
<text x="541.4" y="371.62" font-size="7" text-anchor="middle" fill="#222">1,15</text>
<text x="564.3" y="371.62" font-size="7" text-anchor="middle" fill="#222">42814</text>
<text x="587" y="371.62" font-size="7" text-anchor="middle" fill="#222">0,85</text>
<text x="618.4" y="371.62" font-size="7" text-anchor="end" fill="#222">6879</text>
<text x="515" y="380.62" font-size="7" text-anchor="middle" fill="#222">SRP</text>
<text x="541.4" y="380.62" font-size="7" text-anchor="middle" fill="#222">0,97</text>
<text x="564.3" y="380.62" font-size="7" text-anchor="middle" fill="#222">43417</text>
<text x="587" y="380.62" font-size="7" text-anchor="middle" fill="#222">0,65</text>
<text x="618.4" y="380.62" font-size="7" text-anchor="end" fill="#222">14396</text>
<text x="515" y="389.82" font-size="7" text-anchor="middle" fill="#222">URP</text>
<text x="541.4" y="389.82" font-size="7" text-anchor="middle" fill="#222">1,35</text>
<text x="564.3" y="389.82" font-size="7" text-anchor="middle" fill="#222">67411</text>
<text x="587" y="389.82" font-size="7" text-anchor="middle" fill="#222">1,00</text>
<text x="618.4" y="389.82" font-size="7" text-anchor="end" fill="#222">48209</text>
<text x="515" y="398.92" font-size="7" text-anchor="middle" fill="#222">AUX</text>
<text x="541.4" y="398.92" font-size="7" text-anchor="middle" fill="#222">0,72</text>
<text x="564.3" y="398.92" font-size="7" text-anchor="middle" fill="#222">43416</text>
<text x="587" y="398.92" font-size="7" text-anchor="middle" fill="#222">0,50</text>
<text x="618.4" y="398.92" font-size="7" text-anchor="end" fill="#222">42675</text>
<polyline points="61.3,113.8 61.3,119.8" fill="none" stroke="#222" stroke-width="0.78"/>
<polyline points="73.3,123.8 85,123.8 98.8,108.8" fill="none" stroke="#222" stroke-width="0.78"/>
<polyline points="223,117.6 223,123.6" fill="none" stroke="#222" stroke-width="0.78"/>
<polyline points="234.3,127.6 246.3,127.6 260,113.8" fill="none" stroke="#222" stroke-width="0.78"/>
<polyline points="382.6,123 382.6,129" fill="none" stroke="#222" stroke-width="0.78"/>
<polyline points="395.3,133 405,133 418.8,120" fill="none" stroke="#222" stroke-width="0.78"/>
<polyline points="626.8,70.6 626.8,78.4" fill="none" stroke="#222" stroke-width="0.78"/>
<polyline points="800,110.6 800,117" fill="none" stroke="#222" stroke-width="0.78"/>
<polyline points="787.2,121 778,121 763,106.8" fill="none" stroke="#222" stroke-width="0.78"/>
<polyline points="408.8,158 437.5,182.5" fill="none" stroke="#222" stroke-width="0.78"/>
<polyline points="410.3,157.2 439,181.7" fill="none" stroke="#222" stroke-width="0.78"/>
<polyline points="440,169 451.3,180" fill="none" stroke="#222" stroke-width="0.78"/>
<polyline points="413,182 433.8,203.8" fill="none" stroke="#222" stroke-width="0.78"/>
<polyline points="473.8,161 486.6,193" fill="none" stroke="#222" stroke-width="0.78"/>
<polyline points="491.3,181.5 491.3,193" fill="none" stroke="#222" stroke-width="0.78"/>
<polyline points="421.3,206.5 427.5,213.8 434,213.8" fill="none" stroke="#222" stroke-width="0.78"/>
<polyline points="457.5,219.5 452,219.5 448.5,223.5" fill="none" stroke="#222" stroke-width="0.78"/>
<polyline points="477.5,219.5 483,219.5 483,214" fill="none" stroke="#222" stroke-width="0.78"/>
<polyline points="498.8,218.5 496.3,203.5" fill="none" stroke="#222" stroke-width="0.78"/>
<polyline points="519.4,135 519.4,164" fill="none" stroke="#222" stroke-width="0.78"/>
<polyline points="500,149 511.3,177.5" fill="none" stroke="#222" stroke-width="0.78"/>
<polyline points="533.8,156.5 533.8,170.5" fill="none" stroke="#222" stroke-width="0.78"/>
<polyline points="547.5,166 547.5,176.3 540.8,176.3" fill="none" stroke="#222" stroke-width="0.78"/>
<polyline points="551.5,166 551.5,170" fill="none" stroke="#222" stroke-width="0.78"/>
<polyline points="539.5,183.5 536.3,186.3" fill="none" stroke="#222" stroke-width="0.78"/>
<polyline points="539.5,185 561,185 561,187.5" fill="none" stroke="#222" stroke-width="0.78"/>
<polyline points="511.3,200.3 510,194.5" fill="none" stroke="#222" stroke-width="0.78"/>
<polyline points="521.3,200.3 527.5,194.5" fill="none" stroke="#222" stroke-width="0.78"/>
<polyline points="563.8,196.3 573.8,208.8" fill="none" stroke="#222" stroke-width="0.78"/>
<polyline points="527.5,215.8 525,220" fill="none" stroke="#222" stroke-width="0.78"/>
<polyline points="547.5,224 541.3,228.5" fill="none" stroke="#222" stroke-width="0.78"/>
<polyline points="505.5,233.8 515,233.8" fill="none" stroke="#222" stroke-width="0.78"/>
<polyline points="548,232 546,232" fill="none" stroke="#222" stroke-width="0.78"/>
<polyline points="505.5,243.8 517,247" fill="none" stroke="#222" stroke-width="0.78"/>
<polyline points="548,242.5 543,241" fill="none" stroke="#222" stroke-width="0.78"/>
<polyline points="571.5,256.3 576,256.3 581,251" fill="none" stroke="#222" stroke-width="0.78"/>
<polyline points="587,152 587,185" fill="none" stroke="#222" stroke-width="0.78"/>
<polyline points="605.8,163 605.8,195" fill="none" stroke="#222" stroke-width="0.78"/>
<polyline points="632.5,174 610,199.5" fill="none" stroke="#222" stroke-width="0.78"/>
<polyline points="658.8,184.3 658.8,207" fill="none" stroke="#222" stroke-width="0.78"/>
<polyline points="708.8,204 684.5,227.5" fill="none" stroke="#222" stroke-width="0.78"/>
<polyline points="678.8,210.3 678.8,227" fill="none" stroke="#222" stroke-width="0.78"/>
<polyline points="613.8,206 609.5,210.5" fill="none" stroke="#222" stroke-width="0.78"/>
<polyline points="616,210 631,210 631,207.5" fill="none" stroke="#222" stroke-width="0.78"/>
<polyline points="629.6,222.8 637.6,233.8" fill="none" stroke="#222" stroke-width="0.78"/>
<polyline points="591,227.4 578,220" fill="none" stroke="#222" stroke-width="0.78"/>
<polyline points="598.4,226.5 598.4,220" fill="none" stroke="#222" stroke-width="0.78"/>
<polyline points="618.3,241.9 612.5,250" fill="none" stroke="#222" stroke-width="0.78"/>
<polyline points="573.5,269.9 578.1,267.6" fill="none" stroke="#222" stroke-width="0.78"/>
<polyline points="640.8,255.2 645.5,249" fill="none" stroke="#222" stroke-width="0.78"/>
<polyline points="680,261 679,243.5" fill="none" stroke="#222" stroke-width="0.78"/>
<polyline points="642,277.5 631.2,277.5 616.7,258" fill="none" stroke="#222" stroke-width="0.78"/>
<polyline points="611.9,285.8 611.9,263.5" fill="none" stroke="#222" stroke-width="0.78"/>
<polyline points="583.2,308.6 583.6,272.4" fill="none" stroke="#222" stroke-width="0.78"/>
<polyline points="508.2,288.6 502,283.6 494,282.8" fill="none" stroke="#222" stroke-width="0.78"/>
<polyline points="507.2,304.6 493,304.6" fill="none" stroke="#222" stroke-width="0.78"/>
<polyline points="784.1,179.3 784.1,189.4 767.2,203.9" fill="none" stroke="#222" stroke-width="0.78"/>
<polyline points="662.2,334.4 682.5,356" fill="none" stroke="#222" stroke-width="0.78"/>
<polyline points="675.7,297.4 684.2,356" fill="none" stroke="#222" stroke-width="0.78"/>
<polyline points="690,300 690,356" fill="none" stroke="#222" stroke-width="0.78"/>
<polyline points="730.8,296.4 730.8,344.7 702.8,356.3" fill="none" stroke="#222" stroke-width="0.78"/>
<polyline points="745.8,343 745.8,361.6" fill="none" stroke="#222" stroke-width="0.78"/>
<polyline points="792.7,338.5 805.2,352 805.2,356.4" fill="none" stroke="#222" stroke-width="0.78"/>
<polyline points="791.6,418.2 788,409" fill="none" stroke="#222" stroke-width="0.78"/>
<polyline points="796.4,418.2 804.5,409" fill="none" stroke="#222" stroke-width="0.78"/>
<polyline points="103.6,206.6 119,221.6" fill="none" stroke="#222" stroke-width="0.78"/>
<polyline points="196,231 196,253.6" fill="none" stroke="#222" stroke-width="0.78"/>
<polyline points="227,273.2 234.8,273.2" fill="none" stroke="#222" stroke-width="0.78"/>
<polyline points="117.6,255.8 121,255.8 131,263.6" fill="none" stroke="#222" stroke-width="0.78"/>
<polyline points="108.6,278.2 116,278.2 123.8,286" fill="none" stroke="#222" stroke-width="0.78"/>
<polyline points="182.6,288.6 166,288.2 154.5,292.7" fill="none" stroke="#222" stroke-width="0.78"/>
<polyline points="189.8,292.4 173.9,299.5" fill="none" stroke="#222" stroke-width="0.78"/>
<polyline points="192.4,292.8 190.9,308.6" fill="none" stroke="#222" stroke-width="0.78"/>
<polyline points="199.4,292.8 206.8,315.5" fill="none" stroke="#222" stroke-width="0.78"/>
<polyline points="240.9,319.2 237.5,326.8 230.5,326.8" fill="none" stroke="#222" stroke-width="0.78"/>
<polyline points="248.4,353.4 230.7,353.4" fill="none" stroke="#222" stroke-width="0.78"/>
<polyline points="93,319.2 111.4,318.9" fill="none" stroke="#222" stroke-width="0.78"/>
<polyline points="117.6,340.2 123.9,340.2 131.8,328" fill="none" stroke="#222" stroke-width="0.78"/>
<polyline points="142,351.6 151.1,335.9" fill="none" stroke="#222" stroke-width="0.78"/>
<polyline points="170.5,356.6 170.5,345" fill="none" stroke="#222" stroke-width="0.78"/>
<polyline points="198.2,367.6 198.2,350.7" fill="none" stroke="#222" stroke-width="0.78"/>
<polyline points="64.8,379.6 64.8,403.4" fill="none" stroke="#222" stroke-width="0.78"/>
<polyline points="125.8,383.6 125.8,400" fill="none" stroke="#222" stroke-width="0.78"/>
<polyline points="282.5,224 282.5,233" fill="none" stroke="#222" stroke-width="0.78"/>
<polyline points="308,210.4 307.6,233.4" fill="none" stroke="#222" stroke-width="0.78"/>
<polyline points="348,221.2 347,228.4" fill="none" stroke="#222" stroke-width="0.78"/>
<polyline points="322,254 322,263.7 309.5,269.5" fill="none" stroke="#222" stroke-width="0.78"/>
<polyline points="364.6,250.4 352.4,250.4" fill="none" stroke="#222" stroke-width="0.78"/>
<polyline points="363.8,265 348.4,265" fill="none" stroke="#222" stroke-width="0.78"/>
<polyline points="412,245 413,252.4" fill="none" stroke="#222" stroke-width="0.78"/>
<polyline points="441.4,268.7 425.4,268.7" fill="none" stroke="#222" stroke-width="0.78"/>
<polyline points="309.5,288.6 306.8,291.6 284.6,298.6" fill="none" stroke="#222" stroke-width="0.78"/>
<polyline points="379,285.5 359.6,286.4" fill="none" stroke="#222" stroke-width="0.78"/>
<polyline points="434.6,292.4 417.4,292.4" fill="none" stroke="#222" stroke-width="0.78"/>
<polyline points="386.4,298.2 358,296.2" fill="none" stroke="#222" stroke-width="0.78"/>
<polyline points="448.2,307.8 431,308.6" fill="none" stroke="#222" stroke-width="0.78"/>
<polyline points="371.2,319 353.4,319" fill="none" stroke="#222" stroke-width="0.78"/>
<polyline points="448.8,322.8 430.6,322.8" fill="none" stroke="#222" stroke-width="0.78"/>
<polyline points="439,346.2 422.6,346.2" fill="none" stroke="#222" stroke-width="0.78"/>
<polyline points="507,320 484.6,320" fill="none" stroke="#222" stroke-width="0.78"/>
<polyline points="422,369.2 415.6,379.8" fill="none" stroke="#222" stroke-width="0.78"/>
<polyline points="426.2,369.2 432,387" fill="none" stroke="#222" stroke-width="0.78"/>
<polyline points="460,388.6 454.2,399.2" fill="none" stroke="#222" stroke-width="0.78"/>
<polyline points="464.6,388.6 469.9,406.4" fill="none" stroke="#222" stroke-width="0.78"/>
<polyline points="525,439.8 519.4,449.8" fill="none" stroke="#222" stroke-width="0.78"/>
<polyline points="530,439.8 535.3,457.2" fill="none" stroke="#222" stroke-width="0.78"/>
<polyline points="372.9,399.4 381.4,406.9 399.5,406.9" fill="none" stroke="#222" stroke-width="0.78"/>
<polyline points="466,424.7 451.3,424.6" fill="none" stroke="#222" stroke-width="0.78"/>
<polyline points="350,415.4 358.4,422.5 365.7,422.5" fill="none" stroke="#222" stroke-width="0.78"/>
<polyline points="408.6,452.6 408.6,441" fill="none" stroke="#222" stroke-width="0.78"/>
<polyline points="493.5,442 474.2,441.4" fill="none" stroke="#222" stroke-width="0.78"/>
<polyline points="452.4,462.6 458.4,462.6" fill="none" stroke="#222" stroke-width="0.78"/>
<polyline points="466.6,492.2 469.4,492.2 476.7,480.5" fill="none" stroke="#222" stroke-width="0.78"/>
<polyline points="461,535 453,535 431.6,519" fill="none" stroke="#222" stroke-width="0.78"/>
<polyline points="282,470.2 276,470.2" fill="none" stroke="#222" stroke-width="0.78"/>
<polyline points="292.6,474.2 293,477.4" fill="none" stroke="#222" stroke-width="0.78"/>
<polyline points="263.6,500.6 263.6,477" fill="none" stroke="#222" stroke-width="0.78"/>
<polyline points="276.6,500.6 276.6,490.6 281,486.4" fill="none" stroke="#222" stroke-width="0.78"/>
<polyline points="285.6,504.6 305.4,504.6 311.7,499" fill="none" stroke="#222" stroke-width="0.78"/>
<polyline points="333.8,491.5 327.4,491.5" fill="none" stroke="#222" stroke-width="0.78"/>
<polyline points="344.4,495.6 345.4,499" fill="none" stroke="#222" stroke-width="0.78"/>
<polyline points="351.4,526.2 351.4,520 338.9,508.6" fill="none" stroke="#222" stroke-width="0.78"/>
<polyline points="256.6,462.4 260.5,462.4 272,454" fill="none" stroke="#222" stroke-width="0.78"/>
<polyline points="229.1,545 215.6,503.2" fill="none" stroke="#222" stroke-width="0.78"/>
<polyline points="236.5,544.4 236.8,511.6" fill="none" stroke="#222" stroke-width="0.78"/>
<polyline points="242.7,545 258.6,520.6" fill="none" stroke="#222" stroke-width="0.78"/>
<polyline points="247,546.6 279,529" fill="none" stroke="#222" stroke-width="0.78"/>
<polyline points="249.2,549 263.6,549 300.6,539" fill="none" stroke="#222" stroke-width="0.78"/>
<polyline points="47.4,493 54.6,436" fill="none" stroke="#222" stroke-width="0.78"/>
<polyline points="49.4,493 74,444" fill="none" stroke="#222" stroke-width="0.78"/>
<polyline points="51.6,493.2 93.6,452.4" fill="none" stroke="#222" stroke-width="0.78"/>
<polyline points="54.4,493.6 113.4,461" fill="none" stroke="#222" stroke-width="0.78"/>
<polyline points="58.4,494.4 133,469.4" fill="none" stroke="#222" stroke-width="0.78"/>
<polyline points="64,497.6 93,497.6 152.6,477.6" fill="none" stroke="#222" stroke-width="0.78"/>
<polyline points="182.8,496 193.8,496 198.3,491.6" fill="none" stroke="#222" stroke-width="0.78"/>
<polyline points="184.1,496 184.1,487" fill="none" stroke="#222" stroke-width="0.78"/>
<polyline points="187,496 187,488.2" fill="none" stroke="#222" stroke-width="0.78"/>
<polyline points="190.3,496 190.3,489.6" fill="none" stroke="#222" stroke-width="0.78"/>
<line x1="61.3" y1="106" x2="61.3" y2="96.4" stroke="#222" stroke-width="0.78"/>
<polygon points="60,99.6 61.3,96.4 62.6,99.6" fill="#222" stroke="#222" stroke-width="0.56"/>
<line x1="223" y1="109.8" x2="223" y2="101.8" stroke="#222" stroke-width="0.78"/>
<polygon points="221.7,105 223,101.8 224.3,105" fill="#222" stroke="#222" stroke-width="0.56"/>
<line x1="382.6" y1="115.2" x2="382.6" y2="107.8" stroke="#222" stroke-width="0.78"/>
<polygon points="381.3,111 382.6,107.8 383.9,111" fill="#222" stroke="#222" stroke-width="0.56"/>
<line x1="800" y1="103.2" x2="800" y2="94.6" stroke="#222" stroke-width="0.78"/>
<polygon points="798.7,97.8 800,94.6 801.3,97.8" fill="#222" stroke="#222" stroke-width="0.56"/>
<text x="63.8" y="112.74" font-size="7.6" text-anchor="middle" fill="#151515" stroke="#fff" stroke-width="1.8" paint-order="stroke" stroke-linejoin="round">46043</text>
<text x="224.5" y="116.54" font-size="7.6" text-anchor="middle" fill="#151515" stroke="#fff" stroke-width="1.8" paint-order="stroke" stroke-linejoin="round">46043</text>
<text x="385.5" y="122.04" font-size="7.6" text-anchor="middle" fill="#151515" stroke="#fff" stroke-width="1.8" paint-order="stroke" stroke-linejoin="round">46043</text>
<text x="628" y="69.44" font-size="7.6" text-anchor="middle" fill="#151515" stroke="#fff" stroke-width="1.8" paint-order="stroke" stroke-linejoin="round">77041</text>
<text x="802" y="109.54" font-size="7.6" text-anchor="middle" fill="#151515" stroke="#fff" stroke-width="1.8" paint-order="stroke" stroke-linejoin="round">50207</text>
<text x="519.4" y="134.04" font-size="7.6" text-anchor="middle" fill="#151515" stroke="#fff" stroke-width="1.8" paint-order="stroke" stroke-linejoin="round">42041</text>
<text x="498.5" y="148.24" font-size="7.6" text-anchor="middle" fill="#151515" stroke="#fff" stroke-width="1.8" paint-order="stroke" stroke-linejoin="round">41490</text>
<text x="405.3" y="157.24" font-size="7.6" text-anchor="middle" fill="#151515" stroke="#fff" stroke-width="1.8" paint-order="stroke" stroke-linejoin="round">41498</text>
<text x="435.8" y="168.54" font-size="7.6" text-anchor="middle" fill="#151515" stroke="#fff" stroke-width="1.8" paint-order="stroke" stroke-linejoin="round">66420</text>
<text x="408.8" y="181.54" font-size="7.6" text-anchor="middle" fill="#151515" stroke="#fff" stroke-width="1.8" paint-order="stroke" stroke-linejoin="round">66419</text>
<text x="472.5" y="160.24" font-size="7.6" text-anchor="middle" fill="#151515" stroke="#fff" stroke-width="1.8" paint-order="stroke" stroke-linejoin="round">65461</text>
<text x="490" y="180.74" font-size="7.6" text-anchor="middle" fill="#151515" stroke="#fff" stroke-width="1.8" paint-order="stroke" stroke-linejoin="round">66426</text>
<text x="531.5" y="155.54" font-size="7.6" text-anchor="middle" fill="#151515" stroke="#fff" stroke-width="1.8" paint-order="stroke" stroke-linejoin="round">58936</text>
<text x="549.5" y="165.24" font-size="7.6" text-anchor="middle" fill="#151515" stroke="#fff" stroke-width="1.8" paint-order="stroke" stroke-linejoin="round">41482</text>
<text x="549.8" y="184.74" font-size="7.6" text-anchor="middle" fill="#151515" stroke="#fff" stroke-width="1.8" paint-order="stroke" stroke-linejoin="round">41489</text>
<text x="513" y="206.04" font-size="7.6" text-anchor="middle" fill="#151515" stroke="#fff" stroke-width="1.8" paint-order="stroke" stroke-linejoin="round">44969</text>
<text x="554.5" y="197.54" font-size="7.6" text-anchor="middle" fill="#151515" stroke="#fff" stroke-width="1.8" paint-order="stroke" stroke-linejoin="round">41491</text>
<text x="416.3" y="206.04" font-size="7.6" text-anchor="middle" fill="#151515" stroke="#fff" stroke-width="1.8" paint-order="stroke" stroke-linejoin="round">67695</text>
<text x="467.5" y="222.24" font-size="7.6" text-anchor="middle" fill="#151515" stroke="#fff" stroke-width="1.8" paint-order="stroke" stroke-linejoin="round">65463</text>
<text x="500.5" y="224.54" font-size="7.6" text-anchor="middle" fill="#151515" stroke="#fff" stroke-width="1.8" paint-order="stroke" stroke-linejoin="round">39515</text>
<text x="532" y="215.24" font-size="7.6" text-anchor="middle" fill="#151515" stroke="#fff" stroke-width="1.8" paint-order="stroke" stroke-linejoin="round">42041</text>
<text x="550" y="224.04" font-size="7.6" text-anchor="middle" fill="#151515" stroke="#fff" stroke-width="1.8" paint-order="stroke" stroke-linejoin="round">58936</text>
<text x="494.5" y="236.54" font-size="7.6" text-anchor="middle" fill="#151515" stroke="#fff" stroke-width="1.8" paint-order="stroke" stroke-linejoin="round">41490</text>
<text x="558.8" y="234.04" font-size="7.6" text-anchor="middle" fill="#151515" stroke="#fff" stroke-width="1.8" paint-order="stroke" stroke-linejoin="round">41484</text>
<text x="494.5" y="246.54" font-size="7.6" text-anchor="middle" fill="#151515" stroke="#fff" stroke-width="1.8" paint-order="stroke" stroke-linejoin="round">44969</text>
<text x="558.8" y="245.24" font-size="7.6" text-anchor="middle" fill="#151515" stroke="#fff" stroke-width="1.8" paint-order="stroke" stroke-linejoin="round">41489</text>
<text x="560" y="259.04" font-size="7.6" text-anchor="middle" fill="#151515" stroke="#fff" stroke-width="1.8" paint-order="stroke" stroke-linejoin="round">42040</text>
<text x="585" y="151.04" font-size="7.6" text-anchor="middle" fill="#151515" stroke="#fff" stroke-width="1.8" paint-order="stroke" stroke-linejoin="round">42040</text>
<text x="607" y="162.04" font-size="7.6" text-anchor="middle" fill="#151515" stroke="#fff" stroke-width="1.8" paint-order="stroke" stroke-linejoin="round">58935</text>
<text x="633.8" y="172.74" font-size="7.6" text-anchor="middle" fill="#151515" stroke="#fff" stroke-width="1.8" paint-order="stroke" stroke-linejoin="round">41484</text>
<text x="660" y="183.24" font-size="7.6" text-anchor="middle" fill="#151515" stroke="#fff" stroke-width="1.8" paint-order="stroke" stroke-linejoin="round">42042</text>
<text x="716.4" y="203.34" font-size="7.6" text-anchor="middle" fill="#151515" stroke="#fff" stroke-width="1.8" paint-order="stroke" stroke-linejoin="round">41724</text>
<text x="680.5" y="209.04" font-size="7.6" text-anchor="middle" fill="#151515" stroke="#fff" stroke-width="1.8" paint-order="stroke" stroke-linejoin="round">58935</text>
<text x="624.4" y="206.64" font-size="7.6" text-anchor="middle" fill="#151515" stroke="#fff" stroke-width="1.8" paint-order="stroke" stroke-linejoin="round">41489</text>
<text x="623.9" y="222.34" font-size="7.6" text-anchor="middle" fill="#151515" stroke="#fff" stroke-width="1.8" paint-order="stroke" stroke-linejoin="round">41492</text>
<text x="599.6" y="232.74" font-size="7.6" text-anchor="middle" fill="#151515" stroke="#fff" stroke-width="1.8" paint-order="stroke" stroke-linejoin="round">44969</text>
<text x="621.5" y="241.44" font-size="7.6" text-anchor="middle" fill="#151515" stroke="#fff" stroke-width="1.8" paint-order="stroke" stroke-linejoin="round">58936</text>
<text x="563" y="272.64" font-size="7.6" text-anchor="middle" fill="#151515" stroke="#fff" stroke-width="1.8" paint-order="stroke" stroke-linejoin="round">41491</text>
<text x="643.4" y="261.24" font-size="7.6" text-anchor="middle" fill="#151515" stroke="#fff" stroke-width="1.8" paint-order="stroke" stroke-linejoin="round">44969</text>
<text x="681" y="267.64" font-size="7.6" text-anchor="middle" fill="#151515" stroke="#fff" stroke-width="1.8" paint-order="stroke" stroke-linejoin="round">41489</text>
<text x="653.5" y="280.24" font-size="7.6" text-anchor="middle" fill="#151515" stroke="#fff" stroke-width="1.8" paint-order="stroke" stroke-linejoin="round">41724</text>
<text x="613.5" y="292.24" font-size="7.6" text-anchor="middle" fill="#151515" stroke="#fff" stroke-width="1.8" paint-order="stroke" stroke-linejoin="round">41489</text>
<text x="581.2" y="315.34" font-size="7.6" text-anchor="middle" fill="#151515" stroke="#fff" stroke-width="1.8" paint-order="stroke" stroke-linejoin="round">44969</text>
<text x="520.2" y="292.84" font-size="7.6" text-anchor="middle" fill="#151515" stroke="#fff" stroke-width="1.8" paint-order="stroke" stroke-linejoin="round">45851</text>
<text x="519.2" y="307.34" font-size="7.6" text-anchor="middle" fill="#151515" stroke="#fff" stroke-width="1.8" paint-order="stroke" stroke-linejoin="round">41479</text>
<text x="785.8" y="177.94" font-size="7.6" text-anchor="middle" fill="#151515" stroke="#fff" stroke-width="1.8" paint-order="stroke" stroke-linejoin="round">77936</text>
<text x="101" y="205.74" font-size="7.6" text-anchor="middle" fill="#151515" stroke="#fff" stroke-width="1.8" paint-order="stroke" stroke-linejoin="round">47492</text>
<text x="198" y="229.54" font-size="7.6" text-anchor="middle" fill="#151515" stroke="#fff" stroke-width="1.8" paint-order="stroke" stroke-linejoin="round">77939</text>
<text x="215" y="275.74" font-size="7.6" text-anchor="middle" fill="#151515" stroke="#fff" stroke-width="1.8" paint-order="stroke" stroke-linejoin="round">66962</text>
<text x="105.8" y="258.54" font-size="7.6" text-anchor="middle" fill="#151515" stroke="#fff" stroke-width="1.8" paint-order="stroke" stroke-linejoin="round">75342</text>
<text x="96.8" y="281.04" font-size="7.6" text-anchor="middle" fill="#151515" stroke="#fff" stroke-width="1.8" paint-order="stroke" stroke-linejoin="round">75343</text>
<text x="194.3" y="291.54" font-size="7.6" text-anchor="middle" fill="#151515" stroke="#fff" stroke-width="1.8" paint-order="stroke" stroke-linejoin="round">71303</text>
<text x="81.2" y="321.94" font-size="7.6" text-anchor="middle" fill="#151515" stroke="#fff" stroke-width="1.8" paint-order="stroke" stroke-linejoin="round">71302</text>
<text x="105.9" y="342.54" font-size="7.6" text-anchor="middle" fill="#151515" stroke="#fff" stroke-width="1.8" paint-order="stroke" stroke-linejoin="round">71299</text>
<text x="135.3" y="359.14" font-size="7.6" text-anchor="middle" fill="#151515" stroke="#fff" stroke-width="1.8" paint-order="stroke" stroke-linejoin="round">71300</text>
<text x="172.8" y="363.44" font-size="7.6" text-anchor="middle" fill="#151515" stroke="#fff" stroke-width="1.8" paint-order="stroke" stroke-linejoin="round">71299</text>
<text x="200.5" y="374.64" font-size="7.6" text-anchor="middle" fill="#151515" stroke="#fff" stroke-width="1.8" paint-order="stroke" stroke-linejoin="round">71301</text>
<text x="260.1" y="356.24" font-size="7.6" text-anchor="middle" fill="#151515" stroke="#fff" stroke-width="1.8" paint-order="stroke" stroke-linejoin="round">71300</text>
<text x="242.9" y="318.14" font-size="7.6" text-anchor="middle" fill="#151515" stroke="#fff" stroke-width="1.8" paint-order="stroke" stroke-linejoin="round">75343</text>
<text x="282.5" y="222.54" font-size="7.6" text-anchor="middle" fill="#151515" stroke="#fff" stroke-width="1.8" paint-order="stroke" stroke-linejoin="round">65462</text>
<text x="62" y="378.04" font-size="7.6" text-anchor="middle" fill="#151515" stroke="#fff" stroke-width="1.8" paint-order="stroke" stroke-linejoin="round">77946</text>
<text x="126.1" y="382.04" font-size="7.6" text-anchor="middle" fill="#151515" stroke="#fff" stroke-width="1.8" paint-order="stroke" stroke-linejoin="round">76791</text>
<text x="308.5" y="208.94" font-size="7.6" text-anchor="middle" fill="#151515" stroke="#fff" stroke-width="1.8" paint-order="stroke" stroke-linejoin="round">66425</text>
<text x="348.4" y="219.74" font-size="7.6" text-anchor="middle" fill="#151515" stroke="#fff" stroke-width="1.8" paint-order="stroke" stroke-linejoin="round">45849</text>
<text x="323.7" y="252.54" font-size="7.6" text-anchor="middle" fill="#151515" stroke="#fff" stroke-width="1.8" paint-order="stroke" stroke-linejoin="round">67410</text>
<text x="376.1" y="253.14" font-size="7.6" text-anchor="middle" fill="#151515" stroke="#fff" stroke-width="1.8" paint-order="stroke" stroke-linejoin="round">41477</text>
<text x="375.4" y="267.74" font-size="7.6" text-anchor="middle" fill="#151515" stroke="#fff" stroke-width="1.8" paint-order="stroke" stroke-linejoin="round">77945</text>
<text x="411.7" y="243.44" font-size="7.6" text-anchor="middle" fill="#151515" stroke="#fff" stroke-width="1.8" paint-order="stroke" stroke-linejoin="round">45850</text>
<text x="453" y="271.44" font-size="7.6" text-anchor="middle" fill="#151515" stroke="#fff" stroke-width="1.8" paint-order="stroke" stroke-linejoin="round">41478</text>
<text x="311.2" y="287.34" font-size="7.6" text-anchor="middle" fill="#151515" stroke="#fff" stroke-width="1.8" paint-order="stroke" stroke-linejoin="round">77944</text>
<text x="390.6" y="288.04" font-size="7.6" text-anchor="middle" fill="#151515" stroke="#fff" stroke-width="1.8" paint-order="stroke" stroke-linejoin="round">45849</text>
<text x="446.3" y="295.14" font-size="7.6" text-anchor="middle" fill="#151515" stroke="#fff" stroke-width="1.8" paint-order="stroke" stroke-linejoin="round">77943</text>
<text x="398" y="300.84" font-size="7.6" text-anchor="middle" fill="#151515" stroke="#fff" stroke-width="1.8" paint-order="stroke" stroke-linejoin="round">41477</text>
<text x="459.8" y="310.34" font-size="7.6" text-anchor="middle" fill="#151515" stroke="#fff" stroke-width="1.8" paint-order="stroke" stroke-linejoin="round">45850</text>
<text x="382.8" y="321.74" font-size="7.6" text-anchor="middle" fill="#151515" stroke="#fff" stroke-width="1.8" paint-order="stroke" stroke-linejoin="round">77942</text>
<text x="460.5" y="325.54" font-size="7.6" text-anchor="middle" fill="#151515" stroke="#fff" stroke-width="1.8" paint-order="stroke" stroke-linejoin="round">41478</text>
<text x="450.7" y="348.84" font-size="7.6" text-anchor="middle" fill="#151515" stroke="#fff" stroke-width="1.8" paint-order="stroke" stroke-linejoin="round">77940</text>
<text x="424.1" y="367.74" font-size="7.6" text-anchor="middle" fill="#151515" stroke="#fff" stroke-width="1.8" paint-order="stroke" stroke-linejoin="round">22317</text>
<text x="462.3" y="387.04" font-size="7.6" text-anchor="middle" fill="#151515" stroke="#fff" stroke-width="1.8" paint-order="stroke" stroke-linejoin="round">22317</text>
<text x="368.6" y="397.54" font-size="7.6" text-anchor="middle" fill="#151515" stroke="#fff" stroke-width="1.8" paint-order="stroke" stroke-linejoin="round">58872</text>
<text x="518.8" y="322.74" font-size="7.6" text-anchor="middle" fill="#151515" stroke="#fff" stroke-width="1.8" paint-order="stroke" stroke-linejoin="round">77941</text>
<text x="477.8" y="427.44" font-size="7.6" text-anchor="middle" fill="#151515" stroke="#fff" stroke-width="1.8" paint-order="stroke" stroke-linejoin="round">58872</text>
<text x="346.5" y="413.84" font-size="7.6" text-anchor="middle" fill="#151515" stroke="#fff" stroke-width="1.8" paint-order="stroke" stroke-linejoin="round">51691</text>
<text x="406.4" y="459.64" font-size="7.6" text-anchor="middle" fill="#151515" stroke="#fff" stroke-width="1.8" paint-order="stroke" stroke-linejoin="round">51690</text>
<text x="496" y="449.44" font-size="7.6" text-anchor="middle" fill="#151515" stroke="#fff" stroke-width="1.8" paint-order="stroke" stroke-linejoin="round">64811</text>
<text x="440.7" y="465.24" font-size="7.6" text-anchor="middle" fill="#151515" stroke="#fff" stroke-width="1.8" paint-order="stroke" stroke-linejoin="round">56403</text>
<text x="527.5" y="438.24" font-size="7.6" text-anchor="middle" fill="#151515" stroke="#fff" stroke-width="1.8" paint-order="stroke" stroke-linejoin="round">22317</text>
<text x="454.9" y="494.94" font-size="7.6" text-anchor="middle" fill="#151515" stroke="#fff" stroke-width="1.8" paint-order="stroke" stroke-linejoin="round">77947</text>
<text x="472.5" y="537.74" font-size="7.6" text-anchor="middle" fill="#151515" stroke="#fff" stroke-width="1.8" paint-order="stroke" stroke-linejoin="round">77938</text>
<text x="354.6" y="533.04" font-size="7.6" text-anchor="middle" fill="#151515" stroke="#fff" stroke-width="1.8" paint-order="stroke" stroke-linejoin="round">49507</text>
<text x="293.8" y="472.94" font-size="7.6" text-anchor="middle" fill="#151515" stroke="#fff" stroke-width="1.8" paint-order="stroke" stroke-linejoin="round">41728</text>
<text x="345.5" y="494.24" font-size="7.6" text-anchor="middle" fill="#151515" stroke="#fff" stroke-width="1.8" paint-order="stroke" stroke-linejoin="round">41728</text>
<text x="273.9" y="507.34" font-size="7.6" text-anchor="middle" fill="#151515" stroke="#fff" stroke-width="1.8" paint-order="stroke" stroke-linejoin="round">42810</text>
<text x="244.8" y="465.14" font-size="7.6" text-anchor="middle" fill="#151515" stroke="#fff" stroke-width="1.8" paint-order="stroke" stroke-linejoin="round">58408</text>
<text x="237.4" y="551.64" font-size="7.6" text-anchor="middle" fill="#151515" stroke="#fff" stroke-width="1.8" paint-order="stroke" stroke-linejoin="round">54566</text>
<text x="52.3" y="500.34" font-size="7.6" text-anchor="middle" fill="#151515" stroke="#fff" stroke-width="1.8" paint-order="stroke" stroke-linejoin="round">54566</text>
<text x="171.1" y="499.24" font-size="7.6" text-anchor="middle" fill="#151515" stroke="#fff" stroke-width="1.8" paint-order="stroke" stroke-linejoin="round">29618</text>
<text x="748.4" y="368.74" font-size="7.6" text-anchor="middle" fill="#151515" stroke="#fff" stroke-width="1.8" paint-order="stroke" stroke-linejoin="round">39003</text>
<text x="806.8" y="363.34" font-size="7.6" text-anchor="middle" fill="#151515" stroke="#fff" stroke-width="1.8" paint-order="stroke" stroke-linejoin="round">77937</text>
<text x="794" y="425.14" font-size="7.6" text-anchor="middle" fill="#151515" stroke="#fff" stroke-width="1.8" paint-order="stroke" stroke-linejoin="round">61958</text>
<rect x="49.75" y="119.8" width="23.5" height="8" fill="#fff" stroke="#222" stroke-width="0.78"/>
<text x="61.5" y="126.7" font-size="7.5" text-anchor="middle" fill="#222">76781</text>
<rect x="210.75" y="123.6" width="23.5" height="8" fill="#fff" stroke="#222" stroke-width="0.78"/>
<text x="222.5" y="130.5" font-size="7.5" text-anchor="middle" fill="#222">76781</text>
<rect x="371.75" y="129" width="23.5" height="8" fill="#fff" stroke="#222" stroke-width="0.78"/>
<text x="383.5" y="135.9" font-size="7.5" text-anchor="middle" fill="#222">76781</text>
<rect x="787.25" y="117" width="23.5" height="8" fill="#fff" stroke="#222" stroke-width="0.78"/>
<text x="799" y="123.9" font-size="7.5" text-anchor="middle" fill="#222">77950</text>
<rect x="679.25" y="356.5" width="23.5" height="8" fill="#fff" stroke="#222" stroke-width="0.78"/>
<text x="691" y="363.4" font-size="7.5" text-anchor="middle" fill="#222">77598</text>
</svg>
</body></html>
